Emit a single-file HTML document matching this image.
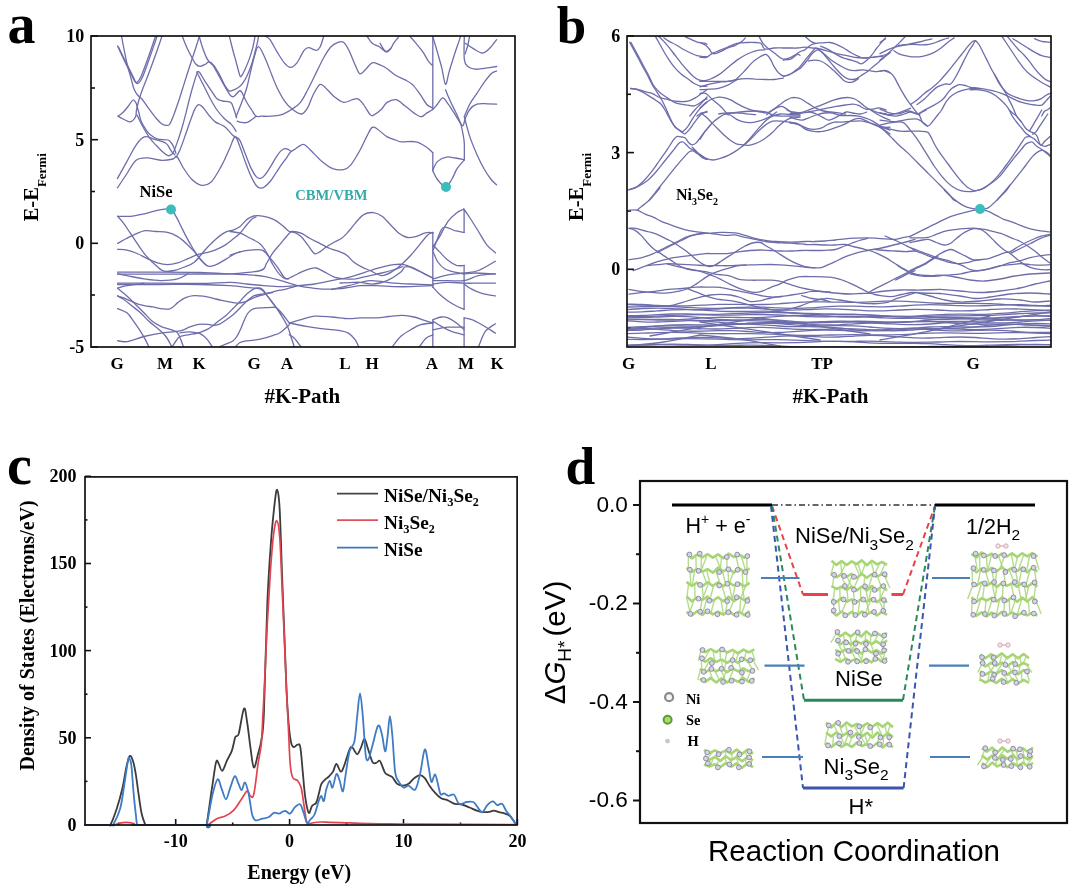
<!DOCTYPE html>
<html><head><meta charset="utf-8"><title>Figure</title>
<style>html,body{margin:0;padding:0;background:#fff;}svg{display:block;}</style>
</head><body>
<svg width="1080" height="892" viewBox="0 0 1080 892">
<rect width="1080" height="892" fill="#fff"/>
<text x="7.5" y="43.3" font-size="56" font-weight="bold" font-family="'Liberation Serif','Times New Roman',serif" text-anchor="start" >a</text>
<text x="84.2" y="42" font-size="18" font-weight="bold" font-family="'Liberation Serif','Times New Roman',serif" text-anchor="end" >10</text>
<line x1="91" y1="36" x2="98" y2="36" stroke="#111" stroke-width="1.6"/>
<text x="84.2" y="145.7" font-size="18" font-weight="bold" font-family="'Liberation Serif','Times New Roman',serif" text-anchor="end" >5</text>
<line x1="91" y1="139.7" x2="98" y2="139.7" stroke="#111" stroke-width="1.6"/>
<text x="84.2" y="249.3" font-size="18" font-weight="bold" font-family="'Liberation Serif','Times New Roman',serif" text-anchor="end" >0</text>
<line x1="91" y1="243.3" x2="98" y2="243.3" stroke="#111" stroke-width="1.6"/>
<text x="84.2" y="353" font-size="18" font-weight="bold" font-family="'Liberation Serif','Times New Roman',serif" text-anchor="end" >-5</text>
<line x1="91" y1="347" x2="98" y2="347" stroke="#111" stroke-width="1.6"/>
<line x1="91" y1="88" x2="95" y2="88" stroke="#111" stroke-width="1.6"/>
<line x1="91" y1="191.5" x2="95" y2="191.5" stroke="#111" stroke-width="1.6"/>
<line x1="91" y1="295" x2="95" y2="295" stroke="#111" stroke-width="1.6"/>
<text x="117" y="369.3" font-size="17" font-weight="bold" font-family="'Liberation Serif','Times New Roman',serif" text-anchor="middle" >G</text>
<text x="165" y="369.3" font-size="17" font-weight="bold" font-family="'Liberation Serif','Times New Roman',serif" text-anchor="middle" >M</text>
<text x="199" y="369.3" font-size="17" font-weight="bold" font-family="'Liberation Serif','Times New Roman',serif" text-anchor="middle" >K</text>
<text x="254" y="369.3" font-size="17" font-weight="bold" font-family="'Liberation Serif','Times New Roman',serif" text-anchor="middle" >G</text>
<text x="287" y="369.3" font-size="17" font-weight="bold" font-family="'Liberation Serif','Times New Roman',serif" text-anchor="middle" >A</text>
<text x="345" y="369.3" font-size="17" font-weight="bold" font-family="'Liberation Serif','Times New Roman',serif" text-anchor="middle" >L</text>
<text x="372" y="369.3" font-size="17" font-weight="bold" font-family="'Liberation Serif','Times New Roman',serif" text-anchor="middle" >H</text>
<text x="432" y="369.3" font-size="17" font-weight="bold" font-family="'Liberation Serif','Times New Roman',serif" text-anchor="middle" >A</text>
<text x="466" y="369.3" font-size="17" font-weight="bold" font-family="'Liberation Serif','Times New Roman',serif" text-anchor="middle" >M</text>
<text x="497" y="369.3" font-size="17" font-weight="bold" font-family="'Liberation Serif','Times New Roman',serif" text-anchor="middle" >K</text>
<text x="302.3" y="403" font-size="21" font-weight="bold" font-family="'Liberation Serif','Times New Roman',serif" text-anchor="middle" >#K-Path</text>
<text transform="translate(38.3,221.3) rotate(-90)" font-size="20.5" font-weight="bold" font-family="'Liberation Serif','Times New Roman',serif">E-E<tspan font-size="13" dy="7.8">Fermi</tspan></text>
<defs><clipPath id="clipA"><rect x="91" y="36" width="424" height="311"/></clipPath><clipPath id="clipB"><rect x="627" y="36" width="424" height="311"/></clipPath></defs><g clip-path="url(#clipA)" fill="none" stroke="#5e5ea2" stroke-width="1.3" stroke-linejoin="round" stroke-linecap="round" opacity="0.9">
<path d="M117.5,46.0C118.8,48.7 122.7,57.2 125.0,62.0C127.3,66.8 129.7,71.6 131.5,75.0C133.3,78.4 134.4,82.2 136.0,82.5C137.6,82.8 139.0,80.6 141.0,76.5C143.0,72.4 145.7,64.2 148.0,58.0C150.3,51.8 153.3,42.7 154.6,39.0C155.8,35.3 155.3,36.5 155.5,36.0"/>
<path d="M118.5,47.0C119.8,49.7 123.9,58.2 126.3,63.0C128.7,67.8 131.0,72.6 132.8,76.0C134.6,79.4 135.6,83.2 137.2,83.5C138.8,83.8 140.3,81.6 142.3,77.5C144.3,73.4 146.9,65.2 149.2,59.0C151.4,52.8 154.5,43.8 155.8,40.0C157.1,36.2 156.8,36.7 157.0,36.0"/>
<path d="M121.5,36.0C122.3,40.3 125.0,54.7 126.6,61.8C128.2,68.9 129.9,74.1 131.1,78.6C132.3,83.1 132.9,86.3 134.0,89.0C135.1,91.7 136.1,93.2 137.5,95.0C138.9,96.8 140.4,97.2 142.3,99.5C144.2,101.8 146.6,105.7 149.0,108.9C151.4,112.2 154.6,116.5 156.8,119.0C159.0,121.5 160.5,123.0 162.0,124.0C163.5,125.0 164.7,125.2 166.0,125.3C167.3,125.3 168.3,125.9 169.6,124.3C170.8,122.7 171.9,119.8 173.5,115.7C175.1,111.7 177.2,105.3 179.0,100.0C180.8,94.7 182.3,89.5 184.0,84.1C185.7,78.7 187.5,73.0 189.3,67.5C191.1,62.0 193.1,56.0 194.8,50.8C196.5,45.5 198.7,38.5 199.5,36.0"/>
<path d="M162.0,36.0C161.1,38.8 158.5,46.5 156.3,52.7C154.1,58.9 151.2,66.8 148.9,73.0C146.6,79.2 144.1,85.2 142.4,89.7C140.7,94.2 139.9,96.6 138.9,100.0C137.9,103.4 137.1,107.2 136.5,110.0C135.9,112.8 136.6,115.0 135.5,117.0C134.4,119.0 132.1,121.5 130.0,121.8C128.0,122.1 125.2,119.9 123.2,119.0C121.2,118.1 118.9,116.7 118.0,116.2"/>
<path d="M118.0,116.2C118.9,115.5 121.4,114.0 123.2,112.2C125.0,110.4 127.2,107.5 128.8,105.5C130.4,103.5 131.8,100.4 133.0,100.0C134.2,99.6 135.2,101.7 136.0,103.0C136.8,104.3 137.0,106.3 137.5,108.0C138.0,109.7 138.4,110.8 139.0,113.0C139.6,115.2 140.0,118.5 141.1,121.2C142.2,123.9 144.1,126.8 145.6,129.0C147.1,131.2 148.0,132.8 150.0,134.5C152.0,136.2 154.8,138.3 157.8,139.2C160.8,140.1 165.6,139.2 168.0,140.0C170.4,140.8 170.9,142.5 172.0,143.9C173.1,145.3 173.7,147.0 174.3,148.6C175.0,150.2 175.6,152.5 175.9,153.3"/>
<path d="M137.0,115.0C138.0,117.0 140.8,123.1 143.0,127.0C145.2,130.9 147.8,135.3 150.0,138.4C152.2,141.5 154.2,143.3 156.3,145.5C158.4,147.7 160.6,150.1 162.5,151.8C164.4,153.5 166.4,155.3 168.0,155.7C169.6,156.1 170.9,155.0 172.0,154.1C173.1,153.2 173.4,152.3 174.3,150.2C175.2,148.1 176.3,145.0 177.5,141.6C178.7,138.2 180.1,134.1 181.4,129.8C182.7,125.5 184.0,120.7 185.3,115.7C186.6,110.7 187.9,105.0 189.2,100.0C190.5,95.0 191.7,90.3 193.0,86.0C194.3,81.7 195.8,76.3 196.8,74.0C197.8,71.7 197.8,70.8 199.1,71.9C200.4,73.0 202.6,77.6 204.7,80.8C206.8,84.0 209.3,87.9 211.4,90.9C213.5,93.9 215.1,97.1 217.0,98.8C218.9,100.5 220.7,100.5 222.6,101.0C224.5,101.5 226.7,101.2 228.2,101.6C229.7,102.0 230.5,101.5 231.6,103.3C232.7,105.1 234.1,109.8 234.9,112.2C235.7,114.6 236.3,116.9 236.6,117.8"/>
<path d="M117.4,187.9C119.0,185.6 123.6,178.6 126.7,174.0C129.8,169.4 132.5,163.1 135.9,160.4C139.3,157.7 142.7,157.9 147.0,157.9C151.3,157.9 157.6,160.2 161.9,160.4C166.2,160.6 170.5,159.6 173.0,159.0C175.5,158.4 175.3,155.3 177.0,156.7C178.7,158.1 180.7,163.8 183.1,167.5C185.5,171.2 188.6,176.1 191.5,179.0C194.4,181.9 197.5,184.5 200.7,185.1C203.9,185.7 207.5,185.4 210.9,182.3C214.3,179.2 218.0,172.2 221.1,166.6C224.2,161.0 227.1,153.9 229.4,149.0C231.7,144.1 233.2,137.3 235.0,137.0C236.8,136.7 238.3,142.8 240.0,147.0C241.7,151.2 243.6,157.4 245.4,162.2C247.2,167.0 249.0,171.8 250.8,175.7C252.6,179.6 254.6,183.4 256.2,185.5C257.8,187.6 259.1,188.0 260.6,188.2C262.1,188.3 263.5,187.6 265.1,186.4C266.8,185.2 268.7,183.2 270.5,181.0C272.3,178.8 274.1,175.7 275.9,173.0C277.7,170.3 279.5,167.5 281.3,164.9C283.1,162.3 285.2,159.8 286.7,157.7C288.2,155.6 288.8,153.8 290.3,152.3C291.8,150.8 293.9,149.9 295.7,148.7C297.5,147.5 299.5,145.8 301.0,145.1C302.5,144.4 302.9,143.8 304.6,144.7C306.3,145.6 308.3,148.0 311.2,150.8C314.1,153.6 318.4,158.5 322.0,161.5C325.6,164.5 329.2,167.3 332.8,168.7C336.4,170.0 340.5,170.2 343.5,169.6C346.5,169.0 348.0,168.2 350.7,165.1C353.4,162.0 357.0,155.6 359.7,150.8C362.4,146.0 364.7,140.3 366.8,136.4C368.9,132.5 370.4,128.6 372.2,127.4C374.0,126.2 375.2,127.7 377.6,129.2C380.0,130.7 383.5,134.6 386.5,136.4C389.5,138.2 393.0,139.1 395.5,140.0C398.0,140.9 398.1,141.5 401.5,141.8C404.9,142.1 411.7,140.9 415.9,141.8C420.1,142.7 423.8,145.4 426.6,147.2C429.4,149.0 431.6,151.7 432.6,152.6"/>
<path d="M117.4,178.6C119.0,175.8 123.6,167.4 126.7,161.9C129.8,156.4 133.0,149.5 135.9,145.3C138.8,141.1 141.2,137.9 144.3,136.9C147.4,135.9 150.9,138.3 154.4,139.3C157.9,140.3 162.8,141.1 165.6,143.0C168.4,144.9 169.6,148.8 171.1,150.8C172.6,152.8 174.2,154.2 174.8,154.9"/>
<path d="M176.0,157.5C176.6,156.3 178.2,153.9 179.8,150.2C181.4,146.5 183.5,140.4 185.3,135.3C187.1,130.2 189.2,123.9 190.8,119.6C192.4,115.3 193.4,111.9 194.7,109.4C196.0,106.9 197.2,105.0 198.6,104.7C200.0,104.4 201.4,105.8 203.3,107.8C205.2,109.8 207.9,114.1 210.0,116.5C212.1,118.9 213.1,120.4 215.6,122.1C218.1,123.8 222.0,124.5 224.8,126.7C227.7,128.9 230.8,133.5 232.7,135.2C234.6,136.9 234.8,136.1 236.0,137.0C237.2,137.9 238.4,137.8 240.0,140.6C241.6,143.4 243.6,149.6 245.4,154.1C247.2,158.6 249.0,163.8 250.8,167.6C252.6,171.3 254.6,174.8 256.2,176.6C257.8,178.4 259.1,178.6 260.6,178.3C262.1,178.0 263.5,176.7 265.1,174.8C266.8,172.9 268.7,169.5 270.5,166.7C272.3,163.8 274.2,160.2 275.9,157.7C277.5,155.1 278.9,152.9 280.4,151.4C281.9,149.9 283.5,149.0 284.9,148.7C286.2,148.4 287.4,149.1 288.5,149.6C289.6,150.1 290.8,151.1 291.2,151.4"/>
<path d="M196.8,71.9C197.9,74.1 201.2,80.8 203.5,85.3C205.8,89.8 208.1,94.7 210.3,98.8C212.6,102.9 214.6,106.6 217.0,110.0C219.4,113.4 222.4,116.6 224.8,119.0C227.2,121.4 229.7,122.5 231.6,124.6C233.5,126.6 235.3,130.2 236.1,131.3"/>
<path d="M182.2,36.0C182.9,37.9 185.2,43.8 186.7,47.2C188.2,50.6 189.7,53.4 191.2,56.2C192.7,59.0 194.2,62.3 195.7,64.0C197.2,65.7 198.5,66.3 200.2,66.3C201.9,66.3 204.3,64.8 205.8,64.0C207.3,63.2 207.8,61.6 209.1,61.8C210.4,62.0 211.9,63.0 213.6,65.1C215.3,67.1 217.3,70.7 219.2,74.1C221.1,77.5 223.1,82.5 224.8,85.3C226.5,88.1 227.8,90.2 229.3,90.9C230.8,91.7 232.3,90.3 233.8,89.8C235.3,89.2 236.8,88.7 238.3,87.6C239.8,86.5 241.3,85.2 242.8,83.1C244.3,81.0 245.8,78.4 247.3,75.2C248.8,72.0 250.4,67.9 251.7,64.0C253.0,60.1 254.2,55.2 255.1,51.7C256.1,48.2 256.8,45.3 257.4,42.7C258.0,40.1 258.3,37.1 258.5,36.0"/>
<path d="M199.1,36.0C199.7,37.9 201.1,43.5 202.4,47.2C203.7,50.9 205.6,55.8 206.9,58.4C208.2,61.0 209.2,61.6 210.3,62.9C211.4,64.2 212.1,64.0 213.6,66.3C215.1,68.5 217.3,73.1 219.2,76.4C221.1,79.8 222.9,83.2 224.8,86.4C226.7,89.6 228.9,93.7 230.4,95.4C231.9,97.1 232.3,97.2 233.8,96.5C235.3,95.8 238.1,91.6 239.4,90.9C240.7,90.2 240.9,91.2 241.7,92.1C242.4,93.0 243.0,94.6 243.9,96.5C244.8,98.4 246.0,101.0 247.3,103.3C248.6,105.5 250.2,107.8 251.7,110.0C253.2,112.2 254.5,115.2 256.2,116.2C257.9,117.2 259.7,116.2 262.0,116.2C264.3,116.2 266.9,116.4 270.0,116.2C273.1,116.0 277.2,116.0 280.8,114.9C284.4,113.8 288.2,111.6 291.5,109.5C294.8,107.4 297.8,105.6 300.5,102.3C303.2,99.0 305.0,94.9 307.7,89.8C310.4,84.7 313.9,77.3 316.6,71.9C319.3,66.5 321.4,61.7 323.8,57.5C326.2,53.3 328.6,49.3 331.0,46.8C333.4,44.3 336.0,43.0 338.1,42.3C340.2,41.5 341.7,41.0 343.5,42.3C345.3,43.6 347.1,46.9 348.9,50.3C350.7,53.7 352.5,59.0 354.3,62.9C356.1,66.8 357.9,72.5 359.7,73.7C361.5,74.9 362.9,71.9 365.0,70.1C367.1,68.3 369.8,63.8 372.2,62.9C374.6,62.0 377.0,63.8 379.4,64.7C381.8,65.6 383.8,66.5 386.5,68.3C389.2,70.0 392.4,73.3 395.5,75.2C398.6,77.1 402.3,78.4 405.1,79.9C407.9,81.4 409.9,82.2 412.3,84.4C414.7,86.7 417.1,90.1 419.5,93.4C421.9,96.7 424.5,101.8 426.6,104.2C428.7,106.6 431.1,107.1 432.0,107.7"/>
<path d="M229.3,36.0C229.9,38.2 231.6,45.2 232.7,49.5C233.8,53.8 235.0,57.7 236.1,61.8C237.2,65.9 238.6,71.7 239.4,74.1C240.2,76.5 240.2,77.2 241.1,76.4C242.0,75.7 243.6,72.6 245.0,69.6C246.4,66.6 248.2,62.1 249.5,58.4C250.8,54.7 252.0,50.9 252.9,47.2C253.8,43.5 254.7,37.9 255.1,36.0"/>
<path d="M236.1,116.7C236.8,114.8 239.2,108.9 240.5,105.5C241.8,102.1 242.8,99.6 243.9,96.5C245.0,93.4 245.9,91.1 247.0,87.0C248.1,82.9 249.3,76.8 250.5,72.0C251.7,67.2 252.7,62.2 254.0,58.0C255.3,53.8 256.6,46.6 258.5,46.7C260.4,46.8 263.0,53.6 265.2,58.4C267.4,63.1 269.9,70.3 271.9,75.2C273.9,80.1 275.1,83.8 277.2,88.0C279.3,92.2 281.9,97.2 284.3,100.6C286.7,104.0 288.6,106.4 291.5,108.6C294.4,110.8 298.7,114.2 301.4,114.0C304.1,113.8 305.8,110.8 307.7,107.7C309.6,104.6 310.9,99.1 313.0,95.2C315.1,91.3 317.8,85.3 320.2,84.4C322.6,83.5 325.0,87.7 327.4,89.8C329.8,91.9 331.9,94.9 334.6,97.0C337.3,99.1 340.5,101.8 343.5,102.3C346.5,102.8 350.1,100.3 352.5,99.7C354.9,99.1 356.1,98.1 357.9,98.8C359.7,99.5 361.1,101.4 363.2,104.1C365.3,106.8 368.6,113.1 370.4,114.9C372.2,116.7 372.2,115.8 374.0,114.9C375.8,114.0 379.0,111.6 381.2,109.5C383.4,107.4 384.7,104.0 387.2,102.4C389.7,100.8 393.1,99.1 396.1,99.7C399.1,100.3 402.1,103.8 405.1,106.0C408.1,108.2 411.4,111.3 414.1,113.1C416.8,114.9 419.2,116.7 421.3,116.7C423.4,116.7 424.7,114.3 426.6,113.1C428.5,111.9 430.8,111.0 432.6,109.5C434.4,108.0 435.7,106.1 437.4,104.2C439.1,102.3 441.0,97.9 442.8,97.9C444.6,97.9 446.1,101.4 448.2,104.2C450.3,107.0 452.9,111.3 455.3,114.9C457.7,118.5 460.9,125.1 462.5,125.7C464.1,126.3 464.0,121.2 465.2,118.5C466.4,115.8 467.8,111.9 469.7,109.5C471.6,107.1 473.9,105.2 476.9,104.2C479.9,103.2 484.3,103.8 487.6,103.8C490.9,103.8 495.1,104.1 496.6,104.2"/>
<path d="M265.0,36.0C265.8,36.6 268.0,36.9 270.0,39.6C272.0,42.3 274.8,48.2 277.2,52.1C279.6,56.0 282.1,60.3 284.3,62.9C286.5,65.5 288.5,67.4 290.6,67.4C292.7,67.4 294.6,65.8 296.9,62.9C299.1,60.0 302.2,52.8 304.1,50.3C306.1,47.8 306.5,47.7 308.6,47.7C310.7,47.7 314.7,50.4 316.6,50.3C318.5,50.1 319.0,49.2 320.2,46.8C321.4,44.4 323.2,37.8 323.8,36.0"/>
<path d="M237.2,121.2C237.8,121.4 238.8,122.1 240.5,122.3C242.2,122.5 244.7,123.3 247.3,122.3C249.9,121.3 254.7,117.2 256.2,116.2"/>
<path d="M366.8,36.0C367.7,37.2 370.1,41.4 372.2,43.2C374.3,45.0 377.0,45.3 379.4,46.8C381.8,48.3 384.6,51.9 386.5,52.1C388.4,52.3 389.8,49.5 391.0,48.0C392.2,46.5 392.6,44.9 393.7,43.2C394.8,41.5 397.0,39.0 397.9,37.8C398.8,36.6 398.8,36.3 399.0,36.0"/>
<path d="M380.0,43.2C380.9,44.5 383.6,50.3 385.4,51.2C387.2,52.1 389.9,49.0 390.8,48.6"/>
<path d="M409.6,36.0C410.7,37.2 413.7,40.5 415.9,43.2C418.1,45.9 420.9,49.1 423.0,52.1C425.1,55.1 426.8,58.9 428.4,61.1C430.0,63.4 431.9,64.8 432.6,65.6"/>
<path d="M432.6,36.0C433.4,38.7 435.8,46.7 437.4,52.1C438.9,57.5 440.5,62.9 441.9,68.3C443.2,73.7 444.3,83.8 445.5,84.4C446.7,85.0 447.8,76.4 449.1,71.9C450.4,67.4 451.9,62.6 453.5,57.5C455.1,52.4 457.7,45.0 458.9,41.4C460.1,37.8 460.4,36.9 460.7,36.0"/>
<path d="M445.5,89.8C446.2,91.6 448.4,97.0 450.0,100.6C451.6,104.2 453.5,107.4 455.3,111.3C457.1,115.2 459.4,119.7 460.7,123.9C462.0,128.1 462.8,133.1 463.4,136.4C464.0,139.7 464.1,139.7 464.3,143.6C464.5,147.5 464.3,157.1 464.3,159.8"/>
<path d="M464.3,116.7C465.2,120.0 467.6,130.1 469.7,136.4C471.8,142.7 474.5,149.0 476.9,154.4C479.3,159.8 481.6,164.5 484.0,168.7C486.4,172.9 489.1,176.8 491.2,179.5C493.3,182.2 495.7,184.0 496.6,184.9"/>
<path d="M464.3,116.7C465.2,114.6 467.6,108.1 469.7,104.2C471.8,100.3 474.5,97.0 476.9,93.4C479.3,89.8 481.6,85.9 484.0,82.6C486.4,79.3 489.1,75.6 491.2,73.7C493.3,71.8 495.7,71.5 496.6,71.0"/>
<path d="M464.3,36.0C464.3,39.9 463.7,54.2 464.3,59.3C464.9,64.4 466.1,64.8 467.9,66.5C469.7,68.2 472.4,68.9 475.1,69.2C477.8,69.5 480.4,68.8 484.0,68.3C487.6,67.8 494.5,66.8 496.6,66.5"/>
<path d="M465.2,43.2C466.6,44.1 470.5,47.0 473.3,48.6C476.1,50.2 479.5,53.0 482.2,53.0C484.9,53.0 487.0,50.8 489.4,48.6C491.8,46.4 495.4,41.1 496.6,39.6"/>
<path d="M469.7,36.0C469.4,37.5 468.6,42.0 467.9,45.0C467.1,48.0 465.6,52.4 465.2,53.9"/>
<path d="M432.6,170.5C433.4,172.0 435.2,176.8 437.4,179.5C439.5,182.2 443.1,186.7 445.5,186.7C447.9,186.7 449.8,182.5 451.7,179.5C453.6,176.5 455.0,172.0 457.1,168.7C459.2,165.4 463.1,161.3 464.3,159.8"/>
<path d="M432.6,170.5C433.4,169.0 435.1,163.8 437.4,161.6C439.7,159.4 443.4,157.7 446.4,157.1C449.4,156.5 452.3,157.6 455.3,158.0C458.3,158.4 462.8,159.5 464.3,159.8"/>
<path d="M432.8,36.0C432.8,48.2 432.8,97.2 432.8,109.5"/>
<path d="M432.8,152.6C432.8,155.6 432.8,167.5 432.8,170.5"/>
<path d="M117.6,216.3C119.7,216.3 125.9,216.7 130.3,216.3C134.7,215.9 139.4,214.8 143.9,213.8C148.4,212.8 153.0,211.2 157.4,210.4C161.8,209.6 167.0,208.2 170.1,209.2C173.2,210.2 174.2,213.4 176.0,216.3C177.8,219.2 179.4,223.1 181.1,226.5C182.8,229.9 184.2,232.9 186.2,236.6C188.2,240.3 190.7,244.8 192.9,248.5C195.2,252.2 197.4,255.8 199.7,258.6C202.0,261.4 204.5,264.1 206.5,265.4C208.5,266.7 209.6,266.5 211.6,266.2C213.6,265.9 215.8,265.0 218.3,263.7C220.8,262.4 224.0,260.3 226.8,258.6C229.6,256.9 233.1,254.6 235.3,253.5C237.5,252.4 239.2,252.2 240.0,251.9"/>
<path d="M117.6,216.3C118.6,217.4 121.4,220.3 123.5,223.1C125.6,225.9 128.0,229.8 130.3,233.2C132.6,236.6 134.6,239.7 137.1,243.4C139.6,247.1 142.7,251.8 145.5,255.2C148.3,258.6 151.4,261.3 154.0,263.7C156.6,266.1 158.8,268.3 160.8,269.6C162.8,270.9 163.7,271.2 165.9,271.3C168.2,271.4 171.2,271.2 174.3,270.5C177.4,269.8 181.1,268.4 184.5,267.0C187.9,265.6 191.2,264.8 194.6,262.0C198.0,259.2 201.4,253.9 204.8,250.2C208.2,246.5 211.5,243.0 214.9,240.0C218.3,237.0 222.0,234.1 225.1,232.4C228.2,230.7 231.1,230.9 233.6,229.9C236.1,228.9 237.8,228.2 240.0,226.5C242.2,224.8 244.6,221.2 246.9,219.5C249.2,217.8 250.9,216.5 253.7,216.0C256.5,215.5 260.5,215.7 263.9,216.3C267.3,216.9 270.9,218.1 274.0,219.7C277.1,221.2 279.9,223.6 282.5,225.6C285.1,227.6 287.3,230.4 289.3,231.5C291.3,232.6 292.3,231.6 294.3,232.4C296.3,233.2 298.8,234.5 301.1,236.6C303.4,238.7 305.6,242.3 307.9,245.1C310.1,247.9 312.6,252.5 314.6,253.6C316.6,254.7 317.7,253.0 319.7,251.9C321.7,250.8 323.9,248.5 326.5,246.8C329.1,245.1 332.5,243.1 335.0,241.7C337.5,240.3 339.4,240.0 341.7,238.3C343.9,236.6 346.2,234.0 348.5,231.5C350.8,229.0 352.8,225.9 355.3,223.1C357.8,220.3 360.7,216.3 363.7,214.6C366.7,212.8 370.4,212.3 373.5,212.6C376.6,212.9 379.2,214.3 382.0,216.3C384.8,218.3 387.7,222.0 390.5,224.8C393.3,227.6 396.1,231.1 398.9,233.2C401.7,235.3 404.6,236.9 407.4,237.5C410.2,238.1 413.1,237.3 415.9,236.6C418.7,235.9 422.1,233.9 424.3,233.2C426.6,232.5 427.9,232.4 429.4,232.4C430.9,232.4 432.5,233.1 433.1,233.2"/>
<path d="M117.6,243.4C119.1,242.6 123.9,239.9 126.9,238.3C129.9,236.8 132.3,235.4 135.4,234.1C138.5,232.8 142.1,231.1 145.5,230.7C148.9,230.3 152.0,231.2 155.7,231.5C159.4,231.8 163.8,231.6 167.5,232.4C171.2,233.2 174.6,234.8 177.7,236.6C180.8,238.4 183.4,240.8 186.2,243.4C189.0,246.0 192.1,249.1 194.6,251.9C197.1,254.7 199.4,258.1 201.4,260.3C203.4,262.6 205.7,264.5 206.5,265.4"/>
<path d="M117.6,249.3C119.1,249.5 123.7,249.5 126.9,250.2C130.2,250.9 133.7,252.1 137.1,253.5C140.5,254.9 143.8,257.0 147.2,258.6C150.6,260.2 154.0,261.9 157.4,262.9C160.8,263.9 164.1,264.6 167.5,264.6C170.9,264.6 174.3,263.9 177.7,262.9C181.1,261.9 184.5,260.0 187.9,258.6C191.3,257.2 194.9,255.4 198.0,254.4C201.1,253.4 203.7,253.4 206.5,252.7C209.3,252.0 211.8,251.5 214.9,250.2C218.0,248.9 222.3,246.8 225.1,245.1C227.9,243.4 229.4,242.0 231.9,240.0C234.4,238.0 237.5,235.8 240.0,233.2C242.5,230.6 245.0,226.9 247.0,224.5C249.0,222.1 250.5,220.2 252.0,219.0C253.5,217.8 255.3,217.3 256.0,217.0"/>
<path d="M117.6,273.9C119.1,274.2 122.5,274.8 126.9,275.6C131.3,276.4 138.2,278.1 143.9,278.9C149.6,279.7 155.2,280.6 160.8,280.6C166.4,280.6 173.2,280.0 177.7,278.9C182.2,277.8 186.2,274.7 187.9,273.9"/>
<path d="M117.6,272.2C124.7,272.2 146.3,272.1 160.0,272.2C173.7,272.2 188.3,272.2 200.0,272.5C211.7,272.8 222.2,273.5 230.0,273.9C237.8,274.3 241.2,274.3 246.9,274.7C252.6,275.1 258.2,275.4 263.9,276.4C269.5,277.4 275.2,279.1 280.8,280.6C286.4,282.2 292.1,284.4 297.7,285.7C303.3,287.0 309.0,287.7 314.6,288.3C320.2,288.9 326.0,289.5 331.6,289.1C337.2,288.7 342.1,287.1 348.5,285.7C354.9,284.3 362.4,281.0 370.0,280.6C377.6,280.2 387.1,282.6 393.9,283.2C400.7,283.8 404.3,283.7 410.8,284.0C417.3,284.3 429.3,284.8 433.0,285.0"/>
<path d="M117.6,274.2C124.7,274.2 146.3,274.2 160.0,274.2C173.7,274.2 188.3,274.1 200.0,274.0C211.7,273.9 219.9,274.5 230.0,273.9C240.1,273.3 254.4,272.2 260.5,270.5C266.6,268.8 264.4,266.5 266.4,263.7C268.4,260.9 269.9,257.0 272.3,253.6C274.7,250.2 278.0,246.8 280.8,243.4C283.6,240.0 287.3,235.2 289.3,233.2C291.3,231.2 290.6,231.5 292.6,231.5C294.6,231.5 298.3,232.1 301.1,233.2C303.9,234.3 306.5,236.6 309.6,238.3C312.7,240.0 316.3,241.7 319.7,243.4C323.1,245.1 326.5,247.1 329.9,248.5C333.3,249.9 337.2,250.8 340.0,251.9C342.8,253.0 344.5,253.6 346.8,255.3C349.1,257.0 351.1,260.0 353.6,262.0C356.1,264.0 359.3,265.7 362.0,267.1C364.7,268.5 366.7,269.1 370.0,270.5C373.3,271.9 378.0,275.6 382.0,275.6C386.0,275.6 390.5,272.5 393.9,270.5C397.3,268.5 399.5,266.2 402.3,263.7C405.1,261.2 408.0,258.4 410.8,255.3C413.6,252.2 416.5,248.5 419.3,245.1C422.1,241.7 425.4,237.0 427.7,234.9C430.0,232.8 432.1,232.8 433.0,232.4"/>
<path d="M117.6,283.2C124.7,283.2 146.3,283.1 160.0,283.2C173.7,283.2 188.3,283.6 200.0,283.5C211.7,283.4 222.2,282.2 230.0,282.3C237.8,282.4 241.2,283.4 246.9,284.0C252.6,284.6 258.2,285.3 263.9,285.7C269.5,286.1 275.2,286.6 280.8,286.6C286.4,286.6 292.1,286.1 297.7,285.7C303.3,285.3 309.0,284.9 314.6,284.0C320.2,283.1 326.0,281.7 331.6,280.6C337.2,279.5 343.8,278.4 348.5,277.3C353.2,276.2 356.4,275.0 360.0,273.9C363.6,272.8 366.5,271.6 370.2,270.5C373.9,269.4 378.1,268.1 382.0,267.1C385.9,266.1 390.2,265.0 393.9,264.6C397.6,264.2 400.6,263.9 404.0,264.6C407.4,265.3 410.8,267.2 414.2,268.8C417.6,270.4 421.1,272.3 424.3,273.9C427.5,275.4 431.6,277.4 433.1,278.1"/>
<path d="M117.6,284.5C124.7,284.5 146.3,284.5 160.0,284.5C173.7,284.5 188.3,284.3 200.0,284.5C211.7,284.7 222.2,285.2 230.0,285.7C237.8,286.2 241.8,286.8 246.9,287.4C252.0,288.0 257.1,287.7 260.5,289.1C263.9,290.5 264.9,293.4 267.2,295.9C269.4,298.4 271.7,301.2 274.0,304.3C276.3,307.4 278.5,310.8 280.8,314.5C283.1,318.2 285.9,322.7 287.6,326.4C289.3,330.1 289.8,333.1 290.9,336.5C292.0,339.9 293.7,345.2 294.3,347.0"/>
<path d="M117.6,288.2C119.1,287.8 122.5,286.5 126.9,285.7C131.3,284.9 141.1,283.6 143.9,283.2"/>
<path d="M117.6,295.9C119.1,296.5 123.4,297.9 126.9,299.3C130.4,300.7 134.6,303.0 138.8,304.3C143.0,305.6 147.2,306.1 152.3,306.9C157.4,307.7 165.0,309.8 169.2,309.1C173.4,308.4 175.0,304.5 177.7,302.6C180.4,300.7 182.9,298.8 185.6,297.6C188.3,296.5 191.0,295.9 193.9,295.7C196.8,295.5 200.0,295.8 203.1,296.2C206.2,296.6 209.3,297.4 212.4,298.1C215.5,298.8 218.6,299.7 221.7,300.4C224.8,301.1 228.3,301.8 230.9,302.2C233.5,302.6 235.1,303.2 237.4,303.1C239.7,303.0 242.0,302.7 244.8,301.8C247.6,300.9 251.0,298.8 254.1,297.6C257.2,296.4 260.2,295.7 263.3,294.8C266.4,293.9 269.8,292.8 272.6,292.0C275.4,291.2 277.8,290.7 280.0,290.2C282.2,289.7 282.9,289.9 285.9,289.1C288.8,288.4 295.7,286.3 297.7,285.7"/>
<path d="M117.6,288.2C119.1,289.5 123.9,293.2 126.9,295.9C129.9,298.6 132.6,301.5 135.4,304.3C138.2,307.1 141.1,310.0 143.9,312.8C146.7,315.6 149.5,319.1 152.3,321.3C155.1,323.6 157.7,324.9 160.8,326.3C163.9,327.7 168.1,328.6 170.9,329.7C173.7,330.8 175.7,330.6 177.7,333.1C179.7,335.7 181.8,342.7 182.8,345.0C183.8,347.3 183.4,346.7 183.5,347.0"/>
<path d="M117.6,295.9C118.6,296.5 121.1,297.6 123.5,299.3C125.9,301.0 129.2,303.8 132.0,306.0C134.8,308.2 137.7,310.2 140.5,312.8C143.3,315.4 145.8,318.5 148.9,321.3C152.0,324.1 156.3,327.2 159.1,329.7C161.9,332.2 163.9,333.9 165.9,336.5C167.9,339.1 170.0,343.2 170.9,345.0C171.8,346.8 171.4,346.7 171.5,347.0"/>
<path d="M117.6,308.6C119.1,309.3 124.2,310.7 126.9,312.8C129.6,314.9 131.4,318.2 133.7,321.3C136.0,324.4 138.5,328.3 140.5,331.4C142.5,334.5 144.1,337.3 145.5,339.9C146.9,342.5 148.3,345.8 148.9,347.0"/>
<path d="M117.6,340.7C119.1,340.9 122.5,342.3 126.9,341.6C131.3,340.9 138.2,337.9 143.9,336.5C149.6,335.1 154.8,334.0 160.8,333.1C166.8,332.2 175.2,331.9 180.0,330.9C184.8,329.9 186.2,328.3 189.3,327.2C192.4,326.1 195.4,324.9 198.5,324.4C201.6,323.9 205.3,324.2 207.8,324.4C210.3,324.6 211.5,325.4 213.3,325.4C215.2,325.4 216.7,325.3 218.9,324.4C221.1,323.5 223.8,321.5 226.3,319.8C228.8,318.1 231.4,316.3 233.7,314.3C236.0,312.3 238.0,310.0 240.2,307.8C242.4,305.6 244.4,303.3 246.7,301.3C249.0,299.3 251.3,296.9 254.1,295.7C256.9,294.5 260.2,294.4 263.3,293.9C266.4,293.4 271.1,292.7 272.6,292.5"/>
<path d="M172.0,347.0C172.7,346.0 174.7,342.8 176.0,341.0C177.3,339.2 177.8,337.6 180.0,336.5C182.2,335.4 186.2,335.2 189.3,334.6C192.4,334.0 195.4,333.7 198.5,332.8C201.6,331.9 205.3,330.3 207.8,329.1C210.3,327.9 211.5,326.8 213.3,325.4C215.2,324.0 216.7,322.4 218.9,320.7C221.1,319.0 223.8,317.3 226.3,315.2C228.8,313.1 231.5,310.0 233.7,307.8C235.9,305.6 237.1,304.5 239.3,302.2C241.5,299.9 244.2,296.1 246.7,293.9C249.2,291.7 251.9,289.8 254.1,288.8C256.2,287.8 258.1,287.7 259.6,287.9C261.1,288.1 261.9,288.7 263.3,290.2C264.7,291.7 266.4,294.5 268.0,296.7C269.6,298.9 271.1,301.1 272.6,303.1C274.1,305.1 275.8,306.8 277.2,308.7C278.6,310.6 280.2,313.5 280.8,314.5"/>
<path d="M180.0,332.8C181.6,332.6 186.2,331.8 189.3,331.9C192.4,332.0 196.2,332.6 198.5,333.2C200.8,333.8 201.5,334.4 203.1,335.6C204.7,336.8 206.4,338.5 207.8,340.2C209.2,341.9 210.7,344.5 211.5,345.7C212.3,346.9 212.2,347.3 212.4,347.6"/>
<path d="M230.0,231.5C231.7,231.8 236.8,232.1 240.2,233.2C243.6,234.3 246.9,236.5 250.3,238.3C253.7,240.1 257.7,241.6 260.5,244.2C263.3,246.8 265.2,250.3 267.2,253.6C269.2,256.9 270.3,260.3 272.3,263.7C274.3,267.1 276.8,271.4 279.1,273.9C281.4,276.4 283.6,278.5 285.9,278.9C288.1,279.3 290.1,277.5 292.6,276.4C295.1,275.3 298.3,273.5 301.1,272.2C303.9,270.9 307.1,269.5 309.6,268.8C312.1,268.1 313.8,267.4 316.3,268.0C318.8,268.6 321.7,270.6 324.8,272.2C327.9,273.8 331.6,276.2 335.0,277.3C338.4,278.4 341.7,278.6 345.1,278.9C348.5,279.2 351.2,279.4 355.3,278.9C359.4,278.3 365.6,276.6 370.0,275.6C374.4,274.6 378.2,273.9 382.0,273.0C385.8,272.1 389.5,271.1 393.0,270.0C396.5,268.9 401.3,267.1 403.0,266.5"/>
<path d="M230.0,255.3C231.7,254.7 236.8,252.8 240.2,251.9C243.6,251.1 246.6,250.5 250.3,250.2C254.0,249.9 258.8,248.8 262.2,250.2C265.6,251.6 268.1,255.8 270.6,258.6C273.1,261.4 275.1,264.0 277.4,267.1C279.7,270.2 282.4,275.3 284.2,277.3C286.0,279.3 287.7,278.6 288.4,278.9"/>
<path d="M219.8,346.7C220.9,346.2 224.1,344.8 226.3,343.9C228.5,343.0 231.0,342.5 232.8,341.1C234.7,339.7 236.0,337.8 237.4,335.6C238.8,333.4 239.9,330.9 241.1,328.1C242.3,325.3 243.6,321.5 244.8,318.9C246.0,316.3 246.9,314.1 248.5,312.4C250.1,310.7 251.6,309.5 254.1,308.7C256.6,307.9 260.2,308.0 263.3,307.8C266.4,307.6 270.4,307.3 272.6,307.3C274.8,307.3 274.9,307.0 276.3,307.8C277.7,308.6 278.6,309.5 280.8,312.0C283.0,314.5 287.9,321.2 289.3,323.0"/>
<path d="M289.3,323.0C291.3,322.4 296.9,320.7 301.1,319.6C305.3,318.5 309.5,316.6 314.6,316.2C319.7,315.8 326.0,316.6 331.6,317.0C337.2,317.4 343.8,318.6 348.5,318.7C353.2,318.8 355.3,318.0 360.0,317.9C364.7,317.8 372.1,318.1 376.9,317.9C381.7,317.7 384.6,316.9 388.8,316.5C393.0,316.1 398.1,315.3 402.3,315.4C406.5,315.5 410.5,316.2 414.2,317.0C417.9,317.8 421.1,319.4 424.3,320.4C427.5,321.4 431.6,322.6 433.1,323.0"/>
<path d="M289.3,323.0C292.1,323.6 300.6,325.4 306.2,326.4C311.8,327.4 317.5,328.2 323.1,328.9C328.7,329.6 335.8,329.9 340.0,330.6C344.2,331.3 345.9,331.6 348.5,333.1C351.1,334.7 353.6,337.6 355.3,339.9C357.0,342.2 358.1,345.8 358.7,347.0"/>
<path d="M235.6,346.7C236.2,346.1 237.8,343.9 239.3,343.0C240.8,342.1 242.3,341.6 244.8,341.1C247.3,340.6 251.0,340.7 254.1,340.2C257.2,339.7 260.2,339.1 263.3,338.3C266.4,337.5 269.8,336.5 272.6,335.6C275.4,334.7 277.2,334.6 280.0,332.8C282.8,331.0 287.8,326.1 289.3,324.7"/>
<path d="M289.3,334.8C290.1,335.4 292.3,336.2 294.3,338.2C296.3,340.2 300.0,345.5 301.1,347.0"/>
<path d="M340.0,283.0C341.7,282.9 346.7,282.7 350.0,282.6C353.3,282.5 356.1,282.1 360.0,282.3C363.9,282.5 369.0,284.3 373.5,284.0C378.0,283.7 382.6,282.6 387.1,280.6C391.6,278.6 397.6,274.5 400.6,272.2C403.6,269.9 403.1,267.8 405.0,267.0C406.9,266.2 409.4,266.8 412.0,267.5C414.6,268.2 417.0,269.8 420.4,271.5C423.8,273.2 430.6,276.9 432.6,278.0"/>
<path d="M331.6,289.5C333.8,289.2 340.3,288.6 345.0,288.0C349.7,287.4 354.7,286.1 360.0,285.7C365.3,285.3 371.2,285.5 376.9,285.7C382.5,285.9 388.2,286.5 393.9,286.6C399.5,286.8 404.3,286.8 410.8,286.6C417.3,286.5 429.4,285.9 433.1,285.7"/>
<path d="M433.1,246.8C434.2,245.1 437.1,240.8 439.6,236.6C442.1,232.4 445.2,225.3 448.0,221.4C450.8,217.5 453.9,214.9 456.5,212.9C459.1,210.9 462.0,210.1 463.3,209.5C464.6,208.9 463.0,208.1 464.1,209.5C465.2,210.9 467.6,214.3 470.0,218.0C472.4,221.7 475.7,227.0 478.5,231.5C481.3,236.0 484.2,241.6 487.0,245.1C489.8,248.6 494.0,251.4 495.4,252.7"/>
<path d="M433.1,250.2C434.5,246.8 439.1,233.7 441.3,229.9C443.5,226.1 444.1,227.2 446.3,227.3C448.6,227.4 451.8,229.8 454.8,230.7C457.8,231.5 462.6,232.1 464.1,232.4"/>
<path d="M433.1,245.1C434.2,246.2 437.1,249.4 439.6,251.9C442.1,254.4 445.2,258.1 448.0,260.3C450.8,262.6 453.8,264.5 456.5,265.4C459.2,266.2 462.8,265.4 464.1,265.4"/>
<path d="M433.1,251.9C433.9,253.6 436.0,259.2 437.9,262.0C439.8,264.8 441.8,267.1 444.6,268.8C447.4,270.5 451.6,271.4 454.8,272.2C458.1,273.0 462.6,273.6 464.1,273.9"/>
<path d="M433.1,279.0C435.0,278.4 441.0,276.5 444.6,275.6C448.2,274.8 451.6,274.3 454.8,273.9C458.1,273.5 460.2,273.6 464.1,273.0C468.1,272.4 473.3,272.5 478.5,270.5C483.7,268.5 492.6,262.8 495.4,261.2"/>
<path d="M433.1,280.6C435.6,280.6 442.8,280.6 448.0,280.6C453.2,280.6 459.0,281.4 464.1,280.6C469.2,279.8 473.3,276.7 478.5,275.6C483.7,274.5 492.6,274.2 495.4,273.9"/>
<path d="M433.1,284.0C435.6,283.7 442.8,282.4 448.0,282.3C453.2,282.2 459.0,283.1 464.1,283.2C469.2,283.3 473.3,283.2 478.5,283.2C483.7,283.2 492.6,283.2 495.4,283.2"/>
<path d="M433.1,287.4C434.2,288.5 437.1,291.9 439.6,294.2C442.1,296.5 445.2,299.0 448.0,301.0C450.8,303.0 453.8,304.6 456.5,306.0C459.2,307.4 462.8,308.8 464.1,309.4"/>
<path d="M464.1,284.0C465.4,284.9 468.7,287.6 471.7,289.1C474.7,290.7 477.9,292.2 481.9,293.3C485.8,294.4 493.1,295.5 495.4,295.9"/>
<path d="M464.1,273.9C465.9,273.8 469.9,273.0 475.1,273.0C480.3,273.0 492.0,273.8 495.4,273.9"/>
<path d="M392.2,347.0C393.6,345.2 397.5,339.4 400.6,336.5C403.7,333.6 407.4,331.7 410.8,329.7C414.2,327.7 417.2,325.8 420.9,324.7C424.6,323.6 431.1,323.3 433.1,323.0"/>
<path d="M419.3,347.0C420.4,345.5 423.7,340.2 426.0,338.2C428.3,336.2 431.9,335.4 433.1,334.8"/>
<path d="M433.1,319.6C434.5,319.2 438.8,317.3 441.3,317.0C443.8,316.7 445.5,316.9 448.0,317.9C450.5,318.9 453.8,321.0 456.5,323.0C459.2,325.0 462.8,328.6 464.1,329.7"/>
<path d="M433.1,321.3C434.5,322.1 438.2,324.7 441.3,326.4C444.4,328.1 447.6,330.0 451.4,331.4C455.2,332.8 462.0,334.2 464.1,334.8"/>
<path d="M433.1,329.7C435.6,329.3 442.8,327.6 448.0,327.2C453.2,326.8 461.4,327.2 464.1,327.2"/>
<path d="M464.1,317.9C465.4,318.2 468.7,318.5 471.7,319.6C474.7,320.7 477.9,322.4 481.9,324.7C485.8,326.9 493.1,331.7 495.4,333.1"/>
<path d="M478.5,347.0C479.6,344.4 482.5,335.3 485.3,331.4C488.1,327.5 493.7,325.1 495.4,323.8"/>
<path d="M432.8,232.4C432.8,241.6 432.8,278.2 432.8,287.4"/>
<path d="M464.1,209.5C464.1,213.3 464.1,228.6 464.1,232.4"/>
<path d="M464.1,265.4C464.1,272.7 464.1,302.1 464.1,309.4"/>
<path d="M432.8,319.6C432.8,324.2 432.8,342.4 432.8,347.0"/>
<path d="M464.1,317.9C464.1,322.8 464.1,342.1 464.1,347.0"/>
</g>
<rect x="91" y="36" width="424" height="311" fill="none" stroke="#111" stroke-width="1.7"/>
<text x="139.6" y="197.4" font-size="16.5" font-weight="bold" font-family="'Liberation Serif','Times New Roman',serif" text-anchor="start" >NiSe</text>
<text x="295.3" y="199.9" font-size="14.6" font-weight="bold" font-family="'Liberation Serif','Times New Roman',serif" text-anchor="start" fill="#35aaaa">CBM/VBM</text>
<circle cx="171" cy="209.5" r="5" fill="#3cbcbc"/>
<circle cx="446" cy="187" r="5" fill="#3cbcbc"/>
<text x="556.8" y="43.3" font-size="53" font-weight="bold" font-family="'Liberation Serif','Times New Roman',serif" text-anchor="start" >b</text>
<text x="620.2" y="42" font-size="18" font-weight="bold" font-family="'Liberation Serif','Times New Roman',serif" text-anchor="end" >6</text>
<line x1="627" y1="36" x2="634" y2="36" stroke="#111" stroke-width="1.6"/>
<text x="620.2" y="158.6" font-size="18" font-weight="bold" font-family="'Liberation Serif','Times New Roman',serif" text-anchor="end" >3</text>
<line x1="627" y1="152.6" x2="634" y2="152.6" stroke="#111" stroke-width="1.6"/>
<text x="620.2" y="275.3" font-size="18" font-weight="bold" font-family="'Liberation Serif','Times New Roman',serif" text-anchor="end" >0</text>
<line x1="627" y1="269.3" x2="634" y2="269.3" stroke="#111" stroke-width="1.6"/>
<line x1="627" y1="94.3" x2="631" y2="94.3" stroke="#111" stroke-width="1.6"/>
<line x1="627" y1="211" x2="631" y2="211" stroke="#111" stroke-width="1.6"/>
<line x1="627" y1="327.8" x2="631" y2="327.8" stroke="#111" stroke-width="1.6"/>
<text x="628.6" y="369.3" font-size="17" font-weight="bold" font-family="'Liberation Serif','Times New Roman',serif" text-anchor="middle" >G</text>
<text x="711" y="369.3" font-size="17" font-weight="bold" font-family="'Liberation Serif','Times New Roman',serif" text-anchor="middle" >L</text>
<text x="822" y="369.3" font-size="17" font-weight="bold" font-family="'Liberation Serif','Times New Roman',serif" text-anchor="middle" >TP</text>
<text x="973" y="369.3" font-size="17" font-weight="bold" font-family="'Liberation Serif','Times New Roman',serif" text-anchor="middle" >G</text>
<text x="830.5" y="403" font-size="21" font-weight="bold" font-family="'Liberation Serif','Times New Roman',serif" text-anchor="middle" >#K-Path</text>
<text transform="translate(583.3,221) rotate(-90)" font-size="20.5" font-weight="bold" font-family="'Liberation Serif','Times New Roman',serif">E-E<tspan font-size="13" dy="7.8">Fermi</tspan></text>
<g clip-path="url(#clipB)" fill="none" stroke="#5e5ea2" stroke-width="1.3" stroke-linejoin="round" stroke-linecap="round" opacity="0.9">
<path d="M629.7,42.3C630.8,44.2 633.9,50.0 636.0,53.9C638.1,57.8 640.3,62.0 642.2,65.6C644.1,69.2 646.0,72.4 647.6,75.5C649.2,78.6 650.6,81.7 652.1,84.4C653.6,87.1 655.1,89.2 656.6,91.6C658.1,94.0 659.6,96.1 661.1,98.8C662.6,101.5 664.2,104.8 665.6,107.7C667.0,110.6 667.8,113.0 669.2,116.0C670.6,119.0 672.6,123.5 674.1,125.8C675.6,128.1 677.0,128.5 678.5,129.7C680.0,130.9 681.9,132.3 683.0,133.0C684.1,133.7 684.2,134.2 685.3,133.6C686.4,132.9 688.0,131.2 689.7,129.1C691.4,127.0 693.4,123.7 695.3,121.3C697.2,118.9 699.0,116.3 701.0,114.6C703.0,112.9 706.0,111.8 707.0,111.2"/>
<path d="M630.8,42.3C631.8,44.2 635.0,50.0 637.1,53.9C639.2,57.8 641.4,62.0 643.3,65.6C645.2,69.2 646.9,72.1 648.7,75.5C650.5,78.9 651.8,83.2 653.9,86.2C656.0,89.2 658.9,91.5 661.1,93.4C663.4,95.4 665.2,96.4 667.4,97.9C669.6,99.4 672.3,101.4 674.5,102.4C676.7,103.5 678.5,103.8 680.8,104.2C683.0,104.7 685.9,104.8 688.0,105.1C690.1,105.4 691.8,106.2 693.4,106.0C695.0,105.8 696.3,105.1 697.9,104.2C699.5,103.3 701.7,101.5 703.2,100.6C704.7,99.7 706.4,99.1 707.0,98.8"/>
<path d="M630.6,88.5C631.8,88.7 635.4,88.9 637.8,89.4C640.2,89.9 642.5,90.9 644.9,91.6C647.3,92.3 649.9,92.5 652.1,93.4C654.4,94.3 656.3,96.1 658.4,97.0C660.5,97.9 662.5,98.2 664.7,98.8C666.9,99.4 669.4,100.1 671.8,100.6C674.2,101.0 676.8,101.3 679.0,101.5C681.2,101.7 683.5,101.7 685.3,101.5C687.1,101.3 688.1,101.2 689.8,100.6C691.4,100.0 693.4,99.0 695.2,97.9C697.0,96.9 698.5,95.7 700.5,94.3C702.5,92.9 705.9,90.5 707.0,89.8"/>
<path d="M630.6,88.5C631.8,88.7 635.4,89.0 637.8,89.8C640.2,90.6 642.5,92.1 644.9,93.4C647.3,94.8 650.0,96.6 652.1,97.9C654.2,99.2 656.0,100.5 657.5,101.5C659.0,102.5 659.9,102.9 661.1,104.2C662.3,105.5 663.5,107.5 664.7,109.5C665.9,111.5 667.1,113.8 668.3,116.0C669.5,118.2 670.5,120.4 671.8,122.4C673.1,124.4 675.0,126.7 676.3,128.0C677.6,129.3 678.6,129.7 679.7,130.3C680.8,130.9 681.7,132.0 683.0,131.4C684.3,130.8 685.8,129.2 687.5,126.9C689.2,124.7 691.2,120.7 693.1,117.9C695.0,115.1 696.8,112.3 698.7,110.1C700.6,107.9 702.9,105.8 704.3,104.5C705.7,103.2 706.5,102.6 707.0,102.2"/>
<path d="M655.7,36.9C656.5,38.2 658.7,42.3 660.2,45.0C661.7,47.7 663.2,50.5 664.7,53.0C666.2,55.5 667.6,57.8 669.2,60.2C670.8,62.6 672.6,65.2 674.5,67.4C676.4,69.7 678.5,71.8 680.8,73.7C683.0,75.6 685.8,77.4 688.0,79.0C690.2,80.6 692.2,82.3 694.3,83.5C696.4,84.7 698.4,85.8 700.5,86.2C702.6,86.7 705.9,86.2 707.0,86.2"/>
<path d="M658.4,36.0C659.3,36.9 662.0,39.4 663.8,41.4C665.6,43.4 667.3,45.3 669.2,47.7C671.1,50.1 673.3,53.0 675.4,55.7C677.5,58.4 679.6,61.2 681.7,63.8C683.8,66.3 686.0,68.9 688.0,71.0C690.0,73.1 691.6,74.9 693.4,76.4C695.2,77.9 696.9,79.2 698.7,79.9C700.5,80.6 702.7,80.7 704.1,80.8C705.5,80.9 706.5,80.8 707.0,80.8"/>
<path d="M663.8,37.8C664.7,38.4 667.1,40.2 669.2,41.4C671.3,42.6 673.9,43.6 676.3,45.0C678.7,46.4 681.1,48.2 683.5,49.5C685.9,50.8 688.5,52.0 690.7,53.0C693.0,54.0 694.9,55.1 697.0,55.7C699.1,56.3 701.5,56.5 703.2,56.6C704.9,56.8 706.4,56.6 707.0,56.6"/>
<path d="M685.3,36.9C686.3,37.4 689.5,38.7 691.6,39.6C693.7,40.5 695.8,41.7 697.9,42.3C700.0,42.9 702.6,42.9 704.1,43.2C705.6,43.5 706.5,44.0 707.0,44.1"/>
<path d="M689.8,116.0C690.7,114.9 693.4,111.5 695.2,109.5C697.0,107.5 698.5,106.3 700.5,104.2C702.5,102.1 705.9,98.2 707.0,97.0"/>
<path d="M697.0,116.0C697.7,115.5 699.7,113.7 701.4,113.1C703.1,112.5 706.1,112.3 707.0,112.2"/>
<path d="M629.2,189.6C630.3,189.2 633.6,188.9 636.0,187.4C638.4,185.9 641.2,183.3 643.8,180.7C646.4,178.1 649.0,175.1 651.6,171.7C654.2,168.3 656.9,164.2 659.5,160.5C662.1,156.8 664.9,152.9 667.3,149.3C669.7,145.8 672.4,141.3 674.1,139.2C675.8,137.0 676.1,136.8 677.4,136.4C678.7,136.0 680.6,136.7 681.9,137.0C683.2,137.3 684.2,137.2 685.3,138.1C686.4,139.0 687.5,141.5 688.6,142.6C689.7,143.7 690.7,144.8 692.0,144.8C693.3,144.8 694.6,144.5 696.5,142.6C698.4,140.7 701.5,135.8 703.2,133.6C705.0,131.3 705.5,130.8 707.0,129.1C708.5,127.3 710.2,124.9 712.1,123.1C714.0,121.3 716.2,119.5 718.2,118.1C720.2,116.7 722.2,115.3 724.2,114.5C726.2,113.7 729.3,113.7 730.3,113.5"/>
<path d="M629.2,189.6C630.7,189.1 635.2,187.8 638.2,186.3C641.2,184.8 644.2,183.1 647.2,180.7C650.2,178.3 653.1,175.1 656.1,171.7C659.1,168.3 662.1,164.2 665.1,160.5C668.1,156.8 671.7,152.3 674.1,149.3C676.5,146.3 678.2,143.8 679.7,142.6C681.2,141.4 681.9,141.6 683.0,142.0C684.1,142.4 685.3,143.8 686.4,144.8C687.5,145.8 688.4,147.3 689.7,148.2C691.0,149.1 692.7,149.5 694.2,150.4C695.7,151.3 697.2,152.7 698.7,153.8C700.2,154.9 701.8,156.2 703.2,157.1C704.6,158.0 706.4,159.0 707.0,159.4"/>
<path d="M649.4,200.0C650.9,198.1 655.4,192.3 658.4,188.5C661.4,184.7 664.3,181.0 667.3,177.3C670.3,173.6 673.5,169.5 676.3,166.1C679.1,162.7 681.9,159.5 684.1,157.1C686.3,154.7 688.2,152.5 689.7,151.5C691.2,150.5 691.8,150.6 693.1,151.0C694.4,151.4 695.9,152.6 697.6,153.8C699.3,155.0 701.6,157.4 703.2,158.3C704.8,159.2 706.4,159.2 707.0,159.4"/>
<path d="M627.0,190.4C627.4,190.3 628.8,189.7 629.2,189.6"/>
<path d="M692.0,147.1C692.8,147.8 695.0,150.0 696.5,151.5C698.0,153.0 699.2,154.7 701.0,156.0C702.8,157.3 706.0,158.8 707.0,159.4"/>
<path d="M700.0,42.5C700.9,43.0 704.1,44.2 705.6,45.3C707.1,46.4 708.2,47.7 709.3,49.0C710.4,50.3 710.9,52.3 712.0,53.1C713.1,53.9 714.3,53.8 715.7,53.6C717.1,53.4 718.4,52.6 720.4,51.7C722.4,50.8 725.3,49.1 727.8,48.0C730.3,46.9 732.9,46.4 735.2,45.3C737.5,44.2 740.0,42.8 741.7,41.6C743.4,40.4 744.8,38.5 745.4,37.9"/>
<path d="M700.0,57.3C701.1,57.3 704.5,57.9 706.5,57.3C708.5,56.7 710.0,54.7 712.0,53.6C714.0,52.5 715.9,51.9 718.5,50.8C721.1,49.7 724.7,48.3 727.8,47.1C730.9,45.9 733.9,44.2 737.0,43.4C740.1,42.6 743.2,42.6 746.3,42.5C749.4,42.4 753.1,42.4 755.6,42.5C758.1,42.6 759.6,42.3 761.1,43.4C762.6,44.5 762.6,48.2 764.8,49.0C767.0,49.8 771.0,48.2 774.1,48.0C777.2,47.8 780.6,48.0 783.3,48.0C785.9,48.0 787.6,48.0 790.0,48.0C792.4,48.0 794.9,48.1 797.4,48.0C799.9,47.9 802.3,47.1 804.8,47.1C807.3,47.1 810.0,47.8 812.2,48.0C814.4,48.2 815.3,48.0 817.8,48.5C820.3,49.0 823.9,49.9 827.0,50.8C830.1,51.6 833.2,52.8 836.3,53.6C839.4,54.4 842.5,54.8 845.6,55.4C848.7,56.0 851.7,56.9 854.8,57.3C857.9,57.7 861.0,57.8 864.1,57.8C867.2,57.8 870.2,57.5 873.3,57.3C876.4,57.1 881.0,56.5 882.6,56.4"/>
<path d="M759.3,36.9C759.9,38.0 761.6,41.5 763.0,43.4C764.4,45.2 765.8,46.5 767.6,48.0C769.5,49.5 772.1,51.2 774.1,52.7C776.1,54.2 778.1,56.2 779.6,57.3C781.1,58.4 781.8,59.0 783.3,59.1C784.8,59.2 787.0,58.8 788.9,58.2C790.8,57.6 792.5,56.5 794.4,55.4C796.2,54.3 798.3,52.6 800.0,51.7C801.7,50.8 803.1,51.0 804.8,49.9C806.5,48.8 808.5,46.4 810.4,45.3C812.2,44.2 813.9,43.8 815.9,43.4C817.9,43.0 820.1,43.0 822.4,42.9C824.7,42.8 827.5,42.3 829.8,42.5C832.1,42.7 834.0,43.4 836.3,44.3C838.6,45.2 841.2,46.6 843.7,48.0C846.2,49.4 848.6,51.3 851.1,52.7C853.6,54.1 856.3,55.5 858.5,56.4C860.7,57.3 861.9,58.1 864.1,58.2C866.3,58.4 869.0,57.6 871.5,57.3C874.0,57.0 876.4,56.9 878.9,56.4C881.4,55.9 884.4,55.1 886.3,54.5C888.1,53.9 889.4,53.0 890.0,52.7"/>
<path d="M783.3,60.1C784.5,59.9 788.4,60.0 790.7,59.1C793.1,58.2 795.9,55.1 797.4,54.5C798.9,53.9 799.6,55.2 800.0,55.4"/>
<path d="M700.0,81.4C701.5,81.1 706.2,80.6 709.3,79.5C712.4,78.4 715.4,76.9 718.5,74.9C721.6,72.9 724.7,70.0 727.8,67.5C730.9,65.0 733.9,62.3 737.0,60.1C740.1,57.9 743.2,56.0 746.3,54.5C749.4,53.0 752.5,51.6 755.6,50.8C758.7,50.0 763.3,50.0 764.8,49.9"/>
<path d="M700.0,86.9C701.5,86.4 706.2,84.9 709.3,84.1C712.4,83.3 715.4,82.8 718.5,82.3C721.6,81.8 725.2,81.7 727.8,81.4C730.4,81.1 732.8,80.9 734.3,80.4C735.8,79.9 735.5,80.0 737.0,78.6C738.5,77.2 741.0,74.7 743.5,72.1C746.0,69.5 749.3,65.4 751.9,62.9C754.5,60.4 757.1,58.7 759.3,57.3C761.4,55.9 763.4,54.8 764.8,54.5C766.2,54.2 766.7,54.6 767.6,55.4C768.5,56.2 769.3,57.2 770.4,59.1C771.5,61.0 772.7,64.3 774.1,66.6C775.5,68.9 777.2,71.5 778.7,73.0C780.2,74.5 781.6,75.5 783.3,75.8C785.0,76.1 787.0,75.7 788.9,74.9C790.8,74.1 792.5,72.6 794.4,71.2C796.2,69.8 798.0,68.8 800.0,66.6C802.0,64.4 804.7,60.7 806.7,58.2C808.7,55.7 810.7,53.4 812.2,51.7C813.7,50.0 814.4,48.0 815.9,48.0C817.4,48.0 819.6,50.3 821.5,51.7C823.4,53.1 825.1,54.9 827.0,56.4C828.9,57.9 830.4,59.5 832.6,61.0C834.8,62.5 837.5,64.2 840.0,65.6C842.5,67.0 844.9,68.4 847.4,69.3C849.9,70.2 852.3,70.6 854.8,70.7C857.3,70.8 859.7,69.8 862.2,69.8C864.7,69.8 867.1,70.4 869.6,70.7C872.1,71.0 874.7,71.6 877.0,71.6C879.3,71.6 881.3,70.5 883.5,70.7C885.7,70.9 888.9,72.6 890.0,73.0"/>
<path d="M783.3,76.7C784.8,76.1 789.8,74.4 792.6,73.0C795.4,71.6 798.6,69.3 800.0,68.4C801.4,67.5 800.0,68.7 801.1,67.5C802.2,66.3 804.9,63.3 806.7,61.0C808.6,58.7 810.4,55.5 812.2,53.6C814.1,51.8 816.1,50.0 817.8,49.9C819.5,49.8 820.9,51.3 822.4,52.7C823.9,54.1 825.5,56.4 827.0,58.2C828.5,60.1 830.2,61.9 831.7,63.8C833.2,65.6 834.6,67.4 836.3,69.3C838.0,71.2 840.0,73.4 841.9,74.9C843.8,76.5 845.5,77.8 847.4,78.6C849.2,79.4 851.5,79.5 853.0,79.5C854.5,79.5 855.2,79.4 856.7,78.6C858.2,77.8 860.4,76.1 862.2,74.9C864.1,73.7 865.9,72.6 867.8,71.2C869.6,69.8 871.4,68.1 873.3,66.6C875.1,65.0 877.0,63.4 878.9,61.9C880.8,60.4 882.5,58.8 884.4,57.3C886.2,55.8 889.1,53.5 890.0,52.7"/>
<path d="M700.0,81.4C701.5,81.4 706.2,81.4 709.3,81.4C712.4,81.4 715.4,81.4 718.5,81.4C721.6,81.4 724.7,81.7 727.8,81.4C730.9,81.1 733.9,80.0 737.0,79.5C740.1,79.0 743.2,78.7 746.3,78.6C749.4,78.5 752.5,78.9 755.6,79.1C758.7,79.2 761.7,79.4 764.8,79.5C767.9,79.6 771.0,79.7 774.1,79.5C777.2,79.3 781.8,78.3 783.3,78.1"/>
<path d="M700.0,89.7C701.5,89.6 706.2,89.4 709.3,89.2C712.4,89.0 715.4,89.0 718.5,88.3C721.6,87.6 724.7,86.6 727.8,85.1C730.9,83.6 735.5,80.4 737.0,79.5"/>
<path d="M700.0,93.4C700.9,93.4 703.6,92.5 705.6,93.4C707.6,94.3 709.9,97.2 712.0,99.0C714.1,100.8 716.5,102.7 718.5,104.5C720.5,106.3 722.6,108.4 724.1,110.1C725.6,111.8 726.8,113.9 727.8,114.7C728.8,115.5 728.9,114.3 730.3,115.0C731.7,115.7 734.3,118.0 736.3,119.1C738.3,120.2 740.0,121.0 742.4,121.6C744.8,122.2 747.8,122.7 750.5,122.6C753.2,122.5 756.1,121.7 758.5,121.1C760.9,120.5 762.6,119.9 764.6,119.1C766.6,118.3 768.6,117.3 770.6,116.1C772.6,114.9 775.7,112.7 776.7,112.0"/>
<path d="M700.0,108.2C700.9,107.3 703.6,104.2 705.6,102.7C707.6,101.2 709.9,99.9 712.0,99.0C714.1,98.1 716.5,97.3 718.5,97.1C720.5,96.9 722.1,97.1 724.1,97.6C726.1,98.1 728.5,98.9 730.6,99.9C732.8,100.9 734.7,102.4 737.0,103.6C739.3,104.8 741.9,106.2 744.4,107.3C746.9,108.4 749.4,109.3 751.9,110.1C754.4,110.9 756.8,111.4 759.3,111.9C761.8,112.4 764.6,113.2 766.7,112.9C768.9,112.6 770.2,111.3 772.2,110.1C774.2,108.8 776.5,107.0 778.7,105.4C780.9,103.9 783.2,102.0 785.2,100.8C787.2,99.6 789.0,98.5 790.7,98.0C792.4,97.5 793.9,97.4 795.6,97.6C797.3,97.8 799.0,98.0 801.1,99.0C803.2,100.0 806.0,102.1 808.5,103.6C811.0,105.1 813.4,107.0 815.9,108.2C818.4,109.4 820.8,110.4 823.3,111.0C825.8,111.6 828.2,111.6 830.7,111.9C833.2,112.2 835.6,112.5 838.1,112.9C840.6,113.3 844.4,114.0 845.6,114.2"/>
<path d="M718.5,113.8C720.0,113.7 724.7,113.1 727.8,112.9C730.9,112.8 733.9,112.8 737.0,112.9C740.1,113.1 743.2,113.5 746.3,113.8C749.4,114.1 754.0,114.5 755.6,114.7"/>
<path d="M766.7,114.7C767.9,113.8 771.6,110.5 774.1,109.1C776.6,107.7 779.4,106.4 781.5,106.4C783.6,106.4 785.1,108.0 787.0,109.1C788.9,110.2 790.4,112.1 792.6,112.9C794.8,113.7 798.8,113.7 800.0,113.8"/>
<path d="M808.5,61.0C809.4,60.9 812.1,60.1 814.1,60.1C816.1,60.1 818.5,60.2 820.6,61.0C822.8,61.8 824.9,63.2 827.0,64.7C829.1,66.2 831.5,68.5 833.5,70.3C835.5,72.1 837.4,74.1 839.1,75.8C840.8,77.5 842.2,79.3 843.7,80.4C845.2,81.5 846.8,82.1 848.3,82.3C849.8,82.5 851.3,82.4 853.0,81.8C854.7,81.2 857.6,79.1 858.5,78.6"/>
<path d="M820.6,46.2C822.0,46.8 826.3,48.5 828.9,49.9C831.5,51.3 833.8,53.1 836.3,54.5C838.8,55.9 841.2,57.3 843.7,58.2C846.2,59.1 848.9,59.5 851.1,60.1C853.3,60.7 855.0,61.3 856.7,61.9C858.4,62.5 859.8,63.9 861.3,63.8C862.8,63.6 864.2,62.4 865.9,61.0C867.6,59.6 869.8,57.4 871.5,55.4C873.2,53.4 874.6,51.0 876.1,49.0C877.6,47.0 879.2,45.2 880.7,43.4C882.2,41.5 884.6,38.8 885.4,37.9"/>
<path d="M790.0,113.8C791.5,113.7 796.2,113.5 799.3,112.9C802.4,112.3 805.4,111.2 808.5,110.1C811.6,109.0 814.7,107.6 817.8,106.4C820.9,105.2 824.2,103.8 827.0,102.7C829.8,101.6 831.9,100.7 834.4,99.9C836.9,99.1 839.4,98.4 841.9,98.0C844.4,97.6 847.1,97.4 849.3,97.6C851.4,97.8 852.9,98.2 854.8,99.0C856.6,99.8 858.5,101.3 860.4,102.7C862.2,104.1 864.0,106.1 865.9,107.3C867.8,108.5 869.3,109.2 871.5,110.1C873.7,111.0 876.4,112.3 878.9,112.9C881.4,113.5 885.1,113.7 886.3,113.8"/>
<path d="M808.5,111.9C810.0,111.6 814.7,110.7 817.8,110.1C820.9,109.5 823.9,108.8 827.0,108.2C830.1,107.6 833.2,106.9 836.3,106.4C839.4,105.9 842.8,105.4 845.6,105.0C848.4,104.6 850.9,104.0 853.0,104.1C855.1,104.2 856.4,104.6 858.5,105.4C860.6,106.2 863.4,108.5 865.9,109.1C868.4,109.7 871.1,109.3 873.3,109.1C875.5,108.9 876.7,107.6 878.9,107.8C881.1,108.0 885.1,109.7 886.3,110.1"/>
<path d="M805.7,36.9C806.6,37.7 809.6,40.5 811.3,41.6C813.0,42.7 815.1,43.1 815.9,43.4"/>
<path d="M880.0,60.1C880.9,59.3 883.8,57.0 885.6,55.4C887.5,53.8 889.2,52.5 891.1,50.8C893.0,49.1 894.9,47.1 896.7,45.3C898.6,43.4 900.8,41.1 902.2,39.7C903.6,38.3 904.5,37.4 905.0,36.9"/>
<path d="M880.0,53.6C881.2,53.0 884.9,51.0 887.4,49.9C889.9,48.8 892.2,47.9 894.8,47.1C897.4,46.3 900.2,45.8 903.1,45.3C906.0,44.8 909.3,44.4 912.4,44.3C915.5,44.2 918.9,44.8 921.7,44.8C924.5,44.8 926.8,44.7 929.1,44.3C931.4,43.9 933.3,43.3 935.6,42.5C937.9,41.7 940.9,40.5 943.0,39.7C945.1,38.9 947.6,38.2 948.5,37.9"/>
<path d="M893.9,50.8C894.7,51.3 896.8,52.8 898.5,53.6C900.2,54.4 901.9,54.9 904.1,55.4C906.3,55.9 909.0,56.6 911.5,56.8C914.0,57.0 916.4,57.0 918.9,56.8C921.4,56.6 923.8,56.1 926.3,55.4C928.8,54.7 931.2,53.9 933.7,52.7C936.2,51.5 938.8,49.7 941.1,48.0C943.4,46.3 945.4,44.2 947.6,42.5C949.8,40.8 953.0,38.7 954.1,37.9"/>
<path d="M898.5,45.3C900.0,45.1 904.7,44.8 907.8,44.3C910.9,43.8 913.9,43.2 917.0,42.5C920.1,41.8 923.8,40.8 926.3,40.2C928.8,39.6 931.0,39.0 931.9,38.8"/>
<path d="M910.6,104.5C911.7,103.7 914.7,101.8 917.0,99.9C919.3,98.1 921.9,95.4 924.4,93.4C926.9,91.4 929.4,89.9 931.9,87.9C934.4,85.9 936.8,83.9 939.3,81.4C941.8,78.9 944.2,75.9 946.7,73.0C949.2,70.1 951.6,66.9 954.1,63.8C956.6,60.7 959.2,57.4 961.5,54.5C963.8,51.6 966.1,48.4 968.0,46.2C969.9,44.1 971.4,42.5 972.6,41.6C973.8,40.7 974.5,40.3 975.4,40.6C976.3,40.9 977.2,42.2 978.1,43.4C979.0,44.6 979.5,45.2 980.8,47.7C982.1,50.2 984.3,54.8 986.1,58.4C987.9,62.0 989.7,65.9 991.5,69.2C993.3,72.5 995.2,75.4 996.9,78.2C998.5,81.0 999.9,83.7 1001.4,86.2C1002.9,88.7 1004.5,91.0 1005.9,93.4C1007.2,95.8 1008.3,98.2 1009.5,100.6C1010.7,103.0 1011.8,105.1 1013.0,107.7C1014.2,110.3 1015.2,113.6 1016.6,116.0C1018.0,118.4 1020.0,120.1 1021.5,122.1C1023.0,124.1 1024.2,126.7 1025.6,128.2C1026.9,129.7 1028.3,130.4 1029.6,131.2C1030.9,132.0 1032.4,132.4 1033.6,133.2C1034.8,134.0 1035.8,134.0 1037.0,136.0C1038.2,138.0 1039.4,144.4 1040.7,145.3C1042.0,146.2 1043.1,142.8 1044.7,141.3C1046.3,139.8 1049.4,137.0 1050.3,136.2"/>
<path d="M917.0,104.5C918.2,103.6 921.9,101.2 924.4,99.0C926.9,96.8 929.7,93.6 931.9,91.6C934.1,89.6 935.2,88.2 937.4,86.9C939.5,85.7 942.6,84.6 944.8,84.1C947.0,83.6 948.8,84.9 950.4,84.1C952.0,83.3 952.7,81.7 954.1,79.5C955.5,77.3 957.2,74.1 958.7,71.2C960.2,68.3 961.8,65.0 963.3,61.9C964.8,58.8 966.5,55.5 968.0,52.7C969.5,49.9 971.4,47.3 972.6,45.3C973.8,43.3 974.9,41.4 975.4,40.6"/>
<path d="M880.0,71.2C880.8,71.0 883.1,70.2 884.6,70.3C886.1,70.4 887.8,71.0 889.3,72.1C890.8,73.2 892.4,74.5 893.9,76.7C895.4,78.9 897.0,82.3 898.5,85.1C900.0,87.9 901.6,90.8 903.1,93.4C904.6,96.0 906.5,99.0 907.8,100.8C909.0,102.6 909.7,103.3 910.6,104.5C911.5,105.7 912.2,106.8 913.3,108.2C914.4,109.6 915.9,111.6 917.0,112.9C918.1,114.2 918.9,114.5 919.8,116.0C920.7,117.5 921.1,120.4 922.4,122.1C923.7,123.8 926.0,125.8 927.4,126.1C928.8,126.4 929.3,125.3 930.5,124.1C931.7,122.9 933.2,120.8 934.5,119.1C935.8,117.4 937.3,115.5 938.5,114.0C939.7,112.5 940.2,112.2 941.6,110.0C943.0,107.8 944.9,103.2 946.7,100.8C948.5,98.3 950.2,96.8 952.2,95.3C954.2,93.8 956.5,92.5 958.7,91.6C960.9,90.7 962.9,90.2 965.2,89.7C967.5,89.2 970.1,88.5 972.6,88.3C975.1,88.1 978.8,88.7 980.0,88.8"/>
<path d="M944.8,97.1C945.7,95.9 948.5,91.5 950.4,89.7C952.2,87.9 954.4,86.8 955.9,86.0C957.4,85.2 958.0,84.7 959.6,84.6C961.2,84.5 963.4,85.0 965.2,85.5C967.1,86.0 968.9,86.9 970.7,87.4C972.6,87.9 974.8,88.1 976.3,88.3C977.8,88.5 979.4,88.7 980.0,88.8"/>
<path d="M880.0,109.1C881.5,109.7 886.2,112.1 889.3,112.9C892.4,113.7 895.4,114.1 898.5,113.8C901.6,113.5 905.0,111.2 907.8,111.0C910.6,110.8 913.2,112.3 915.2,112.9C917.2,113.5 919.0,114.4 919.8,114.7"/>
<path d="M880.0,112.9C881.5,113.2 886.2,114.7 889.3,114.7C892.4,114.7 895.0,114.0 898.5,112.9C902.0,111.8 908.6,109.0 910.6,108.2"/>
<path d="M919.8,112.9C920.9,112.3 924.0,110.3 926.3,109.1C928.6,107.8 931.2,106.8 933.7,105.4C936.2,104.0 939.2,102.2 941.1,100.8C943.0,99.4 944.2,97.7 944.8,97.1"/>
<path d="M880.0,42.5C880.9,41.9 884.7,39.4 885.6,38.8"/>
<path d="M994.2,73.7C995.0,75.2 997.2,80.1 998.7,82.6C1000.2,85.1 1001.7,87.1 1003.2,88.9C1004.7,90.7 1006.1,92.2 1007.7,93.4C1009.3,94.6 1010.9,95.2 1013.0,96.1C1015.1,97.0 1017.8,98.0 1020.2,98.8C1022.6,99.5 1025.0,100.3 1027.4,100.6C1029.8,100.9 1032.3,100.9 1034.6,100.6C1036.8,100.3 1039.0,99.7 1040.9,98.8C1042.8,97.9 1044.6,96.1 1046.2,95.2C1047.8,94.3 1049.6,93.7 1050.3,93.4"/>
<path d="M970.0,87.6C970.9,87.7 973.1,87.8 975.4,88.0C977.6,88.2 980.7,88.5 983.5,88.9C986.3,89.4 989.4,90.0 992.4,90.7C995.4,91.5 998.8,92.5 1001.4,93.4C1004.0,94.3 1005.5,95.0 1007.7,96.1C1009.9,97.1 1012.4,98.7 1014.8,99.7C1017.2,100.8 1019.6,101.7 1022.0,102.4C1024.4,103.2 1026.8,103.8 1029.2,104.2C1031.6,104.7 1034.3,104.9 1036.4,105.1C1038.5,105.2 1040.1,105.8 1041.7,105.1C1043.3,104.3 1044.8,102.1 1046.2,100.6C1047.6,99.1 1049.6,96.8 1050.3,96.1"/>
<path d="M970.0,89.8C971.5,89.8 976.0,89.5 979.0,89.8C982.0,90.1 985.2,90.7 987.9,91.6C990.6,92.5 993.0,93.8 995.1,95.2C997.2,96.6 998.7,98.1 1000.5,99.7C1002.3,101.3 1004.4,103.3 1005.9,105.1C1007.4,106.9 1008.5,108.6 1009.5,110.4C1010.5,112.2 1011.0,114.1 1012.2,116.0C1013.4,117.9 1015.0,120.0 1016.5,122.0C1018.0,124.0 1020.0,126.2 1021.5,128.0C1023.0,129.8 1024.1,131.6 1025.6,133.0C1027.1,134.4 1029.1,135.6 1030.6,136.7C1032.1,137.8 1033.1,138.0 1034.6,139.3C1036.1,140.6 1038.0,143.1 1039.7,144.3C1041.4,145.5 1042.9,146.3 1044.7,146.3C1046.5,146.3 1049.4,144.6 1050.3,144.3"/>
<path d="M1002.3,36.9C1003.2,38.2 1005.9,42.3 1007.7,45.0C1009.5,47.7 1011.2,50.3 1013.0,53.0C1014.8,55.7 1016.6,58.6 1018.4,61.1C1020.2,63.6 1022.0,66.2 1023.8,68.3C1025.6,70.4 1027.1,71.9 1029.2,73.7C1031.3,75.5 1034.0,77.4 1036.4,79.0C1038.8,80.6 1041.2,82.2 1043.5,83.5C1045.8,84.8 1049.2,86.5 1050.3,87.1"/>
<path d="M1007.7,36.9C1008.6,38.0 1011.2,41.1 1013.0,43.2C1014.8,45.3 1016.6,47.6 1018.4,49.5C1020.2,51.4 1022.0,52.9 1023.8,54.8C1025.6,56.7 1027.4,58.9 1029.2,61.1C1031.0,63.4 1032.6,65.9 1034.6,68.3C1036.5,70.7 1039.0,73.6 1040.9,75.5C1042.8,77.4 1044.6,78.9 1046.2,79.9C1047.8,80.9 1049.6,81.4 1050.3,81.7"/>
<path d="M1013.0,38.7C1014.2,39.5 1017.8,41.7 1020.2,43.2C1022.6,44.7 1025.0,46.2 1027.4,47.7C1029.8,49.2 1032.2,50.8 1034.6,52.1C1037.0,53.4 1039.1,54.8 1041.7,55.7C1044.3,56.6 1048.9,57.2 1050.3,57.5"/>
<path d="M1034.6,38.7C1035.8,39.2 1039.1,40.8 1041.7,41.4C1044.3,42.0 1048.9,42.1 1050.3,42.3"/>
<path d="M1041.7,116.0C1042.2,115.2 1043.4,112.4 1044.4,111.3C1045.5,110.2 1047.0,110.1 1048.0,109.5C1049.0,108.9 1049.9,108.0 1050.3,107.7"/>
<path d="M1041.7,110.0C1041.0,111.2 1039.1,114.8 1037.7,117.1C1036.3,119.4 1034.8,122.1 1033.6,124.1C1032.4,126.1 1031.3,128.0 1030.6,129.2C1029.9,130.4 1029.8,130.9 1029.6,131.2"/>
<path d="M1047.8,114.0C1047.1,115.0 1045.0,118.1 1043.7,120.1C1042.4,122.1 1041.0,124.1 1039.7,126.1C1038.4,128.1 1036.9,130.8 1035.7,132.2C1034.5,133.5 1033.1,133.9 1032.6,134.2"/>
<path d="M700.0,154.4C701.0,155.1 703.9,157.5 706.1,158.4C708.3,159.3 710.8,160.0 713.1,160.0C715.5,160.0 717.7,159.2 720.2,158.4C722.7,157.6 725.8,156.6 728.3,155.4C730.8,154.2 732.9,152.9 735.3,151.4C737.6,149.9 740.2,148.2 742.4,146.3C744.6,144.5 746.4,142.5 748.4,140.3C750.4,138.1 752.5,135.6 754.5,133.2C756.5,130.8 758.5,128.3 760.5,126.1C762.5,123.9 764.6,121.8 766.6,120.1C768.6,118.4 770.4,117.1 772.7,116.1C775.1,115.1 778.0,114.3 780.7,114.0C783.4,113.7 785.6,114.3 788.8,114.5C792.0,114.7 798.1,114.9 800.0,115.0"/>
<path d="M700.0,139.3C701.0,137.8 704.1,132.9 706.1,130.2C708.1,127.5 711.1,124.3 712.1,123.1"/>
<path d="M701.0,113.0C701.9,113.7 704.2,115.4 706.1,117.1C708.0,118.8 710.1,121.1 712.1,123.1C714.1,125.1 716.2,127.2 718.2,129.2C720.2,131.2 722.2,133.3 724.2,135.2C726.2,137.0 728.3,138.9 730.3,140.3C732.3,141.7 734.3,143.1 736.3,143.8C738.3,144.6 740.4,144.6 742.4,144.8C744.4,145.1 746.4,145.5 748.4,145.3C750.4,145.1 752.5,144.5 754.5,143.8C756.5,143.1 758.5,142.4 760.5,141.3C762.5,140.2 764.6,138.7 766.6,137.2C768.6,135.7 770.7,134.0 772.7,132.2C774.7,130.3 776.7,127.9 778.7,126.1C780.7,124.2 782.8,122.4 784.8,121.1C786.8,119.8 788.3,118.8 790.8,118.1C793.3,117.4 798.5,117.3 800.0,117.1"/>
<path d="M742.4,146.3C743.4,145.5 746.4,143.2 748.4,141.3C750.4,139.5 752.5,137.2 754.5,135.2C756.5,133.2 758.5,131.0 760.5,129.2C762.5,127.3 764.6,125.4 766.6,124.1C768.6,122.8 770.4,121.6 772.7,121.1C775.1,120.6 778.0,120.9 780.7,121.1C783.4,121.3 785.6,121.4 788.8,122.1C792.0,122.8 798.1,124.6 800.0,125.1"/>
<path d="M725.2,114.0C727.7,113.7 735.4,112.5 740.4,112.0C745.4,111.5 751.3,111.0 755.5,111.0C759.7,111.0 762.7,111.3 765.6,112.0C768.5,112.7 770.2,114.3 772.7,115.0C775.2,115.7 777.7,115.9 780.7,116.1C783.7,116.3 787.6,116.1 790.8,116.1C794.0,116.1 798.5,116.1 800.0,116.1"/>
<path d="M786.8,110.0C787.8,110.3 790.6,111.5 792.8,112.0C795.0,112.5 798.8,112.8 800.0,113.0"/>
<path d="M790.0,122.1C791.0,122.3 794.1,122.4 796.1,123.1C798.1,123.8 800.1,125.2 802.1,126.1C804.1,127.0 805.9,128.2 808.2,128.7C810.6,129.2 813.9,129.4 816.2,129.2C818.6,129.0 820.3,128.6 822.3,127.7C824.3,126.9 826.3,125.0 828.3,124.1C830.3,123.2 832.4,122.4 834.4,122.1C836.4,121.8 838.5,122.2 840.5,122.1C842.5,122.0 844.1,121.8 846.5,121.6C848.9,121.4 851.9,121.2 854.6,121.1C857.3,121.0 860.0,120.8 862.7,121.1C865.4,121.4 868.2,122.3 870.7,123.1C873.2,123.9 875.4,124.9 877.8,126.1C880.2,127.3 882.9,128.8 884.9,130.2C886.9,131.5 889.1,133.5 890.0,134.2"/>
<path d="M790.0,123.1C791.4,123.3 795.6,123.1 798.1,124.1C800.6,125.1 802.8,128.0 805.1,129.2C807.5,130.4 809.7,130.8 812.2,131.2C814.7,131.6 817.6,131.9 820.3,131.7C823.0,131.5 825.8,130.9 828.3,130.2C830.8,129.5 833.0,128.6 835.4,127.7C837.8,126.9 840.3,126.0 842.5,125.1C844.7,124.2 846.5,123.1 848.5,122.1C850.5,121.1 852.6,119.7 854.6,119.1C856.6,118.5 858.6,118.3 860.6,118.6C862.6,118.9 864.7,120.2 866.7,121.1C868.7,122.0 870.7,123.3 872.7,124.1C874.7,124.9 876.8,125.6 878.8,126.1C880.8,126.6 883.0,127.0 884.9,127.2C886.8,127.4 889.1,127.2 890.0,127.2"/>
<path d="M790.0,114.0C791.0,114.0 794.1,114.2 796.1,114.0C798.1,113.8 799.8,113.3 802.1,113.0C804.5,112.7 807.9,111.8 810.2,112.0C812.6,112.2 814.2,113.2 816.2,114.0C818.2,114.8 820.3,116.1 822.3,117.1C824.3,118.1 826.3,119.9 828.3,120.1C830.3,120.3 832.4,118.9 834.4,118.1C836.4,117.2 838.5,116.0 840.5,115.0C842.5,114.0 844.5,112.3 846.5,112.0C848.5,111.7 850.2,112.7 852.6,113.0C855.0,113.3 858.2,114.2 860.6,114.0C863.0,113.8 865.7,112.3 866.7,112.0"/>
<path d="M790.0,117.1C791.0,117.4 794.1,118.6 796.1,119.1C798.1,119.6 800.1,120.3 802.1,120.1C804.1,119.9 805.9,118.9 808.2,118.1C810.6,117.2 813.5,115.8 816.2,115.0C818.9,114.2 821.6,113.3 824.3,113.0C827.0,112.7 829.7,112.6 832.4,113.0C835.1,113.4 837.5,115.1 840.5,115.5C843.5,115.9 847.5,115.4 850.5,115.5C853.5,115.6 856.1,115.7 858.6,116.1C861.1,116.5 863.4,117.3 865.7,118.1C868.1,118.9 870.5,119.9 872.7,121.1C874.9,122.3 876.8,123.9 878.8,125.1C880.8,126.3 883.0,127.3 884.9,128.2C886.8,129.0 889.1,129.9 890.0,130.2"/>
<path d="M870.7,110.0C871.7,110.7 874.8,112.8 876.8,114.0C878.8,115.2 880.6,116.1 882.8,117.1C885.0,118.1 888.8,119.6 890.0,120.1"/>
<path d="M880.0,127.2C881.0,128.0 883.9,130.2 886.1,132.2C888.3,134.2 890.8,137.0 893.1,139.3C895.5,141.7 897.9,144.1 900.2,146.3C902.6,148.5 904.9,150.2 907.2,152.4C909.6,154.6 911.9,157.1 914.3,159.4C916.7,161.8 919.0,164.1 921.4,166.5C923.8,168.9 926.0,171.2 928.4,173.6C930.8,175.9 933.1,178.2 935.5,180.6C937.9,182.9 940.4,185.5 942.6,187.7C944.8,189.9 946.8,191.8 948.6,193.8C950.5,195.9 952.4,198.8 953.7,200.0C955.0,201.2 954.9,200.2 956.4,201.1C957.9,201.9 960.1,203.9 962.5,205.1C964.9,206.3 967.6,207.5 970.5,208.2C973.4,208.9 977.1,209.5 980.0,209.5C982.9,209.5 985.4,209.3 987.7,208.2C990.0,207.1 991.8,204.9 993.8,203.1C995.8,201.2 997.8,199.1 999.8,197.1C1001.8,195.1 1004.2,193.0 1005.9,191.0C1007.6,189.0 1009.3,186.0 1010.0,185.0"/>
<path d="M880.0,125.1C881.4,124.8 885.6,123.6 888.1,123.1C890.6,122.6 892.8,122.3 895.1,122.1C897.5,121.9 900.4,121.6 902.2,122.1C904.1,122.6 904.9,123.8 906.2,125.1C907.6,126.4 908.9,128.5 910.3,130.2C911.6,131.9 912.8,133.2 914.3,135.2C915.8,137.2 917.7,139.8 919.4,142.3C921.1,144.8 922.7,147.7 924.4,150.4C926.1,153.1 927.7,155.7 929.4,158.4C931.1,161.1 932.6,163.8 934.5,166.5C936.4,169.2 938.5,172.1 940.5,174.6C942.5,177.1 944.6,179.6 946.6,181.6C948.6,183.6 950.4,185.2 952.7,186.7C955.1,188.2 958.0,189.9 960.7,190.7C963.4,191.5 966.2,191.7 968.8,191.7C971.4,191.7 973.7,191.2 976.1,190.7C978.5,190.2 980.8,189.9 983.2,188.7C985.6,187.5 987.9,185.6 990.3,183.6C992.6,181.6 994.9,179.3 997.3,176.6C999.6,173.9 1002.2,170.4 1004.4,167.5C1006.6,164.6 1008.4,162.2 1010.4,159.4C1012.4,156.6 1014.5,153.4 1016.5,150.4C1018.5,147.4 1021.0,143.5 1022.5,141.3C1024.0,139.1 1024.2,138.0 1025.6,137.2C1026.9,136.4 1029.8,136.8 1030.6,136.7"/>
<path d="M880.0,127.2C881.7,127.5 886.7,128.5 890.1,129.2C893.5,129.9 896.8,130.9 900.2,131.2C903.6,131.5 906.9,131.2 910.3,131.2C913.7,131.2 917.5,131.0 920.4,131.2C923.2,131.4 925.7,131.4 927.4,132.2C929.1,133.0 929.3,134.2 930.5,136.2C931.7,138.2 933.0,141.6 934.5,144.3C936.0,147.0 937.8,149.9 939.5,152.4C941.2,154.9 942.8,156.9 944.6,159.4C946.5,161.9 948.6,164.8 950.6,167.5C952.6,170.2 954.7,173.1 956.7,175.6C958.7,178.1 960.8,180.7 962.7,182.7C964.6,184.7 965.9,186.4 968.1,187.7C970.3,189.0 973.4,190.7 976.1,190.7C978.8,190.7 981.5,189.0 984.2,187.7C986.9,186.3 989.6,184.6 992.3,182.6C995.0,180.6 997.9,178.3 1000.4,175.6C1002.9,172.9 1005.0,169.5 1007.4,166.5C1009.8,163.5 1012.3,160.1 1014.5,157.4C1016.7,154.7 1018.6,152.6 1020.5,150.4C1022.4,148.2 1024.1,145.7 1025.6,144.3C1027.1,143.0 1028.4,142.6 1029.6,142.3C1030.8,142.0 1031.4,141.6 1032.6,142.3C1033.8,143.0 1035.3,145.2 1036.7,146.3C1038.1,147.4 1039.2,147.8 1040.7,148.8C1042.2,149.8 1044.1,151.1 1045.7,152.4C1047.3,153.7 1049.5,155.7 1050.3,156.4"/>
<path d="M880.0,120.1C881.4,120.3 885.4,120.8 888.1,121.1C890.8,121.3 893.4,121.8 896.1,121.6C898.8,121.4 901.8,120.5 904.2,120.1C906.6,119.7 908.1,119.3 910.3,119.1C912.5,118.9 915.3,118.6 917.3,119.1C919.3,119.6 920.7,120.9 922.4,122.1C924.1,123.3 926.6,125.4 927.4,126.1"/>
<path d="M880.0,113.0C881.4,113.3 885.4,114.5 888.1,115.0C890.8,115.5 893.4,116.3 896.1,116.1C898.8,115.9 901.8,114.7 904.2,114.0C906.6,113.3 908.1,112.0 910.3,112.0C912.5,112.0 915.3,114.0 917.3,114.0C919.3,114.0 920.9,112.7 922.4,112.0C923.9,111.3 925.7,110.3 926.4,110.0"/>
<path d="M997.3,200.0C998.5,198.6 1002.0,194.4 1004.4,191.7C1006.8,189.0 1009.0,186.4 1011.4,183.6C1013.8,180.8 1016.1,177.6 1018.5,174.6C1020.9,171.6 1023.2,168.5 1025.6,165.5C1027.9,162.5 1030.4,158.8 1032.6,156.4C1034.8,154.1 1037.0,152.4 1038.7,151.4C1040.4,150.4 1041.4,150.2 1042.7,150.4C1044.0,150.6 1045.5,151.6 1046.8,152.4C1048.1,153.2 1049.7,154.9 1050.3,155.4"/>
<path d="M1009.5,110.4C1010.0,110.8 1011.3,112.0 1012.5,113.0C1013.7,114.0 1015.0,114.6 1016.5,116.1C1018.0,117.6 1020.7,121.1 1021.5,122.1"/>
<path d="M629.0,210.2C630.4,210.2 634.4,209.5 637.1,210.2C639.8,210.9 642.5,213.0 645.2,214.2C647.9,215.4 650.5,216.0 653.2,217.2C655.9,218.4 658.6,220.1 661.3,221.3C664.0,222.5 666.7,223.3 669.4,224.3C672.1,225.3 674.8,226.4 677.5,227.3C680.2,228.2 682.8,229.2 685.5,229.9C688.2,230.6 690.9,231.0 693.6,231.4C696.3,231.8 699.0,232.1 701.7,232.4C704.4,232.7 707.0,233.1 709.7,233.4C712.4,233.7 714.9,234.1 717.8,234.4C720.7,234.7 724.1,235.3 727.0,235.4C729.9,235.5 732.1,234.6 735.1,234.9C738.1,235.2 741.8,236.7 745.2,237.4C748.6,238.2 751.9,238.7 755.3,239.4C758.7,240.1 762.0,241.0 765.4,241.5C768.8,242.0 772.1,242.2 775.5,242.5C778.9,242.8 782.2,242.8 785.6,243.0C789.0,243.2 792.3,243.2 795.7,243.5C799.1,243.8 802.6,244.3 805.8,244.5C809.0,244.7 811.8,244.4 815.0,244.5C818.2,244.6 821.7,244.9 825.1,245.0C828.5,245.1 831.8,245.1 835.2,245.0C838.6,244.9 842.3,244.2 845.3,244.5C848.3,244.8 850.6,245.8 853.3,246.5C856.0,247.2 858.7,247.8 861.4,248.5C864.1,249.2 866.8,249.7 869.5,250.5C872.2,251.3 874.9,252.4 877.6,253.6C880.3,254.8 882.9,256.1 885.6,257.6C888.3,259.1 891.0,261.0 893.7,262.7C896.4,264.4 899.3,266.2 901.8,267.7C904.3,269.2 906.6,270.7 908.8,271.7C911.0,272.7 914.0,273.4 915.0,273.8"/>
<path d="M637.1,210.2C637.9,209.5 640.4,207.4 642.1,206.1C643.8,204.8 645.5,203.6 647.2,202.1C648.9,200.6 650.5,198.9 652.2,197.1C653.9,195.2 656.0,192.5 657.3,191.0C658.6,189.5 659.5,188.5 660.0,188.0"/>
<path d="M629.0,228.3C630.2,228.3 633.8,228.0 636.1,228.3C638.5,228.7 640.6,229.7 643.1,230.4C645.6,231.1 648.5,231.6 651.2,232.4C653.9,233.2 656.6,234.2 659.3,235.4C662.0,236.6 665.0,238.2 667.4,239.4C669.8,240.6 671.4,241.3 673.4,242.5C675.4,243.7 677.5,245.2 679.5,246.5C681.5,247.8 683.5,249.0 685.5,250.5C687.5,252.0 689.6,253.9 691.6,255.6C693.6,257.3 695.6,259.1 697.6,260.6C699.6,262.1 701.7,263.7 703.7,264.7C705.7,265.7 707.7,266.7 709.7,266.7C711.7,266.7 713.8,265.7 715.8,264.7C717.8,263.7 719.8,262.0 721.9,260.6C724.0,259.2 725.7,258.1 728.1,256.6C730.5,255.1 733.4,253.3 736.1,251.6C738.8,249.9 741.5,247.9 744.2,246.5C746.9,245.1 749.6,243.7 752.3,243.0C755.0,242.3 758.2,242.1 760.4,242.5C762.6,242.9 763.4,244.3 765.4,245.5C767.4,246.7 770.0,248.0 772.5,249.5C775.0,251.0 777.8,252.9 780.5,254.6C783.2,256.3 785.9,258.1 788.6,259.6C791.3,261.1 794.0,262.5 796.7,263.7C799.4,264.9 802.1,266.0 804.8,266.7C807.5,267.4 810.1,267.5 812.8,267.7C815.5,267.9 818.7,268.1 821.1,267.7C823.5,267.3 824.8,266.2 827.1,265.2C829.5,264.2 832.5,262.9 835.2,261.6C837.9,260.3 840.6,258.8 843.3,257.6C846.0,256.4 848.6,255.5 851.3,254.6C854.0,253.7 856.7,252.8 859.4,252.1C862.1,251.4 864.8,251.0 867.5,250.5C870.2,250.0 872.8,249.5 875.5,249.0C878.2,248.5 880.9,248.1 883.6,247.5C886.3,246.9 889.0,246.2 891.7,245.5C894.4,244.8 897.1,244.2 899.8,243.5C902.5,242.8 905.3,242.2 907.8,241.5C910.3,240.8 913.8,239.8 915.0,239.4"/>
<path d="M629.0,228.3C630.0,228.7 633.1,229.2 635.1,230.4C637.1,231.6 639.1,233.4 641.1,235.4C643.1,237.4 645.2,240.3 647.2,242.5C649.2,244.7 651.2,246.8 653.2,248.5C655.2,250.2 657.3,251.2 659.3,252.6C661.3,253.9 663.3,255.3 665.3,256.6C667.3,257.9 669.4,259.2 671.4,260.6C673.4,262.0 675.5,263.5 677.5,264.7C679.5,265.9 681.5,266.9 683.5,267.7C685.5,268.5 687.2,269.2 689.6,269.7C692.0,270.2 694.9,270.4 697.6,270.7C700.3,271.0 703.0,271.2 705.7,271.7C708.4,272.2 711.4,273.3 713.8,273.8C716.2,274.3 719.0,274.5 720.0,274.6"/>
<path d="M629.0,259.6C630.4,259.4 634.4,259.1 637.1,258.6C639.8,258.1 642.5,257.4 645.2,256.6C647.9,255.8 650.5,254.8 653.2,253.6C655.9,252.4 658.6,250.8 661.3,249.5C664.0,248.2 666.7,246.8 669.4,245.5C672.1,244.2 674.8,242.8 677.5,241.5C680.2,240.2 682.8,238.5 685.5,237.4C688.2,236.3 690.9,235.6 693.6,234.9C696.3,234.2 699.0,233.7 701.7,233.4C704.4,233.2 706.7,233.6 709.7,233.4C712.8,233.2 715.8,232.5 720.0,232.4C724.2,232.3 730.9,232.4 735.1,232.9C739.3,233.4 741.8,234.5 745.2,235.4C748.6,236.3 751.9,237.6 755.3,238.4C758.7,239.2 762.0,240.0 765.4,240.5C768.8,241.0 772.1,241.2 775.5,241.5C778.9,241.8 782.2,241.9 785.6,242.0C789.0,242.1 792.3,242.1 795.7,242.0C799.1,241.9 802.6,241.6 805.8,241.5C809.0,241.4 811.8,241.6 815.0,241.5C818.2,241.4 821.7,241.2 825.1,241.0C828.5,240.8 831.8,240.3 835.2,240.0C838.6,239.7 841.9,239.2 845.3,238.9C848.7,238.6 852.0,238.4 855.4,238.2C858.8,238.0 862.1,237.9 865.5,237.9C868.9,237.9 872.1,238.0 875.5,238.2C878.9,238.4 882.2,238.7 885.6,238.9C889.0,239.1 892.7,239.7 895.7,239.4C898.7,239.2 901.4,237.9 903.8,237.4C906.2,236.9 909.0,236.6 910.0,236.4"/>
<path d="M657.3,252.6C658.6,251.9 662.6,249.8 665.3,248.5C668.0,247.2 670.7,245.8 673.4,244.5C676.1,243.2 678.8,241.8 681.5,240.5C684.2,239.2 686.9,237.4 689.6,236.4C692.3,235.4 694.9,234.9 697.6,234.4C700.3,233.9 704.4,233.6 705.7,233.4"/>
<path d="M633.1,270.7C634.4,270.2 638.4,268.7 641.1,267.7C643.8,266.7 646.5,265.7 649.2,264.7C651.9,263.7 654.6,262.5 657.3,261.6C660.0,260.8 662.6,260.3 665.3,259.6C668.0,258.9 670.7,258.1 673.4,257.6C676.1,257.1 678.8,256.9 681.5,256.6C684.2,256.3 686.9,255.9 689.6,255.6C692.3,255.3 694.9,254.9 697.6,254.6C700.3,254.3 703.0,253.8 705.7,253.6C708.4,253.4 710.2,253.6 713.8,253.6C717.3,253.6 722.6,253.9 727.0,253.6C731.4,253.3 736.3,252.1 740.2,251.6C744.1,251.1 746.9,250.8 750.3,250.5C753.7,250.2 757.0,250.0 760.4,250.0C763.8,250.0 767.1,250.3 770.5,250.5C773.9,250.7 777.1,250.9 780.5,251.0C783.9,251.1 787.2,251.1 790.6,251.0C794.0,250.9 796.6,250.6 800.7,250.5C804.8,250.4 810.9,250.5 815.0,250.5C819.1,250.5 821.7,250.5 825.1,250.3C828.5,250.1 832.2,250.1 835.2,249.5C838.2,248.9 840.6,247.5 843.3,246.5C846.0,245.5 848.6,244.5 851.3,243.5C854.0,242.5 856.7,241.3 859.4,240.5C862.1,239.7 866.1,238.8 867.5,238.4"/>
<path d="M647.2,265.7C648.9,265.5 653.9,265.0 657.3,264.7C660.7,264.4 664.0,263.8 667.4,263.7C670.8,263.6 674.1,264.0 677.5,264.2C680.9,264.4 684.1,264.5 687.5,264.7C690.9,264.9 694.2,265.0 697.6,265.2C701.0,265.4 704.3,265.6 707.7,265.7C711.1,265.8 714.1,265.7 717.8,265.7C721.5,265.7 726.4,265.8 730.1,265.7C733.8,265.6 736.8,265.3 740.2,265.2C743.6,265.1 746.9,265.0 750.3,264.9C753.7,264.8 757.0,264.8 760.4,264.7C763.8,264.6 767.1,264.5 770.5,264.5C773.9,264.5 777.1,264.7 780.5,264.9C783.9,265.1 787.2,265.4 790.6,265.7C794.0,266.0 797.3,266.4 800.7,266.7C804.1,267.0 808.4,267.5 810.8,267.7C813.2,267.9 814.3,267.7 815.0,267.7"/>
<path d="M875.5,249.5C877.2,249.7 882.2,250.2 885.6,250.5C889.0,250.8 892.3,250.8 895.7,251.0C899.1,251.2 902.6,251.6 905.8,251.6C909.0,251.6 912.6,250.8 915.0,251.0C917.4,251.2 917.6,251.7 920.1,252.6C922.6,253.5 926.8,255.4 930.2,256.6C933.6,257.8 936.9,258.6 940.3,259.6C943.7,260.6 947.4,262.0 950.4,262.7C953.4,263.4 955.7,263.7 958.4,263.7C961.1,263.7 963.8,263.2 966.5,262.7C969.2,262.2 972.2,261.1 974.6,260.6C977.0,260.1 979.6,259.8 980.6,259.6"/>
<path d="M885.0,236.0C886.8,236.8 892.6,239.1 895.7,240.5C898.8,241.9 901.4,243.3 903.8,244.5C906.2,245.7 908.0,246.5 909.9,247.5C911.8,248.5 914.1,250.0 915.0,250.5"/>
<path d="M910.0,236.4C911.4,235.7 915.4,233.8 918.1,232.4C920.8,231.1 923.4,229.7 926.1,228.3C928.8,227.0 931.5,225.6 934.2,224.3C936.9,223.0 939.6,221.6 942.3,220.3C945.0,219.0 947.7,217.7 950.4,216.7C953.1,215.7 955.7,214.9 958.4,214.2C961.1,213.4 963.8,212.9 966.5,212.2C969.2,211.5 972.4,210.6 974.6,210.2C976.9,209.8 977.8,209.3 980.0,209.5C982.2,209.7 985.1,210.2 987.7,211.2C990.3,212.1 993.1,213.8 995.8,215.2C998.5,216.5 1001.4,218.3 1003.8,219.3C1006.2,220.3 1007.5,220.3 1010.2,221.3C1013.0,222.3 1016.9,224.0 1020.3,225.3C1023.7,226.6 1027.0,228.0 1030.4,228.9C1033.8,229.8 1037.3,230.4 1040.5,230.9C1043.7,231.4 1048.0,231.7 1049.5,231.9"/>
<path d="M910.0,237.9C911.7,237.9 917.1,238.0 920.1,237.9C923.1,237.8 925.5,238.0 928.2,237.4C930.9,236.8 933.5,235.4 936.2,234.4C938.9,233.4 941.6,232.2 944.3,231.4C947.0,230.7 949.7,230.3 952.4,229.9C955.1,229.5 957.8,229.1 960.5,228.8C963.2,228.5 965.8,228.4 968.5,228.3C971.2,228.2 973.9,228.1 976.6,228.3C979.3,228.5 982.0,228.9 984.7,229.4C987.4,229.9 990.0,230.7 992.7,231.4C995.4,232.1 997.9,232.4 1000.8,233.4C1003.7,234.4 1007.0,236.1 1010.2,237.4C1013.5,238.8 1017.3,240.0 1020.3,241.5C1023.3,243.0 1025.9,244.8 1028.4,246.5C1030.9,248.2 1033.1,249.8 1035.4,251.6C1037.8,253.4 1040.2,255.8 1042.5,257.6C1044.8,259.5 1048.3,261.9 1049.5,262.7"/>
<path d="M910.0,242.5C911.7,242.2 917.1,241.0 920.1,240.5C923.1,240.0 925.5,239.1 928.2,239.4C930.9,239.7 933.5,241.6 936.2,242.5C938.9,243.4 941.9,244.8 944.3,245.0C946.7,245.2 948.4,244.6 950.4,243.5C952.4,242.4 954.0,240.2 956.4,238.4C958.8,236.6 961.8,234.0 964.5,232.4C967.2,230.8 969.9,229.3 972.6,228.8C975.3,228.3 978.2,228.6 980.6,229.4C983.0,230.2 984.7,231.7 986.7,233.4C988.7,235.1 990.7,237.4 992.7,239.4C994.7,241.4 996.8,243.7 998.8,245.5C1000.8,247.3 1003.0,249.2 1004.9,250.5C1006.8,251.8 1007.6,251.7 1010.2,253.6C1012.8,255.5 1017.6,259.7 1020.3,261.7C1023.0,263.7 1023.9,264.5 1026.3,265.7C1028.7,266.9 1031.7,268.0 1034.4,268.7C1037.1,269.4 1040.0,269.5 1042.5,269.7C1045.0,269.9 1048.3,269.7 1049.5,269.7"/>
<path d="M910.0,247.5C911.4,248.0 915.4,249.5 918.1,250.5C920.8,251.5 923.4,252.6 926.1,253.6C928.8,254.6 931.8,255.8 934.2,256.6C936.6,257.4 937.9,257.9 940.3,258.6C942.6,259.3 945.9,259.9 948.3,260.6C950.6,261.3 952.0,261.9 954.4,262.7C956.8,263.5 959.8,264.5 962.5,265.7C965.2,266.9 968.1,268.9 970.5,269.7C972.9,270.5 974.2,270.7 976.6,270.7C979.0,270.7 982.0,270.2 984.7,269.7C987.4,269.2 990.0,268.4 992.7,267.7C995.4,267.0 997.9,266.2 1000.8,265.7C1003.7,265.2 1006.8,265.0 1010.0,264.7C1013.2,264.4 1016.9,263.7 1020.3,263.7C1023.7,263.7 1027.0,264.4 1030.4,264.7C1033.8,264.9 1037.3,265.2 1040.5,265.2C1043.7,265.2 1048.0,264.8 1049.5,264.7"/>
<path d="M910.0,270.7C911.4,270.0 915.4,268.0 918.1,266.7C920.8,265.4 923.4,264.2 926.1,262.7C928.8,261.2 931.5,259.3 934.2,257.6C936.9,255.9 939.6,253.9 942.3,252.6C945.0,251.2 948.0,249.7 950.4,249.5C952.8,249.3 954.0,250.6 956.4,251.6C958.8,252.6 961.8,254.3 964.5,255.6C967.2,256.9 969.9,258.9 972.6,259.6C975.3,260.3 977.9,259.8 980.6,259.6C983.3,259.4 986.0,259.3 988.7,258.6C991.4,257.9 994.1,256.6 996.8,255.6C999.5,254.6 1002.7,253.3 1004.9,252.6C1007.1,251.9 1007.6,252.8 1010.2,251.6C1012.8,250.4 1016.9,247.3 1020.3,245.5C1023.7,243.7 1027.0,242.0 1030.4,240.5C1033.8,239.0 1037.3,237.4 1040.5,236.4C1043.7,235.4 1048.0,234.7 1049.5,234.4"/>
<path d="M910.0,273.8C911.7,274.1 916.7,275.4 920.1,275.8C923.5,276.2 926.8,276.3 930.2,276.3C933.6,276.3 936.9,276.1 940.3,275.8C943.7,275.6 947.0,275.1 950.4,274.8C953.8,274.5 957.1,274.3 960.5,273.8C963.9,273.3 967.1,272.2 970.5,271.7C973.9,271.2 977.2,271.2 980.6,270.7C984.0,270.2 987.3,269.5 990.7,268.7C994.1,267.9 997.5,266.7 1000.8,265.7C1004.0,264.7 1007.0,263.5 1010.2,262.7C1013.5,261.9 1016.9,261.5 1020.3,260.6C1023.7,259.8 1027.0,258.4 1030.4,257.6C1033.8,256.8 1037.3,256.1 1040.5,255.6C1043.7,255.1 1048.0,254.8 1049.5,254.6"/>
<path d="M1010.2,253.6C1011.9,252.8 1016.9,250.2 1020.3,248.5C1023.7,246.8 1027.0,245.2 1030.4,243.5C1033.8,241.8 1037.3,239.8 1040.5,238.4C1043.7,237.1 1048.0,235.9 1049.5,235.4"/>
<path d="M944.3,190.0C945.3,191.0 948.4,194.2 950.4,196.1C952.4,197.9 955.4,200.3 956.4,201.1"/>
<path d="M895.7,280.0C897.1,279.3 901.4,277.0 903.8,275.8C906.2,274.6 908.0,273.6 909.9,272.7C911.8,271.8 914.1,271.0 915.0,270.7"/>
<path d="M628.9,289.4C630.9,289.7 636.6,290.8 640.9,291.3C645.2,291.9 650.6,292.4 654.8,292.7C659.0,293.0 662.0,293.3 665.9,293.1C669.8,292.9 674.3,292.0 677.9,291.3C681.5,290.6 684.1,290.2 687.2,289.0C690.3,287.8 693.3,285.8 696.4,283.9C699.5,282.0 703.1,279.1 705.7,277.4C708.3,275.7 709.9,274.8 712.2,273.7C714.5,272.6 717.1,271.7 719.6,270.9C722.1,270.1 724.3,269.5 727.0,268.7C729.7,267.9 732.8,266.6 736.0,266.0C739.2,265.4 744.3,265.2 746.0,265.0"/>
<path d="M628.9,294.1C630.9,293.9 636.6,293.2 640.9,292.7C645.2,292.2 650.2,291.9 654.8,291.3C659.4,290.8 664.1,289.9 668.7,289.4C673.3,288.9 678.0,288.9 682.6,288.5C687.2,288.1 691.8,287.3 696.4,287.1C701.0,286.9 706.4,287.1 710.3,287.1C714.2,287.1 716.7,286.9 720.0,287.3C723.3,287.7 726.8,288.7 730.2,289.4C733.6,290.1 737.0,290.7 740.4,291.4C743.8,292.1 747.2,292.7 750.6,293.4C754.0,294.1 757.3,294.9 760.7,295.5C764.1,296.1 767.5,296.8 770.9,297.0C774.3,297.2 777.7,296.8 781.1,296.5C784.5,296.2 787.9,295.5 791.3,295.0C794.7,294.5 798.1,294.0 801.5,293.4C804.9,292.8 808.6,291.7 811.7,291.4C814.8,291.1 817.0,291.3 820.0,291.5C823.0,291.7 826.6,292.2 830.0,292.5C833.4,292.8 836.8,293.2 840.2,293.5C843.6,293.8 847.0,294.0 850.4,294.0C853.8,294.0 857.2,293.7 860.6,293.5C864.0,293.3 867.3,293.3 870.7,293.0C874.1,292.7 877.5,291.9 880.9,291.5C884.3,291.1 887.7,290.8 891.1,290.5C894.5,290.2 897.9,290.1 901.3,290.0C904.7,289.9 908.1,290.0 911.5,290.0C914.9,290.0 917.0,290.1 921.7,290.0C926.5,289.9 937.0,289.5 940.0,289.4"/>
<path d="M687.2,288.5C688.7,289.1 693.3,291.0 696.4,292.2C699.5,293.4 702.6,294.8 705.7,295.9C708.8,297.0 712.6,298.1 715.0,298.7C717.4,299.3 717.5,299.2 720.0,299.5C722.5,299.8 726.8,300.1 730.2,300.6C733.6,301.1 737.0,301.9 740.4,302.6C743.8,303.4 747.2,304.2 750.6,305.1C754.0,306.0 757.3,306.9 760.7,307.7C764.1,308.5 767.5,309.3 770.9,309.7C774.3,310.1 777.7,310.4 781.1,310.2C784.5,310.0 787.9,309.5 791.3,308.7C794.7,307.9 798.1,306.8 801.5,305.6C804.9,304.4 808.3,302.7 811.7,301.6C815.1,300.5 818.9,299.5 821.9,299.0C824.9,298.5 825.2,298.2 830.0,298.6C834.8,299.1 843.6,300.9 850.4,301.7C857.2,302.5 864.8,303.5 870.7,303.7C876.6,303.9 881.8,303.5 886.0,302.7C890.2,301.9 892.8,299.8 896.2,298.6C899.6,297.4 903.0,296.6 906.4,295.6C909.8,294.6 914.9,293.0 916.6,292.5"/>
<path d="M628.9,304.7C631.7,304.8 639.6,305.0 645.5,305.2C651.4,305.4 659.4,306.1 664.0,306.1C668.6,306.1 670.2,305.8 673.3,305.2C676.4,304.6 679.5,303.3 682.6,302.4C685.7,301.5 688.7,300.5 691.8,299.6C694.9,298.7 698.0,297.7 701.1,296.9C704.2,296.1 707.1,295.4 710.3,295.0C713.4,294.6 716.7,294.4 720.0,294.4C723.3,294.4 726.8,294.5 730.2,295.0C733.6,295.5 737.0,296.4 740.4,297.5C743.8,298.6 747.2,301.1 750.6,301.6C754.0,302.1 757.3,301.2 760.7,300.6C764.1,300.0 767.5,298.7 770.9,298.0C774.3,297.3 779.4,296.8 781.1,296.5"/>
<path d="M720.0,274.6C721.7,274.9 726.8,275.2 730.2,276.1C733.6,277.0 737.0,279.0 740.4,279.7C743.8,280.4 747.2,280.1 750.6,280.2C754.0,280.3 757.3,280.2 760.7,280.2C764.1,280.2 768.2,280.1 770.9,280.2C773.6,280.3 775.0,280.4 777.0,280.7C779.0,281.0 780.7,281.5 783.1,282.2C785.5,282.9 788.2,283.9 791.3,284.8C794.4,285.7 798.1,287.0 801.5,287.8C804.9,288.6 808.3,289.3 811.7,289.9C815.1,290.5 818.9,291.1 821.9,291.4C824.9,291.7 828.6,291.8 830.0,291.9"/>
<path d="M667.4,264.0C669.1,264.4 674.1,265.9 677.5,266.7C680.9,267.5 684.1,268.0 687.5,268.7C690.9,269.4 694.2,269.8 697.6,270.7C701.0,271.6 704.7,272.8 707.7,273.8C710.7,274.9 713.4,276.0 715.8,277.0C718.2,278.0 719.6,278.8 722.0,280.0C724.4,281.2 727.1,282.8 730.2,284.3C733.3,285.8 737.0,287.5 740.4,288.8C743.8,290.1 747.9,291.3 750.6,291.9C753.3,292.5 754.7,292.6 756.7,292.4C758.7,292.2 760.4,291.8 762.8,290.9C765.2,290.0 768.2,288.4 770.9,287.3C773.6,286.2 776.4,285.5 779.1,284.3C781.8,283.1 784.5,281.3 787.2,280.2C789.9,279.1 793.0,278.2 795.4,277.6C797.8,277.0 798.8,276.8 801.5,276.6C804.2,276.4 807.0,276.5 811.7,276.6C816.5,276.7 825.2,276.8 830.0,277.2C834.8,277.6 836.8,278.3 840.2,279.3C843.6,280.3 847.0,281.8 850.4,283.3C853.8,284.8 857.5,286.9 860.6,288.4C863.7,289.9 866.3,291.5 868.7,292.5C871.1,293.5 872.8,294.0 874.8,294.5C876.8,295.0 878.2,295.2 880.9,295.6C883.6,296.0 887.7,296.8 891.1,296.6C894.5,296.4 897.9,295.2 901.3,294.5C904.7,293.8 908.1,292.8 911.5,292.5C914.9,292.2 917.0,292.8 921.7,293.0C926.5,293.2 937.0,293.4 940.0,293.5"/>
<path d="M801.5,295.5C803.2,296.0 808.3,297.8 811.7,298.5C815.1,299.2 818.9,299.0 821.9,299.5C824.9,300.0 828.6,301.2 830.0,301.6"/>
<path d="M868.7,292.5C869.9,291.8 872.9,289.9 875.8,288.4C878.7,286.9 882.6,285.0 886.0,283.3C889.4,281.6 892.8,279.9 896.2,278.2C899.6,276.5 903.0,274.8 906.4,273.1C909.8,271.4 913.7,269.5 916.6,268.1C919.5,266.8 921.5,266.2 923.7,265.0C925.9,263.8 927.6,262.5 930.0,261.0C932.4,259.5 936.7,256.8 938.0,256.0"/>
<path d="M897.2,265.0C898.2,265.7 900.9,267.8 903.3,269.1C905.7,270.5 908.4,272.1 911.5,273.1C914.6,274.1 918.3,274.8 921.7,275.2C925.1,275.6 928.9,275.7 931.9,275.7C934.9,275.7 936.1,275.0 940.0,275.2C943.9,275.4 950.0,276.2 955.0,277.0C960.0,277.8 965.0,279.3 970.0,280.0C975.0,280.7 980.0,281.2 985.0,281.0C990.0,280.8 995.0,279.8 1000.0,279.0C1005.0,278.2 1010.0,276.8 1015.0,276.0C1020.0,275.2 1024.2,274.5 1030.0,274.0C1035.8,273.5 1046.2,273.2 1049.5,273.0"/>
<path d="M940.0,289.4C943.3,289.7 953.3,290.5 960.0,291.0C966.7,291.5 973.3,292.5 980.0,292.5C986.7,292.5 993.3,291.8 1000.0,291.0C1006.7,290.2 1014.2,289.2 1020.0,288.0C1025.8,286.8 1030.1,285.2 1035.0,284.0C1039.9,282.8 1047.1,281.5 1049.5,281.0"/>
<path d="M940.0,293.5C943.3,293.9 954.2,295.2 960.0,296.0C965.8,296.8 970.0,298.3 975.0,298.5C980.0,298.7 984.2,297.8 990.0,297.0C995.8,296.2 1003.3,294.7 1010.0,294.0C1016.7,293.3 1023.4,293.0 1030.0,293.0C1036.6,293.0 1046.2,293.8 1049.5,294.0"/>
<path d="M916.6,292.5C918.8,293.1 925.3,294.8 930.0,296.0C934.7,297.2 940.0,299.0 945.0,300.0C950.0,301.0 954.2,301.8 960.0,302.0C965.8,302.2 973.3,301.5 980.0,301.0C986.7,300.5 993.3,299.2 1000.0,299.0C1006.7,298.8 1014.2,299.5 1020.0,300.0C1025.8,300.5 1030.1,301.8 1035.0,302.0C1039.9,302.2 1047.1,301.2 1049.5,301.0"/>
<path d="M627.0,304.1C629.5,304.2 637.1,304.3 642.1,304.5C647.1,304.7 652.2,305.1 657.3,305.4C662.3,305.6 667.3,305.9 672.4,306.0C677.5,306.1 682.5,305.9 687.6,305.8C692.7,305.7 697.7,305.3 702.7,305.1C707.8,304.9 712.9,304.5 717.9,304.4C722.9,304.3 728.0,304.3 733.0,304.3C738.0,304.3 743.1,304.6 748.1,304.6C753.1,304.6 758.2,304.6 763.3,304.5C768.3,304.4 773.3,304.1 778.4,303.8C783.5,303.5 788.5,303.0 793.6,302.7C798.7,302.4 803.7,302.0 808.7,301.9C813.8,301.8 818.9,301.8 823.9,301.9C828.9,301.9 834.0,302.1 839.0,302.2C844.0,302.3 849.1,302.4 854.1,302.3C859.1,302.2 864.2,302.0 869.3,301.8C874.3,301.6 879.3,301.3 884.4,301.2C889.5,301.1 894.5,301.1 899.6,301.2C904.7,301.3 909.7,301.6 914.7,301.9C919.8,302.2 924.9,302.6 929.9,302.9C934.9,303.2 940.0,303.4 945.0,303.5C950.0,303.6 955.1,303.4 960.1,303.4C965.1,303.4 970.2,303.2 975.3,303.3C980.3,303.4 985.3,303.5 990.4,303.7C995.5,303.9 1000.5,304.3 1005.6,304.6C1010.7,304.9 1015.7,305.3 1020.7,305.5C1025.8,305.7 1030.9,305.8 1035.9,305.8C1041.0,305.8 1048.5,305.4 1051.0,305.3"/>
<path d="M627.0,307.0C629.5,306.9 637.1,306.8 642.1,306.7C647.1,306.6 652.2,306.3 657.3,306.3C662.3,306.3 667.3,306.3 672.4,306.5C677.5,306.7 682.5,307.1 687.6,307.4C692.7,307.7 697.7,308.0 702.7,308.2C707.8,308.4 712.9,308.4 717.9,308.3C722.9,308.2 728.0,307.9 733.0,307.7C738.0,307.5 743.1,307.2 748.1,307.1C753.1,307.0 758.2,307.1 763.3,307.2C768.3,307.3 773.3,307.7 778.4,307.9C783.5,308.1 788.5,308.3 793.6,308.3C798.7,308.3 803.7,308.1 808.7,307.9C813.8,307.7 818.9,307.2 823.9,306.9C828.9,306.6 834.0,306.3 839.0,306.2C844.0,306.1 849.1,306.1 854.1,306.2C859.1,306.3 864.2,306.6 869.3,306.7C874.3,306.8 879.3,306.9 884.4,306.8C889.5,306.7 894.5,306.5 899.6,306.2C904.7,305.9 909.7,305.4 914.7,305.2C919.8,304.9 924.9,304.7 929.9,304.7C934.9,304.7 940.0,304.9 945.0,305.0C950.0,305.1 955.1,305.5 960.1,305.6C965.1,305.8 970.2,305.9 975.3,305.9C980.3,305.9 985.3,305.7 990.4,305.5C995.5,305.3 1000.5,304.9 1005.6,304.8C1010.7,304.7 1015.7,304.6 1020.7,304.7C1025.8,304.8 1030.9,305.2 1035.9,305.5C1041.0,305.8 1048.5,306.2 1051.0,306.4"/>
<path d="M627.0,309.6C629.5,309.4 637.1,308.8 642.1,308.5C647.1,308.2 652.2,308.1 657.3,308.1C662.3,308.1 667.3,308.4 672.4,308.6C677.5,308.8 682.5,309.2 687.6,309.4C692.7,309.6 697.7,309.7 702.7,309.6C707.8,309.5 712.9,309.2 717.9,309.0C722.9,308.8 728.0,308.3 733.0,308.2C738.0,308.1 743.1,308.0 748.1,308.1C753.1,308.2 758.2,308.6 763.3,308.9C768.3,309.2 773.3,309.7 778.4,309.9C783.5,310.1 788.5,310.2 793.6,310.1C798.7,310.0 803.7,309.7 808.7,309.5C813.8,309.3 818.9,309.0 823.9,308.9C828.9,308.8 834.0,308.9 839.0,309.1C844.0,309.3 849.1,309.7 854.1,310.0C859.1,310.3 864.2,310.7 869.3,310.8C874.3,310.9 879.3,310.9 884.4,310.8C889.5,310.7 894.5,310.2 899.6,310.0C904.7,309.8 909.7,309.5 914.7,309.4C919.8,309.3 924.9,309.4 929.9,309.6C934.9,309.8 940.0,310.2 945.0,310.4C950.0,310.6 955.1,310.9 960.1,310.9C965.1,310.9 970.2,310.7 975.3,310.5C980.3,310.3 985.3,309.8 990.4,309.5C995.5,309.2 1000.5,308.9 1005.6,308.8C1010.7,308.7 1015.7,308.9 1020.7,309.1C1025.8,309.3 1030.9,309.6 1035.9,309.8C1041.0,310.0 1048.5,310.1 1051.0,310.1"/>
<path d="M627.0,312.1C629.5,312.1 637.1,312.0 642.1,311.8C647.1,311.6 652.2,311.2 657.3,310.9C662.3,310.6 667.3,310.1 672.4,309.9C677.5,309.7 682.5,309.6 687.6,309.6C692.7,309.7 697.7,309.9 702.7,310.2C707.8,310.4 712.9,310.9 717.9,311.1C722.9,311.3 728.0,311.5 733.0,311.5C738.0,311.5 743.1,311.4 748.1,311.3C753.1,311.2 758.2,311.1 763.3,311.1C768.3,311.2 773.3,311.3 778.4,311.6C783.5,311.9 788.5,312.6 793.6,313.0C798.7,313.4 803.7,313.9 808.7,314.2C813.8,314.5 818.9,314.7 823.9,314.8C828.9,314.9 834.0,314.7 839.0,314.6C844.0,314.6 849.1,314.4 854.1,314.5C859.1,314.6 864.2,314.7 869.3,314.9C874.3,315.1 879.3,315.6 884.4,315.9C889.5,316.2 894.5,316.5 899.6,316.5C904.7,316.5 909.7,316.3 914.7,316.1C919.8,315.9 924.9,315.4 929.9,315.1C934.9,314.8 940.0,314.5 945.0,314.3C950.0,314.1 955.1,314.1 960.1,314.1C965.1,314.1 970.2,314.3 975.3,314.3C980.3,314.3 985.3,314.3 990.4,314.1C995.5,313.9 1000.5,313.5 1005.6,313.1C1010.7,312.7 1015.7,312.1 1020.7,311.7C1025.8,311.3 1030.9,310.9 1035.9,310.7C1041.0,310.5 1048.5,310.7 1051.0,310.7"/>
<path d="M627.0,316.7C629.5,316.7 637.1,316.8 642.1,316.7C647.1,316.6 652.2,316.3 657.3,316.1C662.3,315.9 667.3,315.6 672.4,315.4C677.5,315.2 682.5,314.9 687.6,314.8C692.7,314.7 697.7,314.6 702.7,314.5C707.8,314.4 712.9,314.4 717.9,314.3C722.9,314.2 728.0,313.9 733.0,313.7C738.0,313.5 743.1,313.2 748.1,313.0C753.1,312.8 758.2,312.6 763.3,312.5C768.3,312.4 773.3,312.4 778.4,312.5C783.5,312.6 788.5,312.8 793.6,313.0C798.7,313.2 803.7,313.4 808.7,313.5C813.8,313.6 818.9,313.8 823.9,313.9C828.9,314.0 834.0,314.0 839.0,314.1C844.0,314.2 849.1,314.2 854.1,314.4C859.1,314.6 864.2,314.8 869.3,315.1C874.3,315.4 879.3,315.8 884.4,316.0C889.5,316.2 894.5,316.4 899.6,316.5C904.7,316.6 909.7,316.6 914.7,316.6C919.8,316.6 924.9,316.4 929.9,316.3C934.9,316.2 940.0,316.1 945.0,316.0C950.0,315.9 955.1,315.9 960.1,315.8C965.1,315.8 970.2,315.8 975.3,315.7C980.3,315.6 985.3,315.5 990.4,315.3C995.5,315.1 1000.5,314.8 1005.6,314.5C1010.7,314.2 1015.7,313.9 1020.7,313.6C1025.8,313.4 1030.9,313.1 1035.9,313.0C1041.0,312.9 1048.5,312.9 1051.0,312.9"/>
<path d="M627.0,315.7C629.5,315.7 637.1,315.7 642.1,315.5C647.1,315.3 652.2,314.9 657.3,314.7C662.3,314.4 667.3,314.1 672.4,314.0C677.5,313.9 682.5,313.9 687.6,314.0C692.7,314.1 697.7,314.3 702.7,314.5C707.8,314.7 712.9,315.0 717.9,315.1C722.9,315.2 728.0,315.2 733.0,315.1C738.0,315.0 743.1,314.8 748.1,314.7C753.1,314.6 758.2,314.4 763.3,314.5C768.3,314.6 773.3,314.8 778.4,315.0C783.5,315.2 788.5,315.6 793.6,315.9C798.7,316.2 803.7,316.5 808.7,316.7C813.8,316.9 818.9,316.8 823.9,316.8C828.9,316.8 834.0,316.6 839.0,316.5C844.0,316.4 849.1,316.4 854.1,316.5C859.1,316.6 864.2,316.9 869.3,317.1C874.3,317.3 879.3,317.7 884.4,317.9C889.5,318.1 894.5,318.3 899.6,318.4C904.7,318.4 909.7,318.3 914.7,318.2C919.8,318.1 924.9,317.8 929.9,317.6C934.9,317.5 940.0,317.3 945.0,317.3C950.0,317.3 955.1,317.5 960.1,317.6C965.1,317.7 970.2,317.9 975.3,318.0C980.3,318.1 985.3,318.1 990.4,318.0C995.5,317.9 1000.5,317.5 1005.6,317.2C1010.7,316.9 1015.7,316.5 1020.7,316.3C1025.8,316.1 1030.9,315.9 1035.9,315.9C1041.0,315.8 1048.5,316.0 1051.0,316.0"/>
<path d="M627.0,318.8C629.5,318.9 637.1,319.1 642.1,319.3C647.1,319.5 652.2,319.9 657.3,320.0C662.3,320.1 667.3,320.1 672.4,320.0C677.5,319.9 682.5,319.5 687.6,319.1C692.7,318.8 697.7,318.2 702.7,317.9C707.8,317.6 712.9,317.4 717.9,317.3C722.9,317.2 728.0,317.3 733.0,317.4C738.0,317.5 743.1,317.7 748.1,317.7C753.1,317.7 758.2,317.6 763.3,317.4C768.3,317.2 773.3,316.7 778.4,316.4C783.5,316.1 788.5,315.7 793.6,315.5C798.7,315.3 803.7,315.3 808.7,315.4C813.8,315.5 818.9,315.8 823.9,316.0C828.9,316.2 834.0,316.6 839.0,316.8C844.0,317.0 849.1,317.0 854.1,317.0C859.1,317.0 864.2,316.7 869.3,316.6C874.3,316.5 879.3,316.3 884.4,316.4C889.5,316.4 894.5,316.6 899.6,316.9C904.7,317.2 909.7,317.8 914.7,318.2C919.8,318.6 924.9,319.0 929.9,319.2C934.9,319.4 940.0,319.4 945.0,319.4C950.0,319.3 955.1,319.0 960.1,318.9C965.1,318.8 970.2,318.7 975.3,318.7C980.3,318.7 985.3,318.9 990.4,319.1C995.5,319.3 1000.5,319.7 1005.6,319.9C1010.7,320.1 1015.7,320.3 1020.7,320.3C1025.8,320.3 1030.9,320.0 1035.9,319.7C1041.0,319.4 1048.5,318.8 1051.0,318.6"/>
<path d="M627.0,317.2C629.5,317.2 637.1,317.5 642.1,317.5C647.1,317.5 652.2,317.2 657.3,317.0C662.3,316.8 667.3,316.4 672.4,316.4C677.5,316.3 682.5,316.4 687.6,316.7C692.7,316.9 697.7,317.5 702.7,317.9C707.8,318.3 712.9,319.0 717.9,319.3C722.9,319.6 728.0,319.8 733.0,319.9C738.0,320.0 743.1,319.9 748.1,319.8C753.1,319.8 758.2,319.5 763.3,319.6C768.3,319.7 773.3,319.9 778.4,320.2C783.5,320.5 788.5,321.1 793.6,321.5C798.7,321.9 803.7,322.4 808.7,322.6C813.8,322.8 818.9,322.8 823.9,322.7C828.9,322.6 834.0,322.2 839.0,322.0C844.0,321.8 849.1,321.4 854.1,321.3C859.1,321.2 864.2,321.3 869.3,321.4C874.3,321.5 879.3,322.0 884.4,322.1C889.5,322.2 894.5,322.4 899.6,322.3C904.7,322.2 909.7,321.8 914.7,321.4C919.8,321.0 924.9,320.4 929.9,320.0C934.9,319.6 940.0,319.1 945.0,318.9C950.0,318.7 955.1,318.7 960.1,318.7C965.1,318.7 970.2,319.0 975.3,319.0C980.3,319.0 985.3,319.1 990.4,318.9C995.5,318.7 1000.5,318.3 1005.6,317.9C1010.7,317.5 1015.7,316.9 1020.7,316.6C1025.8,316.3 1030.9,315.9 1035.9,315.9C1041.0,315.8 1048.5,316.2 1051.0,316.3"/>
<path d="M627.0,319.9C629.5,319.8 637.1,319.7 642.1,319.6C647.1,319.5 652.2,319.3 657.3,319.3C662.3,319.3 667.3,319.4 672.4,319.5C677.5,319.6 682.5,319.9 687.6,320.1C692.7,320.3 697.7,320.4 702.7,320.5C707.8,320.6 712.9,320.7 717.9,320.7C722.9,320.7 728.0,320.6 733.0,320.6C738.0,320.6 743.1,320.6 748.1,320.7C753.1,320.8 758.2,320.9 763.3,321.1C768.3,321.3 773.3,321.5 778.4,321.7C783.5,321.9 788.5,322.1 793.6,322.2C798.7,322.3 803.7,322.2 808.7,322.2C813.8,322.2 818.9,322.0 823.9,322.0C828.9,322.0 834.0,322.0 839.0,322.0C844.0,322.0 849.1,322.1 854.1,322.2C859.1,322.3 864.2,322.5 869.3,322.6C874.3,322.7 879.3,322.7 884.4,322.6C889.5,322.6 894.5,322.5 899.6,322.3C904.7,322.1 909.7,321.9 914.7,321.7C919.8,321.5 924.9,321.4 929.9,321.4C934.9,321.3 940.0,321.4 945.0,321.4C950.0,321.4 955.1,321.5 960.1,321.5C965.1,321.5 970.2,321.3 975.3,321.2C980.3,321.1 985.3,320.8 990.4,320.6C995.5,320.4 1000.5,320.1 1005.6,320.0C1010.7,319.9 1015.7,319.8 1020.7,319.8C1025.8,319.8 1030.9,319.8 1035.9,319.9C1041.0,319.9 1048.5,320.1 1051.0,320.1"/>
<path d="M627.0,320.9C629.5,321.0 637.1,321.6 642.1,321.8C647.1,322.0 652.2,322.1 657.3,322.0C662.3,321.9 667.3,321.6 672.4,321.4C677.5,321.2 682.5,320.8 687.6,320.7C692.7,320.6 697.7,320.8 702.7,321.0C707.8,321.2 712.9,321.7 717.9,322.1C722.9,322.5 728.0,323.1 733.0,323.3C738.0,323.5 743.1,323.6 748.1,323.5C753.1,323.4 758.2,323.1 763.3,322.9C768.3,322.7 773.3,322.4 778.4,322.4C783.5,322.4 788.5,322.6 793.6,322.9C798.7,323.2 803.7,323.8 808.7,324.1C813.8,324.4 818.9,324.8 823.9,324.9C828.9,325.0 834.0,325.0 839.0,324.8C844.0,324.6 849.1,324.1 854.1,323.8C859.1,323.5 864.2,323.2 869.3,323.2C874.3,323.1 879.3,323.3 884.4,323.5C889.5,323.7 894.5,324.2 899.6,324.4C904.7,324.6 909.7,324.8 914.7,324.7C919.8,324.6 924.9,324.3 929.9,324.0C934.9,323.7 940.0,323.1 945.0,322.7C950.0,322.3 955.1,322.0 960.1,321.9C965.1,321.8 970.2,322.0 975.3,322.2C980.3,322.4 985.3,322.8 990.4,322.9C995.5,323.0 1000.5,323.0 1005.6,322.9C1010.7,322.8 1015.7,322.4 1020.7,322.0C1025.8,321.6 1030.9,321.1 1035.9,320.8C1041.0,320.5 1048.5,320.4 1051.0,320.3"/>
<path d="M627.0,327.4C629.5,327.3 637.1,326.9 642.1,326.7C647.1,326.5 652.2,326.1 657.3,326.0C662.3,325.9 667.3,325.8 672.4,325.8C677.5,325.8 682.5,326.0 687.6,326.1C692.7,326.2 697.7,326.3 702.7,326.2C707.8,326.1 712.9,325.9 717.9,325.6C722.9,325.3 728.0,324.9 733.0,324.5C738.0,324.1 743.1,323.7 748.1,323.5C753.1,323.3 758.2,323.2 763.3,323.2C768.3,323.2 773.3,323.4 778.4,323.4C783.5,323.4 788.5,323.5 793.6,323.4C798.7,323.3 803.7,323.0 808.7,322.7C813.8,322.4 818.9,321.9 823.9,321.7C828.9,321.4 834.0,321.3 839.0,321.2C844.0,321.1 849.1,321.2 854.1,321.3C859.1,321.4 864.2,321.8 869.3,321.9C874.3,322.0 879.3,322.2 884.4,322.2C889.5,322.2 894.5,322.1 899.6,322.0C904.7,321.9 909.7,321.7 914.7,321.6C919.8,321.6 924.9,321.6 929.9,321.7C934.9,321.8 940.0,322.2 945.0,322.5C950.0,322.8 955.1,323.2 960.1,323.5C965.1,323.8 970.2,324.1 975.3,324.2C980.3,324.3 985.3,324.2 990.4,324.2C995.5,324.2 1000.5,324.1 1005.6,324.1C1010.7,324.2 1015.7,324.3 1020.7,324.5C1025.8,324.7 1030.9,325.1 1035.9,325.4C1041.0,325.7 1048.5,326.2 1051.0,326.4"/>
<path d="M627.0,328.2C629.5,328.1 637.1,327.9 642.1,327.5C647.1,327.1 652.2,326.5 657.3,326.1C662.3,325.7 667.3,325.1 672.4,324.9C677.5,324.6 682.5,324.6 687.6,324.6C692.7,324.6 697.7,324.8 702.7,324.9C707.8,325.0 712.9,325.1 717.9,325.0C722.9,324.9 728.0,324.6 733.0,324.3C738.0,324.0 743.1,323.5 748.1,323.3C753.1,323.1 758.2,322.9 763.3,323.0C768.3,323.1 773.3,323.3 778.4,323.6C783.5,323.9 788.5,324.5 793.6,324.9C798.7,325.3 803.7,325.6 808.7,325.8C813.8,326.0 818.9,325.8 823.9,325.8C828.9,325.8 834.0,325.6 839.0,325.6C844.0,325.6 849.1,325.7 854.1,325.9C859.1,326.1 864.2,326.6 869.3,327.0C874.3,327.4 879.3,327.9 884.4,328.2C889.5,328.5 894.5,328.6 899.6,328.6C904.7,328.6 909.7,328.3 914.7,328.0C919.8,327.7 924.9,327.2 929.9,327.0C934.9,326.8 940.0,326.6 945.0,326.6C950.0,326.6 955.1,326.8 960.1,326.9C965.1,327.0 970.2,327.2 975.3,327.1C980.3,327.0 985.3,326.8 990.4,326.5C995.5,326.2 1000.5,325.6 1005.6,325.2C1010.7,324.8 1015.7,324.2 1020.7,323.9C1025.8,323.6 1030.9,323.5 1035.9,323.5C1041.0,323.5 1048.5,323.9 1051.0,324.0"/>
<path d="M627.0,330.1C629.5,329.9 637.1,329.1 642.1,328.7C647.1,328.3 652.2,328.0 657.3,327.8C662.3,327.6 667.3,327.7 672.4,327.6C677.5,327.6 682.5,327.6 687.6,327.5C692.7,327.4 697.7,327.1 702.7,326.7C707.8,326.3 712.9,325.7 717.9,325.3C722.9,324.9 728.0,324.3 733.0,324.1C738.0,323.9 743.1,323.9 748.1,324.0C753.1,324.1 758.2,324.6 763.3,324.9C768.3,325.2 773.3,325.7 778.4,326.0C783.5,326.3 788.5,326.5 793.6,326.6C798.7,326.7 803.7,326.6 808.7,326.7C813.8,326.8 818.9,326.7 823.9,326.9C828.9,327.1 834.0,327.6 839.0,328.0C844.0,328.4 849.1,329.2 854.1,329.6C859.1,330.1 864.2,330.5 869.3,330.7C874.3,330.9 879.3,330.9 884.4,330.7C889.5,330.5 894.5,330.0 899.6,329.7C904.7,329.4 909.7,329.1 914.7,328.9C919.8,328.7 924.9,328.7 929.9,328.6C934.9,328.6 940.0,328.7 945.0,328.6C950.0,328.5 955.1,328.5 960.1,328.2C965.1,327.9 970.2,327.3 975.3,326.8C980.3,326.3 985.3,325.6 990.4,325.2C995.5,324.8 1000.5,324.3 1005.6,324.2C1010.7,324.1 1015.7,324.2 1020.7,324.4C1025.8,324.6 1030.9,325.0 1035.9,325.2C1041.0,325.4 1048.5,325.7 1051.0,325.8"/>
<path d="M627.0,330.5C629.5,330.4 637.1,330.3 642.1,330.0C647.1,329.7 652.2,329.1 657.3,328.8C662.3,328.5 667.3,328.1 672.4,328.0C677.5,327.9 682.5,328.1 687.6,328.2C692.7,328.3 697.7,328.7 702.7,328.8C707.8,328.9 712.9,329.1 717.9,329.0C722.9,328.9 728.0,328.6 733.0,328.4C738.0,328.2 743.1,327.8 748.1,327.6C753.1,327.4 758.2,327.2 763.3,327.3C768.3,327.4 773.3,327.8 778.4,328.1C783.5,328.4 788.5,328.9 793.6,329.2C798.7,329.5 803.7,329.7 808.7,329.7C813.8,329.7 818.9,329.4 823.9,329.3C828.9,329.2 834.0,328.9 839.0,328.8C844.0,328.7 849.1,328.8 854.1,328.9C859.1,329.0 864.2,329.4 869.3,329.7C874.3,330.0 879.3,330.4 884.4,330.6C889.5,330.8 894.5,330.8 899.6,330.7C904.7,330.6 909.7,330.1 914.7,329.8C919.8,329.5 924.9,329.0 929.9,328.8C934.9,328.6 940.0,328.6 945.0,328.6C950.0,328.7 955.1,328.9 960.1,329.1C965.1,329.3 970.2,329.6 975.3,329.6C980.3,329.6 985.3,329.4 990.4,329.2C995.5,328.9 1000.5,328.4 1005.6,328.1C1010.7,327.8 1015.7,327.4 1020.7,327.3C1025.8,327.2 1030.9,327.3 1035.9,327.5C1041.0,327.7 1048.5,328.2 1051.0,328.4"/>
<path d="M627.0,329.1C629.5,329.0 637.1,328.6 642.1,328.7C647.1,328.8 652.2,329.1 657.3,329.4C662.3,329.7 667.3,330.2 672.4,330.5C677.5,330.8 682.5,331.1 687.6,331.2C692.7,331.3 697.7,331.2 702.7,331.1C707.8,331.0 712.9,330.8 717.9,330.7C722.9,330.6 728.0,330.6 733.0,330.7C738.0,330.8 743.1,331.2 748.1,331.5C753.1,331.8 758.2,332.2 763.3,332.4C768.3,332.6 773.3,332.6 778.4,332.5C783.5,332.4 788.5,332.0 793.6,331.7C798.7,331.4 803.7,330.9 808.7,330.6C813.8,330.4 818.9,330.2 823.9,330.2C828.9,330.2 834.0,330.3 839.0,330.4C844.0,330.5 849.1,330.8 854.1,330.8C859.1,330.8 864.2,330.7 869.3,330.5C874.3,330.3 879.3,329.9 884.4,329.6C889.5,329.3 894.5,328.8 899.6,328.7C904.7,328.6 909.7,328.6 914.7,328.8C919.8,329.0 924.9,329.4 929.9,329.7C934.9,330.0 940.0,330.4 945.0,330.6C950.0,330.8 955.1,330.8 960.1,330.8C965.1,330.8 970.2,330.5 975.3,330.4C980.3,330.3 985.3,330.1 990.4,330.1C995.5,330.2 1000.5,330.4 1005.6,330.7C1010.7,331.0 1015.7,331.5 1020.7,331.8C1025.8,332.1 1030.9,332.4 1035.9,332.5C1041.0,332.6 1048.5,332.3 1051.0,332.3"/>
<path d="M627.0,333.7C629.5,333.6 637.1,333.4 642.1,333.2C647.1,333.0 652.2,332.7 657.3,332.6C662.3,332.5 667.3,332.4 672.4,332.4C677.5,332.4 682.5,332.5 687.6,332.7C692.7,332.9 697.7,333.1 702.7,333.3C707.8,333.5 712.9,333.6 717.9,333.7C722.9,333.8 728.0,333.7 733.0,333.7C738.0,333.7 743.1,333.6 748.1,333.6C753.1,333.6 758.2,333.7 763.3,333.8C768.3,333.9 773.3,334.3 778.4,334.5C783.5,334.7 788.5,335.0 793.6,335.2C798.7,335.4 803.7,335.5 808.7,335.5C813.8,335.5 818.9,335.3 823.9,335.2C828.9,335.1 834.0,334.9 839.0,334.8C844.0,334.7 849.1,334.7 854.1,334.7C859.1,334.7 864.2,334.8 869.3,334.9C874.3,334.9 879.3,335.0 884.4,335.0C889.5,335.0 894.5,334.9 899.6,334.7C904.7,334.5 909.7,334.1 914.7,333.9C919.8,333.6 924.9,333.4 929.9,333.2C934.9,333.0 940.0,332.9 945.0,332.9C950.0,332.9 955.1,333.0 960.1,333.1C965.1,333.2 970.2,333.3 975.3,333.3C980.3,333.3 985.3,333.2 990.4,333.1C995.5,333.0 1000.5,332.8 1005.6,332.7C1010.7,332.6 1015.7,332.6 1020.7,332.6C1025.8,332.7 1030.9,332.8 1035.9,333.0C1041.0,333.2 1048.5,333.6 1051.0,333.7"/>
<path d="M627.0,337.0C629.5,337.2 637.1,338.0 642.1,338.3C647.1,338.6 652.2,338.9 657.3,338.9C662.3,338.9 667.3,338.6 672.4,338.4C677.5,338.2 682.5,337.8 687.6,337.6C692.7,337.4 697.7,337.2 702.7,337.3C707.8,337.4 712.9,337.7 717.9,337.9C722.9,338.1 728.0,338.5 733.0,338.6C738.0,338.7 743.1,338.7 748.1,338.5C753.1,338.3 758.2,337.8 763.3,337.4C768.3,337.0 773.3,336.6 778.4,336.3C783.5,336.1 788.5,335.9 793.6,335.9C798.7,335.9 803.7,336.2 808.7,336.4C813.8,336.6 818.9,337.0 823.9,337.1C828.9,337.2 834.0,337.2 839.0,337.0C844.0,336.8 849.1,336.4 854.1,336.1C859.1,335.8 864.2,335.4 869.3,335.4C874.3,335.3 879.3,335.6 884.4,335.8C889.5,336.1 894.5,336.5 899.6,336.9C904.7,337.2 909.7,337.7 914.7,337.9C919.8,338.1 924.9,338.1 929.9,338.0C934.9,337.9 940.0,337.6 945.0,337.4C950.0,337.2 955.1,337.0 960.1,337.0C965.1,337.0 970.2,337.2 975.3,337.5C980.3,337.8 985.3,338.3 990.4,338.6C995.5,338.9 1000.5,339.1 1005.6,339.1C1010.7,339.1 1015.7,338.9 1020.7,338.6C1025.8,338.3 1030.9,337.8 1035.9,337.5C1041.0,337.2 1048.5,336.8 1051.0,336.7"/>
<path d="M627.0,339.3C629.5,339.3 637.1,339.5 642.1,339.5C647.1,339.5 652.2,339.5 657.3,339.4C662.3,339.3 667.3,339.1 672.4,339.0C677.5,338.9 682.5,338.7 687.6,338.7C692.7,338.7 697.7,338.7 702.7,338.8C707.8,338.9 712.9,339.1 717.9,339.2C722.9,339.3 728.0,339.6 733.0,339.7C738.0,339.8 743.1,339.8 748.1,339.8C753.1,339.8 758.2,339.7 763.3,339.7C768.3,339.7 773.3,339.6 778.4,339.7C783.5,339.8 788.5,339.9 793.6,340.1C798.7,340.3 803.7,340.5 808.7,340.7C813.8,340.9 818.9,341.2 823.9,341.3C828.9,341.4 834.0,341.4 839.0,341.4C844.0,341.4 849.1,341.3 854.1,341.3C859.1,341.3 864.2,341.1 869.3,341.2C874.3,341.2 879.3,341.5 884.4,341.6C889.5,341.8 894.5,342.0 899.6,342.1C904.7,342.2 909.7,342.3 914.7,342.3C919.8,342.3 924.9,342.3 929.9,342.2C934.9,342.1 940.0,341.9 945.0,341.8C950.0,341.7 955.1,341.5 960.1,341.5C965.1,341.5 970.2,341.6 975.3,341.6C980.3,341.7 985.3,341.8 990.4,341.8C995.5,341.8 1000.5,341.8 1005.6,341.7C1010.7,341.6 1015.7,341.4 1020.7,341.2C1025.8,341.0 1030.9,340.7 1035.9,340.5C1041.0,340.3 1048.5,340.2 1051.0,340.2"/>
<path d="M627.0,345.1C629.5,345.1 637.1,345.0 642.1,344.9C647.1,344.8 652.2,344.6 657.3,344.6C662.3,344.6 667.3,344.8 672.4,344.9C677.5,345.0 682.5,345.1 687.6,345.2C692.7,345.3 697.7,345.4 702.7,345.3C707.8,345.2 712.9,344.9 717.9,344.6C722.9,344.3 728.0,343.9 733.0,343.6C738.0,343.3 743.1,343.0 748.1,342.9C753.1,342.8 758.2,342.7 763.3,342.7C768.3,342.7 773.3,342.8 778.4,342.8C783.5,342.8 788.5,342.8 793.6,342.7C798.7,342.6 803.7,342.3 808.7,342.1C813.8,341.9 818.9,341.5 823.9,341.4C828.9,341.3 834.0,341.3 839.0,341.4C844.0,341.5 849.1,341.7 854.1,341.9C859.1,342.1 864.2,342.6 869.3,342.8C874.3,343.0 879.3,343.2 884.4,343.3C889.5,343.4 894.5,343.3 899.6,343.3C904.7,343.3 909.7,343.2 914.7,343.3C919.8,343.4 924.9,343.5 929.9,343.7C934.9,343.9 940.0,344.3 945.0,344.6C950.0,344.9 955.1,345.2 960.1,345.4C965.1,345.6 970.2,345.7 975.3,345.6C980.3,345.6 985.3,345.3 990.4,345.1C995.5,344.9 1000.5,344.7 1005.6,344.6C1010.7,344.5 1015.7,344.5 1020.7,344.5C1025.8,344.5 1030.9,344.7 1035.9,344.7C1041.0,344.7 1048.5,344.6 1051.0,344.6"/>
<path d="M627.0,345.4C629.5,345.3 637.1,345.2 642.1,345.1C647.1,345.0 652.2,344.7 657.3,344.5C662.3,344.3 667.3,344.1 672.4,344.1C677.5,344.1 682.5,344.3 687.6,344.4C692.7,344.5 697.7,344.7 702.7,344.9C707.8,345.1 712.9,345.3 717.9,345.4C722.9,345.5 728.0,345.3 733.0,345.3C738.0,345.3 743.1,345.2 748.1,345.2C753.1,345.2 758.2,345.2 763.3,345.3C768.3,345.4 773.3,345.7 778.4,345.9C783.5,346.1 788.5,346.5 793.6,346.7C798.7,346.9 803.7,347.1 808.7,347.2C813.8,347.3 818.9,347.2 823.9,347.1C828.9,347.0 834.0,346.8 839.0,346.8C844.0,346.8 849.1,346.8 854.1,346.9C859.1,347.0 864.2,347.2 869.3,347.3C874.3,347.4 879.3,347.5 884.4,347.5C889.5,347.5 894.5,347.6 899.6,347.5C904.7,347.4 909.7,347.4 914.7,347.2C919.8,347.0 924.9,346.6 929.9,346.5C934.9,346.4 940.0,346.3 945.0,346.3C950.0,346.3 955.1,346.4 960.1,346.4C965.1,346.4 970.2,346.6 975.3,346.5C980.3,346.4 985.3,346.3 990.4,346.1C995.5,345.9 1000.5,345.5 1005.6,345.3C1010.7,345.1 1015.7,344.8 1020.7,344.7C1025.8,344.6 1030.9,344.5 1035.9,344.5C1041.0,344.5 1048.5,344.8 1051.0,344.8"/>
<path d="M650.0,336.0C659.2,334.4 686.7,329.5 705.0,326.5C723.3,323.5 750.8,319.4 760.0,318.0"/>
<path d="M760.0,318.0C769.2,319.3 796.7,323.1 815.0,325.8C833.3,328.5 860.8,332.6 870.0,334.0"/>
<path d="M880.0,340.0C889.2,338.3 916.7,333.8 935.0,329.8C953.3,325.8 980.8,318.3 990.0,316.0"/>
<path d="M700.0,322.0C710.0,323.5 740.0,327.9 760.0,330.9C780.0,333.9 810.0,338.5 820.0,340.0"/>
<path d="M930.0,330.0C940.0,328.5 970.0,324.3 990.0,321.3C1010.0,318.3 1040.0,313.5 1050.0,312.0"/>
<path d="M627.0,346.0C633.1,345.3 651.3,343.8 663.5,342.0C675.7,340.1 693.9,336.2 700.0,335.0"/>
<path d="M700.0,335.0C706.7,335.7 726.7,337.4 740.0,339.2C753.3,341.1 773.3,344.9 780.0,346.0"/>
</g>
<rect x="627" y="36" width="424" height="311" fill="none" stroke="#111" stroke-width="1.7"/>
<text x="675.9" y="200" font-size="16" font-weight="bold" font-family="'Liberation Serif','Times New Roman',serif">Ni<tspan font-size="10" dy="5">3</tspan><tspan dy="-5">Se</tspan><tspan font-size="10" dy="5">2</tspan></text>
<circle cx="980" cy="209" r="5" fill="#3cbcbc"/>
<text x="7" y="483.6" font-size="56" font-weight="bold" font-family="'Liberation Serif','Times New Roman',serif" text-anchor="start" >c</text>
<text x="76.6" y="831.0" font-size="18" font-weight="bold" font-family="'Liberation Serif','Times New Roman',serif" text-anchor="end" >0</text>
<line x1="85.0" y1="825.0" x2="91.0" y2="825.0" stroke="#111" stroke-width="1.6"/>
<text x="76.6" y="743.825" font-size="18" font-weight="bold" font-family="'Liberation Serif','Times New Roman',serif" text-anchor="end" >50</text>
<line x1="85.0" y1="737.8" x2="91.0" y2="737.8" stroke="#111" stroke-width="1.6"/>
<text x="76.6" y="656.65" font-size="18" font-weight="bold" font-family="'Liberation Serif','Times New Roman',serif" text-anchor="end" >100</text>
<line x1="85.0" y1="650.6" x2="91.0" y2="650.6" stroke="#111" stroke-width="1.6"/>
<text x="76.6" y="569.4749999999999" font-size="18" font-weight="bold" font-family="'Liberation Serif','Times New Roman',serif" text-anchor="end" >150</text>
<line x1="85.0" y1="563.5" x2="91.0" y2="563.5" stroke="#111" stroke-width="1.6"/>
<text x="76.6" y="482.3" font-size="18" font-weight="bold" font-family="'Liberation Serif','Times New Roman',serif" text-anchor="end" >200</text>
<line x1="85.0" y1="476.3" x2="91.0" y2="476.3" stroke="#111" stroke-width="1.6"/>
<line x1="85.0" y1="781.4" x2="87.5" y2="781.4" stroke="#111" stroke-width="1.6"/>
<line x1="85.0" y1="694.2" x2="87.5" y2="694.2" stroke="#111" stroke-width="1.6"/>
<line x1="85.0" y1="607.1" x2="87.5" y2="607.1" stroke="#111" stroke-width="1.6"/>
<line x1="85.0" y1="519.9" x2="87.5" y2="519.9" stroke="#111" stroke-width="1.6"/>
<text x="175.70000000000002" y="847" font-size="18" font-weight="bold" font-family="'Liberation Serif','Times New Roman',serif" text-anchor="middle" >-10</text>
<line x1="175.7" y1="825" x2="175.7" y2="819" stroke="#111" stroke-width="1.6"/>
<text x="289.6" y="847" font-size="18" font-weight="bold" font-family="'Liberation Serif','Times New Roman',serif" text-anchor="middle" >0</text>
<line x1="289.6" y1="825" x2="289.6" y2="819" stroke="#111" stroke-width="1.6"/>
<text x="403.5" y="847" font-size="18" font-weight="bold" font-family="'Liberation Serif','Times New Roman',serif" text-anchor="middle" >10</text>
<line x1="403.5" y1="825" x2="403.5" y2="819" stroke="#111" stroke-width="1.6"/>
<text x="517.4000000000001" y="847" font-size="18" font-weight="bold" font-family="'Liberation Serif','Times New Roman',serif" text-anchor="middle" >20</text>
<line x1="517.4" y1="825" x2="517.4" y2="819" stroke="#111" stroke-width="1.6"/>
<line x1="118.8" y1="825" x2="118.8" y2="822.5" stroke="#111" stroke-width="1.6"/>
<line x1="232.7" y1="825" x2="232.7" y2="822.5" stroke="#111" stroke-width="1.6"/>
<line x1="346.6" y1="825" x2="346.6" y2="822.5" stroke="#111" stroke-width="1.6"/>
<line x1="460.5" y1="825" x2="460.5" y2="822.5" stroke="#111" stroke-width="1.6"/>
<text x="299.3" y="879.4" font-size="20" font-weight="bold" font-family="'Liberation Serif','Times New Roman',serif" text-anchor="middle" >Energy (eV)</text>
<text transform="translate(34,635.4) rotate(-90)" font-size="20" font-weight="bold" font-family="'Liberation Serif','Times New Roman',serif" text-anchor="middle">Density of States (Electrons/eV)</text>
<path d="M84.4,825.0C88.3,825.0 103.6,825.1 108.0,825.0C112.4,824.9 109.2,827.0 110.7,824.2C112.2,821.5 114.8,814.5 116.8,808.5C118.8,802.5 120.8,795.2 122.4,788.3C124.0,781.4 125.2,772.4 126.4,767.0C127.6,761.6 128.6,756.9 129.7,756.0C130.8,755.1 132.1,758.2 133.1,761.4C134.1,764.5 135.0,769.3 135.9,774.9C136.8,780.5 137.8,788.6 138.7,795.0C139.6,801.4 140.5,808.2 141.5,813.0C142.5,817.8 144.0,821.6 144.9,823.6C145.8,825.6 137.0,824.8 147.0,825.0C157.0,825.2 195.1,825.1 205.0,825.0C214.9,824.9 205.6,830.5 206.7,824.5C207.8,818.5 210.2,799.6 211.8,789.2C213.4,778.9 214.9,766.7 216.0,762.4C217.1,758.1 217.5,761.8 218.5,763.2C219.5,764.6 220.8,771.2 222.2,770.8C223.6,770.4 225.3,764.1 226.9,760.7C228.5,757.3 230.5,754.5 231.9,750.6C233.3,746.7 234.2,739.9 235.3,737.1C236.4,734.3 237.2,738.5 238.7,733.8C240.1,729.0 242.6,710.6 244.0,708.6C245.4,706.6 246.0,715.6 247.1,722.0C248.2,728.4 249.3,739.6 250.4,747.2C251.5,754.8 252.5,766.3 253.8,767.4C255.1,768.5 256.8,758.5 258.0,754.0C259.2,749.5 260.3,747.2 261.3,740.5C262.3,733.8 262.9,736.4 263.9,713.6C264.9,690.8 266.1,632.1 267.3,603.5C268.5,574.9 269.8,558.6 271.0,541.7C272.2,524.8 273.8,510.8 274.8,502.2C275.8,493.6 276.4,488.7 277.2,489.9C278.0,491.1 278.9,494.8 279.7,509.6C280.5,524.4 281.4,557.0 282.2,578.8C283.0,600.6 283.9,622.0 284.6,640.5C285.3,659.0 285.9,676.4 286.5,690.0C287.1,703.6 287.8,713.3 288.5,722.0C289.2,730.7 290.2,738.0 291.0,742.2C291.8,746.4 292.4,746.8 293.5,747.2C294.6,747.6 296.6,744.7 297.7,744.7C298.8,744.7 299.4,742.6 300.3,747.2C301.2,751.8 302.0,764.0 302.8,772.4C303.6,780.8 304.3,790.9 305.3,797.6C306.3,804.3 307.6,811.4 308.7,812.8C309.8,814.2 310.8,807.7 312.0,806.0C313.2,804.3 315.1,804.7 316.2,802.7C317.3,800.8 317.8,797.4 318.7,794.3C319.6,791.2 320.2,786.7 321.3,784.2C322.4,781.7 324.2,780.5 325.5,779.2C326.8,777.9 327.6,777.9 328.8,776.6C330.1,775.3 331.7,773.7 333.0,771.6C334.3,769.5 335.1,764.0 336.4,764.0C337.7,764.0 339.4,771.1 340.6,771.6C341.8,772.1 342.3,770.4 343.8,766.7C345.3,763.0 348.1,752.7 349.5,749.5C350.9,746.3 351.1,746.8 352.4,747.6C353.7,748.4 355.7,754.3 357.1,754.3C358.5,754.3 359.8,750.1 361.0,747.6C362.2,745.1 363.3,739.0 364.4,739.0C365.5,739.0 366.3,743.8 367.6,747.6C368.9,751.4 371.0,759.4 372.4,761.9C373.8,764.4 374.9,763.0 376.2,762.9C377.5,762.8 378.6,759.4 380.0,761.0C381.4,762.6 383.4,770.0 384.8,772.4C386.2,774.8 387.3,774.4 388.6,775.2C389.9,776.0 391.0,775.7 392.4,777.1C393.8,778.5 395.4,782.4 397.1,783.8C398.9,785.2 401.0,785.7 402.9,785.7C404.8,785.7 406.7,785.1 408.6,783.8C410.5,782.5 412.4,779.5 414.3,778.1C416.2,776.7 418.2,775.2 420.0,775.2C421.8,775.2 423.2,776.4 424.8,778.1C426.4,779.9 427.8,783.3 429.5,785.7C431.2,788.1 433.0,790.6 434.9,792.7C436.8,794.8 439.0,797.1 441.1,798.3C443.2,799.5 445.0,799.2 447.3,800.1C449.6,801.0 452.2,803.1 454.7,803.8C457.2,804.5 459.6,803.9 462.1,804.5C464.6,805.1 467.0,806.5 469.5,807.5C472.0,808.5 474.8,809.9 476.9,810.6C478.9,811.3 479.8,811.7 481.8,811.9C483.9,812.1 487.1,812.1 489.2,811.9C491.2,811.7 492.5,810.5 494.1,810.6C495.7,810.7 497.1,811.7 499.0,812.2C500.9,812.7 503.3,813.0 505.2,813.7C507.1,814.4 508.2,814.4 510.1,816.2C512.0,818.1 515.3,823.4 516.3,824.8" fill="none" stroke="#3c3c3c" stroke-width="1.8" stroke-linejoin="round"/>
<path d="M84.4,825.0C89.0,825.0 106.4,825.2 112.0,825.0C117.6,824.8 115.7,824.0 118.0,823.5C120.3,823.0 123.3,822.3 126.0,822.3C128.7,822.3 132.0,823.0 134.0,823.5C136.0,824.0 126.2,824.8 138.0,825.0C149.8,825.2 193.3,825.1 205.0,825.0C216.7,824.9 206.4,825.5 208.4,824.5C210.4,823.5 214.0,820.1 216.8,818.7C219.6,817.3 222.4,817.5 225.2,816.1C228.0,814.7 231.1,812.8 233.6,810.3C236.1,807.8 238.1,804.2 240.3,801.0C242.6,797.8 245.4,791.8 247.1,791.0C248.8,790.2 249.3,795.5 250.4,796.0C251.5,796.5 252.5,799.6 253.8,794.3C255.1,789.0 256.8,772.4 258.0,764.0C259.2,755.6 260.5,752.3 261.3,743.9C262.1,735.5 262.4,724.2 263.0,713.6C263.6,703.0 263.9,695.6 264.7,680.0C265.4,664.4 266.5,638.3 267.5,620.0C268.5,601.7 269.5,584.2 270.5,570.0C271.5,555.8 272.5,543.2 273.5,535.0C274.5,526.8 275.7,520.4 276.7,520.7C277.7,521.0 278.8,525.2 279.7,536.8C280.6,548.3 281.4,572.0 282.2,590.0C283.0,608.0 283.9,628.3 284.6,645.0C285.3,661.7 285.9,675.8 286.5,690.0C287.1,704.2 287.9,718.1 288.5,730.4C289.1,742.7 289.5,756.1 290.2,764.0C290.9,771.9 291.4,774.7 292.7,777.5C293.9,780.3 296.3,779.1 297.7,780.8C299.1,782.5 300.1,784.0 301.1,787.6C302.1,791.2 302.8,797.4 303.6,802.7C304.4,808.0 305.4,816.0 306.1,819.5C306.8,823.0 306.8,823.1 307.8,823.7C308.8,824.3 310.0,823.3 312.0,823.0C314.0,822.7 317.0,822.1 320.0,822.0C323.0,821.9 325.8,822.2 330.0,822.3C334.2,822.4 340.0,822.6 345.0,822.8C350.0,823.0 354.2,823.1 360.0,823.3C365.8,823.5 373.3,823.7 380.0,823.8C386.7,823.9 393.3,823.9 400.0,824.0C406.7,824.1 400.7,824.1 420.0,824.2C439.3,824.3 500.0,824.5 516.0,824.5" fill="none" stroke="#e04450" stroke-width="1.7" stroke-linejoin="round"/>
<path d="M84.4,825.0C88.8,825.0 106.2,825.1 111.0,825.0C115.8,824.9 112.0,827.0 113.5,824.2C115.0,821.5 118.4,814.9 120.2,808.5C122.0,802.1 122.8,794.0 124.1,786.0C125.4,778.0 127.1,764.9 128.0,760.3C128.9,755.7 128.8,757.7 129.4,758.6C130.0,759.5 130.7,760.2 131.4,765.9C132.1,771.6 132.8,784.6 133.6,792.8C134.3,801.0 135.3,810.0 135.9,815.2C136.5,820.4 136.5,822.6 137.0,824.2C137.5,825.8 127.7,824.9 139.0,825.0C150.3,825.1 193.7,825.1 205.0,825.0C216.3,824.9 205.4,829.6 206.7,824.5C208.0,819.4 210.8,801.8 212.6,794.3C214.4,786.8 216.1,780.1 217.6,779.2C219.1,778.4 220.4,785.9 221.8,789.2C223.2,792.6 224.6,799.6 226.0,799.3C227.4,799.0 228.8,791.5 230.3,787.6C231.8,783.7 233.4,776.7 234.8,776.1C236.2,775.5 237.5,781.9 238.7,784.2C239.8,786.5 240.6,790.4 241.7,790.1C242.8,789.8 243.8,781.8 245.0,782.5C246.2,783.2 247.5,789.0 248.7,794.3C249.9,799.6 251.0,810.2 252.1,814.5C253.2,818.8 253.8,819.6 255.5,820.3C257.2,821.0 260.0,819.2 262.2,818.7C264.4,818.2 266.9,818.0 268.9,817.0C270.8,816.0 272.2,813.4 273.9,812.8C275.6,812.2 277.5,813.8 279.0,813.6C280.5,813.4 281.8,811.9 283.0,811.5C284.2,811.1 284.8,810.8 286.0,811.1C287.2,811.5 288.7,814.3 290.2,813.6C291.7,812.9 293.5,808.4 295.2,806.9C296.9,805.4 298.9,803.4 300.3,804.4C301.7,805.4 302.5,809.7 303.6,812.8C304.7,815.9 305.9,821.8 307.0,822.9C308.1,824.0 309.1,820.9 310.3,819.5C311.6,818.1 313.1,817.6 314.5,814.5C315.9,811.4 317.6,804.1 318.7,801.0C319.8,797.9 320.4,796.0 321.3,796.0C322.2,796.0 323.0,802.1 323.8,801.0C324.6,799.9 325.3,792.6 326.3,789.2C327.3,785.8 328.7,781.1 329.7,780.8C330.7,780.5 331.4,788.7 332.5,787.6C333.6,786.5 335.2,775.2 336.4,774.1C337.6,773.0 338.6,777.9 339.7,780.8C340.8,783.7 341.9,792.5 342.9,791.4C343.9,790.3 344.6,781.0 345.7,774.3C346.8,767.6 348.1,756.8 349.5,751.4C350.9,746.0 353.0,747.6 354.3,741.9C355.6,736.2 356.2,725.2 357.1,717.1C358.1,709.0 359.0,693.3 360.0,693.3C361.0,693.3 361.9,706.8 362.9,717.1C363.8,727.4 364.8,748.2 365.7,755.2C366.6,762.2 367.5,760.6 368.6,759.0C369.7,757.4 370.8,751.2 372.4,745.7C374.0,740.2 376.5,727.6 378.1,725.7C379.7,723.8 380.7,730.0 381.9,734.3C383.1,738.6 384.2,751.1 385.1,751.4C386.1,751.7 386.8,742.1 387.6,736.2C388.4,730.3 389.1,716.2 389.9,716.2C390.7,716.2 391.5,726.8 392.4,736.2C393.3,745.6 394.1,764.8 395.2,772.4C396.3,780.0 397.6,779.4 399.0,781.9C400.4,784.4 402.2,787.0 403.8,787.6C405.4,788.2 406.7,785.4 408.6,785.7C410.5,786.0 413.3,791.4 415.2,789.5C417.1,787.6 418.4,781.0 420.0,774.3C421.6,767.6 423.4,750.8 424.8,749.5C426.2,748.2 427.5,761.3 428.6,766.7C429.7,772.1 430.3,780.6 431.4,781.9C432.4,783.2 433.9,774.3 434.9,774.3C435.9,774.3 436.5,778.4 437.4,781.7C438.3,785.0 439.4,792.0 440.5,794.0C441.6,796.0 442.9,793.1 444.2,793.4C445.5,793.7 446.9,795.6 448.5,795.8C450.1,796.0 452.4,793.4 454.0,794.6C455.6,795.8 457.0,801.7 458.4,803.2C459.8,804.7 460.8,804.0 462.1,803.8C463.4,803.6 464.5,802.3 466.4,802.0C468.2,801.7 471.4,801.3 473.2,802.0C474.9,802.7 475.7,804.8 476.9,806.3C478.1,807.8 479.6,810.3 480.6,811.2C481.6,812.1 481.9,812.9 483.0,811.9C484.1,810.9 485.7,806.9 487.3,805.1C488.9,803.4 491.2,801.4 492.9,801.4C494.5,801.4 495.7,804.7 497.2,805.1C498.7,805.5 500.6,802.8 502.1,803.8C503.6,804.8 504.8,808.9 506.4,811.2C507.9,813.5 509.8,815.1 511.4,817.4C513.0,819.7 515.5,823.6 516.3,824.8" fill="none" stroke="#3f7cc4" stroke-width="1.8" stroke-linejoin="round"/>
<rect x="85.0" y="476.90000000000003" width="432.1" height="348.1" fill="none" stroke="#111" stroke-width="1.7"/>
<line x1="337" y1="493.6" x2="378" y2="493.6" stroke="#444" stroke-width="1.6"/>
<line x1="337" y1="520.1" x2="378" y2="520.1" stroke="#e0505a" stroke-width="1.6"/>
<line x1="337" y1="547.6" x2="378" y2="547.6" stroke="#3a78c0" stroke-width="1.6"/>
<text x="384" y="502" font-size="19.3" font-weight="bold" font-family="'Liberation Serif','Times New Roman',serif">NiSe/Ni<tspan font-size="12.5" dy="4">3</tspan><tspan dy="-4">Se</tspan><tspan font-size="12" dy="4">2</tspan></text>
<text x="384" y="528.5" font-size="19.3" font-weight="bold" font-family="'Liberation Serif','Times New Roman',serif">Ni<tspan font-size="12.5" dy="4">3</tspan><tspan dy="-4">Se</tspan><tspan font-size="12" dy="4">2</tspan></text>
<text x="384" y="556" font-size="19.3" font-weight="bold" font-family="'Liberation Serif','Times New Roman',serif">NiSe</text>
<text x="565.5" y="483.6" font-size="53.5" font-weight="bold" font-family="'Liberation Serif','Times New Roman',serif" text-anchor="start" >d</text>
<defs><filter id="soft" x="-5%" y="-5%" width="110%" height="110%"><feGaussianBlur stdDeviation="0.45"/></filter></defs>
<text x="627.8" y="511.9" font-size="22.6" font-family="'Liberation Sans',Arial,sans-serif" text-anchor="end">0.0</text>
<line x1="633" y1="505.0" x2="640" y2="505.0" stroke="#111" stroke-width="2"/>
<text x="627.8" y="610.4" font-size="22.6" font-family="'Liberation Sans',Arial,sans-serif" text-anchor="end">-0.2</text>
<line x1="633" y1="603.5" x2="640" y2="603.5" stroke="#111" stroke-width="2"/>
<text x="627.8" y="708.9" font-size="22.6" font-family="'Liberation Sans',Arial,sans-serif" text-anchor="end">-0.4</text>
<line x1="633" y1="702.0" x2="640" y2="702.0" stroke="#111" stroke-width="2"/>
<text x="627.8" y="807.4" font-size="22.6" font-family="'Liberation Sans',Arial,sans-serif" text-anchor="end">-0.6</text>
<line x1="633" y1="800.5" x2="640" y2="800.5" stroke="#111" stroke-width="2"/>
<line x1="636" y1="554.2" x2="640" y2="554.2" stroke="#111" stroke-width="2"/>
<line x1="636" y1="652.8" x2="640" y2="652.8" stroke="#111" stroke-width="2"/>
<line x1="636" y1="751.2" x2="640" y2="751.2" stroke="#111" stroke-width="2"/>
<text transform="translate(564.6,704.3) rotate(-90)" font-size="29.5" font-family="'Liberation Sans',Arial,sans-serif">Δ<tspan font-style="italic">G</tspan><tspan font-size="19" dy="6">H*</tspan><tspan dy="-6" dx="4">(eV)</tspan></text>
<text x="854" y="861.3" font-size="29.5" font-family="'Liberation Sans',Arial,sans-serif" text-anchor="middle">Reaction Coordination</text>
<line x1="672" y1="505" x2="772" y2="505" stroke="#000" stroke-width="3"/>
<line x1="935" y1="505" x2="1035" y2="505" stroke="#000" stroke-width="3"/>
<line x1="772" y1="505" x2="935" y2="505" stroke="#333" stroke-width="1.3" stroke-dasharray="6,3,1.5,3"/>
<line x1="803" y1="594.5" x2="828" y2="594.5" stroke="#e8434a" stroke-width="3"/>
<line x1="891.5" y1="594.5" x2="903" y2="594.5" stroke="#e8434a" stroke-width="3"/>
<polyline points="772,506 803,594.5" fill="none" stroke="#e8434a" stroke-width="2" stroke-dasharray="6,4"/>
<polyline points="903,594.5 935,506" fill="none" stroke="#e8434a" stroke-width="2" stroke-dasharray="6,4"/>
<line x1="804" y1="700.2" x2="903" y2="700.2" stroke="#2a8a5a" stroke-width="3"/>
<polyline points="772,506 804,700" fill="none" stroke="#2a8a5a" stroke-width="2" stroke-dasharray="6,4"/>
<polyline points="903,700 935,506" fill="none" stroke="#2a8a5a" stroke-width="2" stroke-dasharray="6,4"/>
<line x1="803" y1="788" x2="903.6" y2="788" stroke="#3a55b0" stroke-width="3"/>
<polyline points="771,506 803,788" fill="none" stroke="#3a55b0" stroke-width="2" stroke-dasharray="6,4"/>
<polyline points="903.6,788 935,506" fill="none" stroke="#3a55b0" stroke-width="2" stroke-dasharray="6,4"/>
<line x1="761" y1="578" x2="799.5" y2="578" stroke="#4a80b8" stroke-width="2.2"/>
<line x1="932" y1="578" x2="970" y2="578" stroke="#4a80b8" stroke-width="2.2"/>
<line x1="764.5" y1="665.7" x2="804.5" y2="665.7" stroke="#4a80b8" stroke-width="2.2"/>
<line x1="929" y1="665.7" x2="969" y2="665.7" stroke="#4a80b8" stroke-width="2.2"/>
<line x1="762" y1="757" x2="803" y2="757" stroke="#4a80b8" stroke-width="2.2"/>
<line x1="930" y1="757" x2="970" y2="757" stroke="#4a80b8" stroke-width="2.2"/>
<text x="685.5" y="532.5" font-size="21.5" font-family="'Liberation Sans',Arial,sans-serif">H<tspan font-size="14" dy="-8.5">+</tspan><tspan dy="8.5"> + e</tspan><tspan font-size="14" dy="-8.5">-</tspan></text>
<text x="966" y="534.3" font-size="21.5" font-family="'Liberation Sans',Arial,sans-serif">1/2H<tspan font-size="15.5" dy="6">2</tspan></text>
<text x="795" y="543.3" font-size="22" font-family="'Liberation Sans',Arial,sans-serif">NiSe/Ni<tspan font-size="15.5" dy="6.3">3</tspan><tspan dy="-6.3">Se</tspan><tspan font-size="15.5" dy="6.3">2</tspan></text>
<text x="858.9" y="686.4" font-size="22" font-family="'Liberation Sans',Arial,sans-serif" text-anchor="middle">NiSe</text>
<text x="823.6" y="774" font-size="22" font-family="'Liberation Sans',Arial,sans-serif">Ni<tspan font-size="15.5" dy="6.3">3</tspan><tspan dy="-6.3">Se</tspan><tspan font-size="15.5" dy="6.3">2</tspan></text>
<text x="860.8" y="813.8" font-size="22" font-family="'Liberation Sans',Arial,sans-serif" text-anchor="middle">H*</text>
<circle cx="669.1" cy="697.2" r="4" fill="#f4f4f4" stroke="#8a8a8a" stroke-width="2.2"/>
<circle cx="667.6" cy="719.8" r="4" fill="#a6dc70" stroke="#5c9e34" stroke-width="2"/>
<circle cx="667.5" cy="741.1" r="2.4" fill="#c8c8c8"/>
<text x="685.9" y="704.1" font-size="14.4" font-weight="bold" font-family="'Liberation Serif','Times New Roman',serif">Ni</text>
<text x="685.9" y="725.4" font-size="14.4" font-weight="bold" font-family="'Liberation Serif','Times New Roman',serif">Se</text>
<text x="687.5" y="745.6" font-size="14.4" font-weight="bold" font-family="'Liberation Serif','Times New Roman',serif">H</text>
<g filter="url(#soft)">
<polyline points="686.5,553.6 691.8,558.4 697.0,554.6 702.3,557.4 707.5,554.2 712.8,557.7 718.0,554.4 723.3,558.3 728.6,553.6 733.8,557.0 739.1,554.7 744.3,557.7 749.6,554.6" fill="none" stroke="#9fd065" stroke-width="2.6" stroke-linejoin="round" opacity="0.9"/>
<polyline points="686.5,567.7 691.8,572.0 697.0,568.8 702.3,571.6 707.5,569.2 712.8,572.7 718.0,567.7 723.3,571.3 728.6,568.5 733.8,572.8 739.1,568.3 744.3,571.6 749.6,568.3" fill="none" stroke="#9fd065" stroke-width="2.6" stroke-linejoin="round" opacity="0.9"/>
<polyline points="686.5,581.9 691.8,585.9 697.0,582.6 702.3,586.3 707.5,582.3 712.8,585.9 718.0,582.3 723.3,586.2 728.6,582.4 733.8,585.5 739.1,583.2 744.3,586.4 749.6,582.9" fill="none" stroke="#9fd065" stroke-width="2.6" stroke-linejoin="round" opacity="0.9"/>
<polyline points="686.5,596.4 691.8,601.3 697.0,597.5 702.3,599.9 707.5,596.7 712.8,600.9 718.0,597.3 723.3,601.2 728.6,596.8 733.8,601.1 739.1,597.2 744.3,600.2 749.6,597.1" fill="none" stroke="#9fd065" stroke-width="2.6" stroke-linejoin="round" opacity="0.9"/>
<polyline points="686.5,611.8 691.8,615.4 697.0,611.2 702.3,614.9 707.5,610.5 712.8,614.4 718.0,611.7 723.3,614.7 728.6,610.7 733.8,614.9 739.1,611.5 744.3,615.1 749.6,611.0" fill="none" stroke="#9fd065" stroke-width="2.6" stroke-linejoin="round" opacity="0.9"/>
<line x1="688.3" y1="556.0" x2="688.4" y2="570.2" stroke="#a8d67a" stroke-width="1.4" opacity="0.85"/>
<line x1="695.9" y1="556.0" x2="696.2" y2="570.2" stroke="#a8d67a" stroke-width="1.4" opacity="0.85"/>
<line x1="701.3" y1="556.0" x2="701.2" y2="570.2" stroke="#a8d67a" stroke-width="1.4" opacity="0.85"/>
<line x1="706.8" y1="556.0" x2="701.3" y2="570.2" stroke="#a8d67a" stroke-width="1.4" opacity="0.85"/>
<line x1="715.4" y1="556.0" x2="721.2" y2="570.2" stroke="#a8d67a" stroke-width="1.4" opacity="0.85"/>
<line x1="721.6" y1="556.0" x2="720.3" y2="570.2" stroke="#a8d67a" stroke-width="1.4" opacity="0.85"/>
<line x1="726.9" y1="556.0" x2="726.9" y2="570.2" stroke="#a8d67a" stroke-width="1.4" opacity="0.85"/>
<line x1="735.9" y1="556.0" x2="739.2" y2="570.2" stroke="#a8d67a" stroke-width="1.4" opacity="0.85"/>
<line x1="741.2" y1="556.0" x2="745.5" y2="570.2" stroke="#a8d67a" stroke-width="1.4" opacity="0.85"/>
<line x1="746.8" y1="556.0" x2="747.0" y2="570.2" stroke="#a8d67a" stroke-width="1.4" opacity="0.85"/>
<line x1="689.9" y1="570.2" x2="690.8" y2="584.5" stroke="#a8d67a" stroke-width="1.4" opacity="0.85"/>
<line x1="694.9" y1="570.2" x2="692.2" y2="584.5" stroke="#a8d67a" stroke-width="1.4" opacity="0.85"/>
<line x1="701.8" y1="570.2" x2="707.3" y2="584.5" stroke="#a8d67a" stroke-width="1.4" opacity="0.85"/>
<line x1="706.7" y1="570.2" x2="710.1" y2="584.5" stroke="#a8d67a" stroke-width="1.4" opacity="0.85"/>
<line x1="715.7" y1="570.2" x2="720.4" y2="584.5" stroke="#a8d67a" stroke-width="1.4" opacity="0.85"/>
<line x1="722.1" y1="570.2" x2="725.8" y2="584.5" stroke="#a8d67a" stroke-width="1.4" opacity="0.85"/>
<line x1="728.0" y1="570.2" x2="728.7" y2="584.5" stroke="#a8d67a" stroke-width="1.4" opacity="0.85"/>
<line x1="734.2" y1="570.2" x2="728.9" y2="584.5" stroke="#a8d67a" stroke-width="1.4" opacity="0.85"/>
<line x1="742.1" y1="570.2" x2="743.0" y2="584.5" stroke="#a8d67a" stroke-width="1.4" opacity="0.85"/>
<line x1="746.7" y1="570.2" x2="746.8" y2="584.5" stroke="#a8d67a" stroke-width="1.4" opacity="0.85"/>
<line x1="688.5" y1="584.5" x2="686.7" y2="598.8" stroke="#a8d67a" stroke-width="1.4" opacity="0.85"/>
<line x1="694.6" y1="584.5" x2="695.1" y2="598.8" stroke="#a8d67a" stroke-width="1.4" opacity="0.85"/>
<line x1="702.0" y1="584.5" x2="703.4" y2="598.8" stroke="#a8d67a" stroke-width="1.4" opacity="0.85"/>
<line x1="708.1" y1="584.5" x2="702.4" y2="598.8" stroke="#a8d67a" stroke-width="1.4" opacity="0.85"/>
<line x1="714.0" y1="584.5" x2="710.1" y2="598.8" stroke="#a8d67a" stroke-width="1.4" opacity="0.85"/>
<line x1="721.6" y1="584.5" x2="725.9" y2="598.8" stroke="#a8d67a" stroke-width="1.4" opacity="0.85"/>
<line x1="728.8" y1="584.5" x2="732.4" y2="598.8" stroke="#a8d67a" stroke-width="1.4" opacity="0.85"/>
<line x1="735.4" y1="584.5" x2="732.5" y2="598.8" stroke="#a8d67a" stroke-width="1.4" opacity="0.85"/>
<line x1="742.1" y1="584.5" x2="744.1" y2="598.8" stroke="#a8d67a" stroke-width="1.4" opacity="0.85"/>
<line x1="746.3" y1="584.5" x2="740.5" y2="598.8" stroke="#a8d67a" stroke-width="1.4" opacity="0.85"/>
<line x1="687.0" y1="598.8" x2="690.1" y2="613.0" stroke="#a8d67a" stroke-width="1.4" opacity="0.85"/>
<line x1="694.3" y1="598.8" x2="689.6" y2="613.0" stroke="#a8d67a" stroke-width="1.4" opacity="0.85"/>
<line x1="702.0" y1="598.8" x2="700.1" y2="613.0" stroke="#a8d67a" stroke-width="1.4" opacity="0.85"/>
<line x1="706.9" y1="598.8" x2="702.8" y2="613.0" stroke="#a8d67a" stroke-width="1.4" opacity="0.85"/>
<line x1="714.8" y1="598.8" x2="710.9" y2="613.0" stroke="#a8d67a" stroke-width="1.4" opacity="0.85"/>
<line x1="720.7" y1="598.8" x2="723.2" y2="613.0" stroke="#a8d67a" stroke-width="1.4" opacity="0.85"/>
<line x1="727.8" y1="598.8" x2="725.6" y2="613.0" stroke="#a8d67a" stroke-width="1.4" opacity="0.85"/>
<line x1="734.4" y1="598.8" x2="728.7" y2="613.0" stroke="#a8d67a" stroke-width="1.4" opacity="0.85"/>
<line x1="740.7" y1="598.8" x2="739.7" y2="613.0" stroke="#a8d67a" stroke-width="1.4" opacity="0.85"/>
<line x1="746.7" y1="598.8" x2="742.0" y2="613.0" stroke="#a8d67a" stroke-width="1.4" opacity="0.85"/>
<circle cx="689.5" cy="554.5" r="2.4" fill="#d4d4e2" stroke="#8c8ca4" stroke-width="1"/>
<circle cx="699.8" cy="553.6" r="2.4" fill="#d4d4e2" stroke="#8c8ca4" stroke-width="1"/>
<circle cx="726.8" cy="557.0" r="2.4" fill="#d4d4e2" stroke="#8c8ca4" stroke-width="1"/>
<circle cx="737.2" cy="554.6" r="2.4" fill="#d4d4e2" stroke="#8c8ca4" stroke-width="1"/>
<circle cx="747.3" cy="556.1" r="2.4" fill="#d4d4e2" stroke="#8c8ca4" stroke-width="1"/>
<circle cx="689.9" cy="569.7" r="2.4" fill="#d4d4e2" stroke="#8c8ca4" stroke-width="1"/>
<circle cx="698.6" cy="570.9" r="2.4" fill="#d4d4e2" stroke="#8c8ca4" stroke-width="1"/>
<circle cx="719.2" cy="572.1" r="2.4" fill="#d4d4e2" stroke="#8c8ca4" stroke-width="1"/>
<circle cx="728.4" cy="569.3" r="2.4" fill="#d4d4e2" stroke="#8c8ca4" stroke-width="1"/>
<circle cx="737.7" cy="569.8" r="2.4" fill="#d4d4e2" stroke="#8c8ca4" stroke-width="1"/>
<circle cx="745.4" cy="572.1" r="2.4" fill="#d4d4e2" stroke="#8c8ca4" stroke-width="1"/>
<circle cx="700.1" cy="584.9" r="2.4" fill="#d4d4e2" stroke="#8c8ca4" stroke-width="1"/>
<circle cx="719.2" cy="585.5" r="2.4" fill="#d4d4e2" stroke="#8c8ca4" stroke-width="1"/>
<circle cx="727.3" cy="583.7" r="2.4" fill="#d4d4e2" stroke="#8c8ca4" stroke-width="1"/>
<circle cx="737.5" cy="584.2" r="2.4" fill="#d4d4e2" stroke="#8c8ca4" stroke-width="1"/>
<circle cx="698.5" cy="598.7" r="2.4" fill="#d4d4e2" stroke="#8c8ca4" stroke-width="1"/>
<circle cx="709.4" cy="600.7" r="2.4" fill="#d4d4e2" stroke="#8c8ca4" stroke-width="1"/>
<circle cx="727.2" cy="601.2" r="2.4" fill="#d4d4e2" stroke="#8c8ca4" stroke-width="1"/>
<circle cx="736.7" cy="597.3" r="2.4" fill="#d4d4e2" stroke="#8c8ca4" stroke-width="1"/>
<circle cx="747.4" cy="600.9" r="2.4" fill="#d4d4e2" stroke="#8c8ca4" stroke-width="1"/>
<circle cx="690.4" cy="613.9" r="2.4" fill="#d4d4e2" stroke="#8c8ca4" stroke-width="1"/>
<circle cx="700.2" cy="611.7" r="2.4" fill="#d4d4e2" stroke="#8c8ca4" stroke-width="1"/>
<circle cx="707.5" cy="611.3" r="2.4" fill="#d4d4e2" stroke="#8c8ca4" stroke-width="1"/>
<circle cx="717.4" cy="614.3" r="2.4" fill="#d4d4e2" stroke="#8c8ca4" stroke-width="1"/>
<circle cx="728.4" cy="612.3" r="2.4" fill="#d4d4e2" stroke="#8c8ca4" stroke-width="1"/>
<circle cx="736.6" cy="614.8" r="2.4" fill="#d4d4e2" stroke="#8c8ca4" stroke-width="1"/>
<circle cx="747.7" cy="614.9" r="2.4" fill="#d4d4e2" stroke="#8c8ca4" stroke-width="1"/>
</g>
<g filter="url(#soft)">
<polyline points="971.4,553.9 976.5,557.5 981.6,552.5 986.6,556.1 991.7,553.7 996.8,557.2 1001.9,553.5 1006.9,556.5 1012.0,553.4 1017.1,557.0 1022.2,553.3 1027.2,556.3 1032.3,553.1 1037.4,556.6" fill="none" stroke="#9fd065" stroke-width="2.6" stroke-linejoin="round" opacity="0.9"/>
<polyline points="971.4,568.3 976.5,572.3 981.6,568.7 986.6,571.6 991.7,567.9 996.8,571.2 1001.9,567.2 1006.9,570.8 1012.0,567.9 1017.1,571.3 1022.2,567.8 1027.2,572.2 1032.3,568.0 1037.4,571.6" fill="none" stroke="#9fd065" stroke-width="2.6" stroke-linejoin="round" opacity="0.9"/>
<polyline points="971.4,582.3 976.5,585.5 981.6,582.4 986.6,585.7 991.7,582.7 996.8,587.1 1001.9,583.0 1006.9,585.8 1012.0,583.3 1017.1,586.8 1022.2,583.1 1027.2,587.0 1032.3,583.1 1037.4,586.8" fill="none" stroke="#9fd065" stroke-width="2.6" stroke-linejoin="round" opacity="0.9"/>
<polyline points="971.4,597.2 976.5,601.8 981.6,598.2 986.6,600.5 991.7,597.9 996.8,601.4 1001.9,597.4 1006.9,601.1 1012.0,597.4 1017.1,601.7 1022.2,597.5 1027.2,601.6 1032.3,597.2 1037.4,601.7" fill="none" stroke="#9fd065" stroke-width="2.6" stroke-linejoin="round" opacity="0.9"/>
<polyline points="971.4,612.8 976.5,615.7 981.6,612.3 986.6,616.5 991.7,612.6 996.8,615.8 1001.9,611.8 1006.9,615.5 1012.0,612.5 1017.1,615.3 1022.2,612.9 1027.2,615.4 1032.3,612.9 1037.4,615.5" fill="none" stroke="#9fd065" stroke-width="2.6" stroke-linejoin="round" opacity="0.9"/>
<line x1="974.8" y1="555.0" x2="977.2" y2="569.8" stroke="#a8d67a" stroke-width="1.4" opacity="0.85"/>
<line x1="979.6" y1="555.0" x2="979.8" y2="569.8" stroke="#a8d67a" stroke-width="1.4" opacity="0.85"/>
<line x1="986.3" y1="555.0" x2="987.3" y2="569.8" stroke="#a8d67a" stroke-width="1.4" opacity="0.85"/>
<line x1="991.4" y1="555.0" x2="987.9" y2="569.8" stroke="#a8d67a" stroke-width="1.4" opacity="0.85"/>
<line x1="998.2" y1="555.0" x2="1003.4" y2="569.8" stroke="#a8d67a" stroke-width="1.4" opacity="0.85"/>
<line x1="1004.8" y1="555.0" x2="999.7" y2="569.8" stroke="#a8d67a" stroke-width="1.4" opacity="0.85"/>
<line x1="1011.6" y1="555.0" x2="1014.3" y2="569.8" stroke="#a8d67a" stroke-width="1.4" opacity="0.85"/>
<line x1="1018.0" y1="555.0" x2="1014.3" y2="569.8" stroke="#a8d67a" stroke-width="1.4" opacity="0.85"/>
<line x1="1023.7" y1="555.0" x2="1018.4" y2="569.8" stroke="#a8d67a" stroke-width="1.4" opacity="0.85"/>
<line x1="1029.7" y1="555.0" x2="1026.9" y2="569.8" stroke="#a8d67a" stroke-width="1.4" opacity="0.85"/>
<line x1="1034.6" y1="555.0" x2="1039.1" y2="569.8" stroke="#a8d67a" stroke-width="1.4" opacity="0.85"/>
<line x1="972.2" y1="569.8" x2="972.5" y2="584.5" stroke="#a8d67a" stroke-width="1.4" opacity="0.85"/>
<line x1="980.7" y1="569.8" x2="977.6" y2="584.5" stroke="#a8d67a" stroke-width="1.4" opacity="0.85"/>
<line x1="984.9" y1="569.8" x2="989.5" y2="584.5" stroke="#a8d67a" stroke-width="1.4" opacity="0.85"/>
<line x1="991.8" y1="569.8" x2="994.4" y2="584.5" stroke="#a8d67a" stroke-width="1.4" opacity="0.85"/>
<line x1="996.8" y1="569.8" x2="995.1" y2="584.5" stroke="#a8d67a" stroke-width="1.4" opacity="0.85"/>
<line x1="1003.4" y1="569.8" x2="1005.5" y2="584.5" stroke="#a8d67a" stroke-width="1.4" opacity="0.85"/>
<line x1="1009.3" y1="569.8" x2="1014.8" y2="584.5" stroke="#a8d67a" stroke-width="1.4" opacity="0.85"/>
<line x1="1015.4" y1="569.8" x2="1018.1" y2="584.5" stroke="#a8d67a" stroke-width="1.4" opacity="0.85"/>
<line x1="1021.6" y1="569.8" x2="1018.6" y2="584.5" stroke="#a8d67a" stroke-width="1.4" opacity="0.85"/>
<line x1="1030.1" y1="569.8" x2="1026.0" y2="584.5" stroke="#a8d67a" stroke-width="1.4" opacity="0.85"/>
<line x1="1034.5" y1="569.8" x2="1036.7" y2="584.5" stroke="#a8d67a" stroke-width="1.4" opacity="0.85"/>
<line x1="973.1" y1="584.5" x2="967.6" y2="599.2" stroke="#a8d67a" stroke-width="1.4" opacity="0.85"/>
<line x1="981.1" y1="584.5" x2="976.9" y2="599.2" stroke="#a8d67a" stroke-width="1.4" opacity="0.85"/>
<line x1="984.4" y1="584.5" x2="982.5" y2="599.2" stroke="#a8d67a" stroke-width="1.4" opacity="0.85"/>
<line x1="992.3" y1="584.5" x2="995.3" y2="599.2" stroke="#a8d67a" stroke-width="1.4" opacity="0.85"/>
<line x1="997.0" y1="584.5" x2="995.1" y2="599.2" stroke="#a8d67a" stroke-width="1.4" opacity="0.85"/>
<line x1="1003.0" y1="584.5" x2="1002.4" y2="599.2" stroke="#a8d67a" stroke-width="1.4" opacity="0.85"/>
<line x1="1011.4" y1="584.5" x2="1014.3" y2="599.2" stroke="#a8d67a" stroke-width="1.4" opacity="0.85"/>
<line x1="1018.0" y1="584.5" x2="1021.1" y2="599.2" stroke="#a8d67a" stroke-width="1.4" opacity="0.85"/>
<line x1="1024.1" y1="584.5" x2="1026.6" y2="599.2" stroke="#a8d67a" stroke-width="1.4" opacity="0.85"/>
<line x1="1029.1" y1="584.5" x2="1025.8" y2="599.2" stroke="#a8d67a" stroke-width="1.4" opacity="0.85"/>
<line x1="1035.9" y1="584.5" x2="1033.7" y2="599.2" stroke="#a8d67a" stroke-width="1.4" opacity="0.85"/>
<line x1="972.2" y1="599.2" x2="971.6" y2="614.0" stroke="#a8d67a" stroke-width="1.4" opacity="0.85"/>
<line x1="980.7" y1="599.2" x2="976.3" y2="614.0" stroke="#a8d67a" stroke-width="1.4" opacity="0.85"/>
<line x1="986.1" y1="599.2" x2="984.8" y2="614.0" stroke="#a8d67a" stroke-width="1.4" opacity="0.85"/>
<line x1="992.0" y1="599.2" x2="987.8" y2="614.0" stroke="#a8d67a" stroke-width="1.4" opacity="0.85"/>
<line x1="999.6" y1="599.2" x2="996.7" y2="614.0" stroke="#a8d67a" stroke-width="1.4" opacity="0.85"/>
<line x1="1004.7" y1="599.2" x2="1003.8" y2="614.0" stroke="#a8d67a" stroke-width="1.4" opacity="0.85"/>
<line x1="1009.2" y1="599.2" x2="1009.8" y2="614.0" stroke="#a8d67a" stroke-width="1.4" opacity="0.85"/>
<line x1="1015.7" y1="599.2" x2="1010.4" y2="614.0" stroke="#a8d67a" stroke-width="1.4" opacity="0.85"/>
<line x1="1021.6" y1="599.2" x2="1017.5" y2="614.0" stroke="#a8d67a" stroke-width="1.4" opacity="0.85"/>
<line x1="1028.0" y1="599.2" x2="1029.6" y2="614.0" stroke="#a8d67a" stroke-width="1.4" opacity="0.85"/>
<line x1="1035.4" y1="599.2" x2="1041.2" y2="614.0" stroke="#a8d67a" stroke-width="1.4" opacity="0.85"/>
<circle cx="975.6" cy="553.7" r="2.4" fill="#d4d4e2" stroke="#8c8ca4" stroke-width="1"/>
<circle cx="983.8" cy="555.5" r="2.4" fill="#d4d4e2" stroke="#8c8ca4" stroke-width="1"/>
<circle cx="995.1" cy="556.0" r="2.4" fill="#d4d4e2" stroke="#8c8ca4" stroke-width="1"/>
<circle cx="1004.2" cy="555.1" r="2.4" fill="#d4d4e2" stroke="#8c8ca4" stroke-width="1"/>
<circle cx="1033.5" cy="556.1" r="2.4" fill="#d4d4e2" stroke="#8c8ca4" stroke-width="1"/>
<circle cx="973.4" cy="568.2" r="2.4" fill="#d4d4e2" stroke="#8c8ca4" stroke-width="1"/>
<circle cx="983.7" cy="569.9" r="2.4" fill="#d4d4e2" stroke="#8c8ca4" stroke-width="1"/>
<circle cx="993.9" cy="570.5" r="2.4" fill="#d4d4e2" stroke="#8c8ca4" stroke-width="1"/>
<circle cx="1005.4" cy="572.1" r="2.4" fill="#d4d4e2" stroke="#8c8ca4" stroke-width="1"/>
<circle cx="1014.2" cy="569.8" r="2.4" fill="#d4d4e2" stroke="#8c8ca4" stroke-width="1"/>
<circle cx="1023.3" cy="569.3" r="2.4" fill="#d4d4e2" stroke="#8c8ca4" stroke-width="1"/>
<circle cx="1033.6" cy="567.7" r="2.4" fill="#d4d4e2" stroke="#8c8ca4" stroke-width="1"/>
<circle cx="974.1" cy="584.6" r="2.4" fill="#d4d4e2" stroke="#8c8ca4" stroke-width="1"/>
<circle cx="984.7" cy="583.4" r="2.4" fill="#d4d4e2" stroke="#8c8ca4" stroke-width="1"/>
<circle cx="994.1" cy="582.1" r="2.4" fill="#d4d4e2" stroke="#8c8ca4" stroke-width="1"/>
<circle cx="1003.4" cy="583.5" r="2.4" fill="#d4d4e2" stroke="#8c8ca4" stroke-width="1"/>
<circle cx="1014.8" cy="582.1" r="2.4" fill="#d4d4e2" stroke="#8c8ca4" stroke-width="1"/>
<circle cx="1024.2" cy="584.4" r="2.4" fill="#d4d4e2" stroke="#8c8ca4" stroke-width="1"/>
<circle cx="1034.6" cy="582.4" r="2.4" fill="#d4d4e2" stroke="#8c8ca4" stroke-width="1"/>
<circle cx="974.1" cy="601.4" r="2.4" fill="#d4d4e2" stroke="#8c8ca4" stroke-width="1"/>
<circle cx="993.7" cy="599.6" r="2.4" fill="#d4d4e2" stroke="#8c8ca4" stroke-width="1"/>
<circle cx="1004.3" cy="600.5" r="2.4" fill="#d4d4e2" stroke="#8c8ca4" stroke-width="1"/>
<circle cx="1013.5" cy="597.4" r="2.4" fill="#d4d4e2" stroke="#8c8ca4" stroke-width="1"/>
<circle cx="1034.7" cy="601.5" r="2.4" fill="#d4d4e2" stroke="#8c8ca4" stroke-width="1"/>
<circle cx="973.3" cy="614.8" r="2.4" fill="#d4d4e2" stroke="#8c8ca4" stroke-width="1"/>
<circle cx="984.9" cy="614.0" r="2.4" fill="#d4d4e2" stroke="#8c8ca4" stroke-width="1"/>
<circle cx="994.3" cy="615.5" r="2.4" fill="#d4d4e2" stroke="#8c8ca4" stroke-width="1"/>
<circle cx="1004.5" cy="613.9" r="2.4" fill="#d4d4e2" stroke="#8c8ca4" stroke-width="1"/>
<circle cx="1015.1" cy="616.2" r="2.4" fill="#d4d4e2" stroke="#8c8ca4" stroke-width="1"/>
<circle cx="1023.9" cy="612.7" r="2.4" fill="#d4d4e2" stroke="#8c8ca4" stroke-width="1"/>
<circle cx="1033.8" cy="613.6" r="2.4" fill="#d4d4e2" stroke="#8c8ca4" stroke-width="1"/>
</g>
<line x1="998" y1="546" x2="1006" y2="546" stroke="#d8a8b8" stroke-width="1.2"/>
<circle cx="998" cy="546" r="2.2" fill="#f4e4ea" stroke="#c89aaa" stroke-width="0.8"/>
<circle cx="1006" cy="546" r="2.2" fill="#f4e4ea" stroke="#c89aaa" stroke-width="0.8"/>
<g filter="url(#soft)">
<polyline points="831.5,560.8 836.5,564.9 841.6,561.0 846.6,565.0 851.7,561.4 856.7,564.1 861.8,560.4 866.8,565.3 871.9,560.8 876.9,564.4 882.0,562.0 887.0,564.8" fill="none" stroke="#9fd065" stroke-width="2.6" stroke-linejoin="round" opacity="0.9"/>
<polyline points="831.5,574.2 836.5,577.3 841.6,573.9 846.6,576.7 851.7,573.9 856.7,577.9 861.8,573.7 866.8,577.7 871.9,574.0 876.9,576.6 882.0,574.1 887.0,577.4" fill="none" stroke="#9fd065" stroke-width="2.6" stroke-linejoin="round" opacity="0.9"/>
<polyline points="831.5,585.9 836.5,589.0 841.6,586.8 846.6,589.8 851.7,586.6 856.7,590.4 861.8,586.5 866.8,590.5 871.9,586.0 876.9,590.3 882.0,586.1 887.0,590.5" fill="none" stroke="#9fd065" stroke-width="2.6" stroke-linejoin="round" opacity="0.9"/>
<polyline points="831.5,599.3 836.5,601.7 841.6,598.1 846.6,601.8 851.7,599.4 856.7,602.2 861.8,598.9 866.8,602.0 871.9,598.7 876.9,602.1 882.0,598.5 887.0,602.4" fill="none" stroke="#9fd065" stroke-width="2.6" stroke-linejoin="round" opacity="0.9"/>
<polyline points="831.5,611.3 836.5,615.4 841.6,611.5 846.6,615.5 851.7,611.8 856.7,615.6 861.8,611.5 866.8,614.3 871.9,611.8 876.9,615.5 882.0,611.8 887.0,614.9" fill="none" stroke="#9fd065" stroke-width="2.6" stroke-linejoin="round" opacity="0.9"/>
<line x1="834.1" y1="563.0" x2="830.7" y2="575.5" stroke="#a8d67a" stroke-width="1.4" opacity="0.85"/>
<line x1="840.9" y1="563.0" x2="841.8" y2="575.5" stroke="#a8d67a" stroke-width="1.4" opacity="0.85"/>
<line x1="845.7" y1="563.0" x2="840.5" y2="575.5" stroke="#a8d67a" stroke-width="1.4" opacity="0.85"/>
<line x1="853.9" y1="563.0" x2="859.8" y2="575.5" stroke="#a8d67a" stroke-width="1.4" opacity="0.85"/>
<line x1="858.0" y1="563.0" x2="861.6" y2="575.5" stroke="#a8d67a" stroke-width="1.4" opacity="0.85"/>
<line x1="865.4" y1="563.0" x2="861.2" y2="575.5" stroke="#a8d67a" stroke-width="1.4" opacity="0.85"/>
<line x1="871.5" y1="563.0" x2="874.7" y2="575.5" stroke="#a8d67a" stroke-width="1.4" opacity="0.85"/>
<line x1="879.7" y1="563.0" x2="874.2" y2="575.5" stroke="#a8d67a" stroke-width="1.4" opacity="0.85"/>
<line x1="885.3" y1="563.0" x2="879.9" y2="575.5" stroke="#a8d67a" stroke-width="1.4" opacity="0.85"/>
<line x1="834.2" y1="575.5" x2="832.1" y2="588.0" stroke="#a8d67a" stroke-width="1.4" opacity="0.85"/>
<line x1="841.1" y1="575.5" x2="846.8" y2="588.0" stroke="#a8d67a" stroke-width="1.4" opacity="0.85"/>
<line x1="846.4" y1="575.5" x2="852.4" y2="588.0" stroke="#a8d67a" stroke-width="1.4" opacity="0.85"/>
<line x1="852.2" y1="575.5" x2="847.2" y2="588.0" stroke="#a8d67a" stroke-width="1.4" opacity="0.85"/>
<line x1="859.5" y1="575.5" x2="853.9" y2="588.0" stroke="#a8d67a" stroke-width="1.4" opacity="0.85"/>
<line x1="864.8" y1="575.5" x2="863.7" y2="588.0" stroke="#a8d67a" stroke-width="1.4" opacity="0.85"/>
<line x1="872.5" y1="575.5" x2="868.3" y2="588.0" stroke="#a8d67a" stroke-width="1.4" opacity="0.85"/>
<line x1="877.2" y1="575.5" x2="881.6" y2="588.0" stroke="#a8d67a" stroke-width="1.4" opacity="0.85"/>
<line x1="884.4" y1="575.5" x2="889.9" y2="588.0" stroke="#a8d67a" stroke-width="1.4" opacity="0.85"/>
<line x1="834.7" y1="588.0" x2="833.2" y2="600.5" stroke="#a8d67a" stroke-width="1.4" opacity="0.85"/>
<line x1="839.8" y1="588.0" x2="840.1" y2="600.5" stroke="#a8d67a" stroke-width="1.4" opacity="0.85"/>
<line x1="846.8" y1="588.0" x2="848.0" y2="600.5" stroke="#a8d67a" stroke-width="1.4" opacity="0.85"/>
<line x1="853.0" y1="588.0" x2="854.4" y2="600.5" stroke="#a8d67a" stroke-width="1.4" opacity="0.85"/>
<line x1="860.6" y1="588.0" x2="860.7" y2="600.5" stroke="#a8d67a" stroke-width="1.4" opacity="0.85"/>
<line x1="865.5" y1="588.0" x2="868.1" y2="600.5" stroke="#a8d67a" stroke-width="1.4" opacity="0.85"/>
<line x1="871.3" y1="588.0" x2="869.0" y2="600.5" stroke="#a8d67a" stroke-width="1.4" opacity="0.85"/>
<line x1="880.0" y1="588.0" x2="880.2" y2="600.5" stroke="#a8d67a" stroke-width="1.4" opacity="0.85"/>
<line x1="885.1" y1="588.0" x2="879.3" y2="600.5" stroke="#a8d67a" stroke-width="1.4" opacity="0.85"/>
<line x1="833.2" y1="600.5" x2="834.2" y2="613.0" stroke="#a8d67a" stroke-width="1.4" opacity="0.85"/>
<line x1="838.5" y1="600.5" x2="839.9" y2="613.0" stroke="#a8d67a" stroke-width="1.4" opacity="0.85"/>
<line x1="846.8" y1="600.5" x2="841.5" y2="613.0" stroke="#a8d67a" stroke-width="1.4" opacity="0.85"/>
<line x1="853.2" y1="600.5" x2="852.8" y2="613.0" stroke="#a8d67a" stroke-width="1.4" opacity="0.85"/>
<line x1="859.8" y1="600.5" x2="858.0" y2="613.0" stroke="#a8d67a" stroke-width="1.4" opacity="0.85"/>
<line x1="866.3" y1="600.5" x2="869.2" y2="613.0" stroke="#a8d67a" stroke-width="1.4" opacity="0.85"/>
<line x1="870.7" y1="600.5" x2="865.4" y2="613.0" stroke="#a8d67a" stroke-width="1.4" opacity="0.85"/>
<line x1="879.1" y1="600.5" x2="884.7" y2="613.0" stroke="#a8d67a" stroke-width="1.4" opacity="0.85"/>
<line x1="884.3" y1="600.5" x2="883.7" y2="613.0" stroke="#a8d67a" stroke-width="1.4" opacity="0.85"/>
<circle cx="834.1" cy="574.8" r="2.4" fill="#d4d4e2" stroke="#8c8ca4" stroke-width="1"/>
<circle cx="844.1" cy="576.0" r="2.4" fill="#d4d4e2" stroke="#8c8ca4" stroke-width="1"/>
<circle cx="854.0" cy="576.9" r="2.4" fill="#d4d4e2" stroke="#8c8ca4" stroke-width="1"/>
<circle cx="874.7" cy="574.6" r="2.4" fill="#d4d4e2" stroke="#8c8ca4" stroke-width="1"/>
<circle cx="884.7" cy="574.2" r="2.4" fill="#d4d4e2" stroke="#8c8ca4" stroke-width="1"/>
<circle cx="844.9" cy="586.0" r="2.4" fill="#d4d4e2" stroke="#8c8ca4" stroke-width="1"/>
<circle cx="853.9" cy="589.7" r="2.4" fill="#d4d4e2" stroke="#8c8ca4" stroke-width="1"/>
<circle cx="865.1" cy="586.3" r="2.4" fill="#d4d4e2" stroke="#8c8ca4" stroke-width="1"/>
<circle cx="874.5" cy="589.9" r="2.4" fill="#d4d4e2" stroke="#8c8ca4" stroke-width="1"/>
<circle cx="883.3" cy="586.1" r="2.4" fill="#d4d4e2" stroke="#8c8ca4" stroke-width="1"/>
<circle cx="833.8" cy="602.0" r="2.4" fill="#d4d4e2" stroke="#8c8ca4" stroke-width="1"/>
<circle cx="843.6" cy="599.4" r="2.4" fill="#d4d4e2" stroke="#8c8ca4" stroke-width="1"/>
<circle cx="854.6" cy="602.0" r="2.4" fill="#d4d4e2" stroke="#8c8ca4" stroke-width="1"/>
<circle cx="863.3" cy="599.5" r="2.4" fill="#d4d4e2" stroke="#8c8ca4" stroke-width="1"/>
<circle cx="873.6" cy="599.7" r="2.4" fill="#d4d4e2" stroke="#8c8ca4" stroke-width="1"/>
<circle cx="883.8" cy="600.0" r="2.4" fill="#d4d4e2" stroke="#8c8ca4" stroke-width="1"/>
<circle cx="833.7" cy="610.5" r="2.4" fill="#d4d4e2" stroke="#8c8ca4" stroke-width="1"/>
<circle cx="845.3" cy="615.4" r="2.4" fill="#d4d4e2" stroke="#8c8ca4" stroke-width="1"/>
<circle cx="855.4" cy="615.1" r="2.4" fill="#d4d4e2" stroke="#8c8ca4" stroke-width="1"/>
<circle cx="864.8" cy="614.7" r="2.4" fill="#d4d4e2" stroke="#8c8ca4" stroke-width="1"/>
<circle cx="874.1" cy="611.9" r="2.4" fill="#d4d4e2" stroke="#8c8ca4" stroke-width="1"/>
<circle cx="883.3" cy="610.8" r="2.4" fill="#d4d4e2" stroke="#8c8ca4" stroke-width="1"/>
</g>
<g filter="url(#soft)">
<polyline points="699.8,648.8 705.3,652.2 710.7,649.0 716.2,652.2 721.6,648.5 727.1,652.6 732.6,649.9 738.0,653.3 743.5,649.6 748.9,652.4 754.4,649.3" fill="none" stroke="#9fd065" stroke-width="2.6" stroke-linejoin="round" opacity="0.9"/>
<polyline points="699.8,658.4 705.3,661.8 710.7,658.1 716.2,661.9 721.6,659.5 727.1,662.9 732.6,659.3 738.0,662.9 743.5,658.3 748.9,662.1 754.4,659.0" fill="none" stroke="#9fd065" stroke-width="2.6" stroke-linejoin="round" opacity="0.9"/>
<polyline points="699.8,668.7 705.3,672.5 710.7,668.9 716.2,671.3 721.6,668.5 727.1,672.2 732.6,668.3 738.0,671.4 743.5,668.3 748.9,671.3 754.4,669.0" fill="none" stroke="#9fd065" stroke-width="2.6" stroke-linejoin="round" opacity="0.9"/>
<polyline points="699.8,678.8 705.3,681.9 710.7,677.9 716.2,682.5 721.6,678.3 727.1,682.4 732.6,678.8 738.0,681.8 743.5,678.1 748.9,682.0 754.4,678.1" fill="none" stroke="#9fd065" stroke-width="2.6" stroke-linejoin="round" opacity="0.9"/>
<line x1="700.8" y1="651.0" x2="698.4" y2="660.6" stroke="#a8d67a" stroke-width="1.4" opacity="0.85"/>
<line x1="709.1" y1="651.0" x2="703.6" y2="660.6" stroke="#a8d67a" stroke-width="1.4" opacity="0.85"/>
<line x1="713.1" y1="651.0" x2="714.6" y2="660.6" stroke="#a8d67a" stroke-width="1.4" opacity="0.85"/>
<line x1="720.1" y1="651.0" x2="720.5" y2="660.6" stroke="#a8d67a" stroke-width="1.4" opacity="0.85"/>
<line x1="727.0" y1="651.0" x2="725.1" y2="660.6" stroke="#a8d67a" stroke-width="1.4" opacity="0.85"/>
<line x1="734.9" y1="651.0" x2="731.3" y2="660.6" stroke="#a8d67a" stroke-width="1.4" opacity="0.85"/>
<line x1="739.5" y1="651.0" x2="735.9" y2="660.6" stroke="#a8d67a" stroke-width="1.4" opacity="0.85"/>
<line x1="746.5" y1="651.0" x2="743.8" y2="660.6" stroke="#a8d67a" stroke-width="1.4" opacity="0.85"/>
<line x1="752.0" y1="651.0" x2="754.9" y2="660.6" stroke="#a8d67a" stroke-width="1.4" opacity="0.85"/>
<line x1="701.3" y1="660.6" x2="702.0" y2="670.1" stroke="#a8d67a" stroke-width="1.4" opacity="0.85"/>
<line x1="709.3" y1="660.6" x2="704.5" y2="670.1" stroke="#a8d67a" stroke-width="1.4" opacity="0.85"/>
<line x1="713.1" y1="660.6" x2="709.9" y2="670.1" stroke="#a8d67a" stroke-width="1.4" opacity="0.85"/>
<line x1="721.6" y1="660.6" x2="723.0" y2="670.1" stroke="#a8d67a" stroke-width="1.4" opacity="0.85"/>
<line x1="726.3" y1="660.6" x2="724.3" y2="670.1" stroke="#a8d67a" stroke-width="1.4" opacity="0.85"/>
<line x1="732.5" y1="660.6" x2="732.0" y2="670.1" stroke="#a8d67a" stroke-width="1.4" opacity="0.85"/>
<line x1="738.4" y1="660.6" x2="740.7" y2="670.1" stroke="#a8d67a" stroke-width="1.4" opacity="0.85"/>
<line x1="747.3" y1="660.6" x2="752.7" y2="670.1" stroke="#a8d67a" stroke-width="1.4" opacity="0.85"/>
<line x1="753.1" y1="660.6" x2="758.6" y2="670.1" stroke="#a8d67a" stroke-width="1.4" opacity="0.85"/>
<line x1="700.4" y1="670.1" x2="697.8" y2="680.0" stroke="#a8d67a" stroke-width="1.4" opacity="0.85"/>
<line x1="709.5" y1="670.1" x2="712.8" y2="680.0" stroke="#a8d67a" stroke-width="1.4" opacity="0.85"/>
<line x1="714.2" y1="670.1" x2="719.5" y2="680.0" stroke="#a8d67a" stroke-width="1.4" opacity="0.85"/>
<line x1="721.1" y1="670.1" x2="725.0" y2="680.0" stroke="#a8d67a" stroke-width="1.4" opacity="0.85"/>
<line x1="726.5" y1="670.1" x2="722.8" y2="680.0" stroke="#a8d67a" stroke-width="1.4" opacity="0.85"/>
<line x1="733.3" y1="670.1" x2="728.9" y2="680.0" stroke="#a8d67a" stroke-width="1.4" opacity="0.85"/>
<line x1="739.4" y1="670.1" x2="744.9" y2="680.0" stroke="#a8d67a" stroke-width="1.4" opacity="0.85"/>
<line x1="745.6" y1="670.1" x2="739.7" y2="680.0" stroke="#a8d67a" stroke-width="1.4" opacity="0.85"/>
<line x1="751.0" y1="670.1" x2="747.1" y2="680.0" stroke="#a8d67a" stroke-width="1.4" opacity="0.85"/>
<circle cx="702.5" cy="650.0" r="2.4" fill="#d4d4e2" stroke="#8c8ca4" stroke-width="1"/>
<circle cx="722.1" cy="649.5" r="2.4" fill="#d4d4e2" stroke="#8c8ca4" stroke-width="1"/>
<circle cx="702.0" cy="658.3" r="2.4" fill="#d4d4e2" stroke="#8c8ca4" stroke-width="1"/>
<circle cx="711.9" cy="663.1" r="2.4" fill="#d4d4e2" stroke="#8c8ca4" stroke-width="1"/>
<circle cx="732.6" cy="660.1" r="2.4" fill="#d4d4e2" stroke="#8c8ca4" stroke-width="1"/>
<circle cx="741.6" cy="659.3" r="2.4" fill="#d4d4e2" stroke="#8c8ca4" stroke-width="1"/>
<circle cx="750.3" cy="660.2" r="2.4" fill="#d4d4e2" stroke="#8c8ca4" stroke-width="1"/>
<circle cx="703.7" cy="671.8" r="2.4" fill="#d4d4e2" stroke="#8c8ca4" stroke-width="1"/>
<circle cx="711.4" cy="668.9" r="2.4" fill="#d4d4e2" stroke="#8c8ca4" stroke-width="1"/>
<circle cx="721.5" cy="668.8" r="2.4" fill="#d4d4e2" stroke="#8c8ca4" stroke-width="1"/>
<circle cx="731.1" cy="667.9" r="2.4" fill="#d4d4e2" stroke="#8c8ca4" stroke-width="1"/>
<circle cx="741.8" cy="672.6" r="2.4" fill="#d4d4e2" stroke="#8c8ca4" stroke-width="1"/>
<circle cx="752.4" cy="670.9" r="2.4" fill="#d4d4e2" stroke="#8c8ca4" stroke-width="1"/>
<circle cx="703.4" cy="680.0" r="2.4" fill="#d4d4e2" stroke="#8c8ca4" stroke-width="1"/>
<circle cx="723.1" cy="682.0" r="2.4" fill="#d4d4e2" stroke="#8c8ca4" stroke-width="1"/>
<circle cx="731.6" cy="680.8" r="2.4" fill="#d4d4e2" stroke="#8c8ca4" stroke-width="1"/>
<circle cx="742.0" cy="681.6" r="2.4" fill="#d4d4e2" stroke="#8c8ca4" stroke-width="1"/>
<circle cx="751.8" cy="680.9" r="2.4" fill="#d4d4e2" stroke="#8c8ca4" stroke-width="1"/>
</g>
<g filter="url(#soft)">
<polyline points="835.2,632.4 840.4,636.2 845.6,632.7 850.7,636.5 855.9,632.6 861.1,636.5 866.3,631.4 871.5,635.7 876.6,632.9 881.8,636.0 887.0,632.8" fill="none" stroke="#9fd065" stroke-width="2.6" stroke-linejoin="round" opacity="0.9"/>
<polyline points="835.2,640.2 840.4,644.3 845.6,640.4 850.7,644.5 855.9,640.9 861.1,643.6 866.3,640.3 871.5,644.0 876.6,641.4 881.8,644.8 887.0,640.2" fill="none" stroke="#9fd065" stroke-width="2.6" stroke-linejoin="round" opacity="0.9"/>
<polyline points="835.2,649.8 840.4,652.4 845.6,649.5 850.7,652.4 855.9,648.6 861.1,653.6 866.3,648.9 871.5,652.5 876.6,650.1 881.8,653.6 887.0,649.0" fill="none" stroke="#9fd065" stroke-width="2.6" stroke-linejoin="round" opacity="0.9"/>
<polyline points="835.2,658.9 840.4,661.9 845.6,658.5 850.7,661.3 855.9,658.9 861.1,662.1 866.3,658.9 871.5,662.4 876.6,657.9 881.8,661.6 887.0,657.7" fill="none" stroke="#9fd065" stroke-width="2.6" stroke-linejoin="round" opacity="0.9"/>
<line x1="836.1" y1="634.0" x2="830.9" y2="642.6" stroke="#a8d67a" stroke-width="1.4" opacity="0.85"/>
<line x1="843.4" y1="634.0" x2="844.7" y2="642.6" stroke="#a8d67a" stroke-width="1.4" opacity="0.85"/>
<line x1="849.4" y1="634.0" x2="851.5" y2="642.6" stroke="#a8d67a" stroke-width="1.4" opacity="0.85"/>
<line x1="857.2" y1="634.0" x2="854.9" y2="642.6" stroke="#a8d67a" stroke-width="1.4" opacity="0.85"/>
<line x1="865.5" y1="634.0" x2="865.2" y2="642.6" stroke="#a8d67a" stroke-width="1.4" opacity="0.85"/>
<line x1="870.8" y1="634.0" x2="870.6" y2="642.6" stroke="#a8d67a" stroke-width="1.4" opacity="0.85"/>
<line x1="878.8" y1="634.0" x2="873.5" y2="642.6" stroke="#a8d67a" stroke-width="1.4" opacity="0.85"/>
<line x1="886.4" y1="634.0" x2="880.7" y2="642.6" stroke="#a8d67a" stroke-width="1.4" opacity="0.85"/>
<line x1="837.9" y1="642.6" x2="842.1" y2="651.2" stroke="#a8d67a" stroke-width="1.4" opacity="0.85"/>
<line x1="842.6" y1="642.6" x2="846.0" y2="651.2" stroke="#a8d67a" stroke-width="1.4" opacity="0.85"/>
<line x1="850.5" y1="642.6" x2="851.4" y2="651.2" stroke="#a8d67a" stroke-width="1.4" opacity="0.85"/>
<line x1="856.2" y1="642.6" x2="850.8" y2="651.2" stroke="#a8d67a" stroke-width="1.4" opacity="0.85"/>
<line x1="863.6" y1="642.6" x2="869.0" y2="651.2" stroke="#a8d67a" stroke-width="1.4" opacity="0.85"/>
<line x1="870.4" y1="642.6" x2="873.5" y2="651.2" stroke="#a8d67a" stroke-width="1.4" opacity="0.85"/>
<line x1="879.5" y1="642.6" x2="884.8" y2="651.2" stroke="#a8d67a" stroke-width="1.4" opacity="0.85"/>
<line x1="884.5" y1="642.6" x2="882.8" y2="651.2" stroke="#a8d67a" stroke-width="1.4" opacity="0.85"/>
<line x1="837.3" y1="651.2" x2="840.6" y2="660.0" stroke="#a8d67a" stroke-width="1.4" opacity="0.85"/>
<line x1="842.9" y1="651.2" x2="845.8" y2="660.0" stroke="#a8d67a" stroke-width="1.4" opacity="0.85"/>
<line x1="851.7" y1="651.2" x2="856.1" y2="660.0" stroke="#a8d67a" stroke-width="1.4" opacity="0.85"/>
<line x1="856.3" y1="651.2" x2="861.6" y2="660.0" stroke="#a8d67a" stroke-width="1.4" opacity="0.85"/>
<line x1="863.3" y1="651.2" x2="861.4" y2="660.0" stroke="#a8d67a" stroke-width="1.4" opacity="0.85"/>
<line x1="871.7" y1="651.2" x2="876.7" y2="660.0" stroke="#a8d67a" stroke-width="1.4" opacity="0.85"/>
<line x1="877.7" y1="651.2" x2="882.8" y2="660.0" stroke="#a8d67a" stroke-width="1.4" opacity="0.85"/>
<line x1="885.1" y1="651.2" x2="882.9" y2="660.0" stroke="#a8d67a" stroke-width="1.4" opacity="0.85"/>
<circle cx="837.4" cy="631.9" r="2.4" fill="#d4d4e2" stroke="#8c8ca4" stroke-width="1"/>
<circle cx="857.7" cy="632.3" r="2.4" fill="#d4d4e2" stroke="#8c8ca4" stroke-width="1"/>
<circle cx="874.9" cy="633.5" r="2.4" fill="#d4d4e2" stroke="#8c8ca4" stroke-width="1"/>
<circle cx="884.2" cy="635.6" r="2.4" fill="#d4d4e2" stroke="#8c8ca4" stroke-width="1"/>
<circle cx="838.0" cy="640.4" r="2.4" fill="#d4d4e2" stroke="#8c8ca4" stroke-width="1"/>
<circle cx="846.2" cy="642.5" r="2.4" fill="#d4d4e2" stroke="#8c8ca4" stroke-width="1"/>
<circle cx="855.6" cy="643.7" r="2.4" fill="#d4d4e2" stroke="#8c8ca4" stroke-width="1"/>
<circle cx="866.0" cy="644.0" r="2.4" fill="#d4d4e2" stroke="#8c8ca4" stroke-width="1"/>
<circle cx="883.2" cy="644.3" r="2.4" fill="#d4d4e2" stroke="#8c8ca4" stroke-width="1"/>
<circle cx="838.1" cy="653.7" r="2.4" fill="#d4d4e2" stroke="#8c8ca4" stroke-width="1"/>
<circle cx="848.5" cy="650.9" r="2.4" fill="#d4d4e2" stroke="#8c8ca4" stroke-width="1"/>
<circle cx="857.1" cy="651.1" r="2.4" fill="#d4d4e2" stroke="#8c8ca4" stroke-width="1"/>
<circle cx="865.4" cy="649.4" r="2.4" fill="#d4d4e2" stroke="#8c8ca4" stroke-width="1"/>
<circle cx="876.0" cy="653.5" r="2.4" fill="#d4d4e2" stroke="#8c8ca4" stroke-width="1"/>
<circle cx="884.0" cy="650.4" r="2.4" fill="#d4d4e2" stroke="#8c8ca4" stroke-width="1"/>
<circle cx="848.0" cy="661.8" r="2.4" fill="#d4d4e2" stroke="#8c8ca4" stroke-width="1"/>
<circle cx="857.2" cy="661.4" r="2.4" fill="#d4d4e2" stroke="#8c8ca4" stroke-width="1"/>
<circle cx="866.1" cy="661.3" r="2.4" fill="#d4d4e2" stroke="#8c8ca4" stroke-width="1"/>
<circle cx="875.3" cy="658.9" r="2.4" fill="#d4d4e2" stroke="#8c8ca4" stroke-width="1"/>
<circle cx="884.6" cy="661.0" r="2.4" fill="#d4d4e2" stroke="#8c8ca4" stroke-width="1"/>
</g>
<g filter="url(#soft)">
<polyline points="980.0,654.7 985.4,658.3 990.9,654.2 996.3,657.4 1001.8,653.4 1007.2,658.1 1012.7,654.2 1018.1,658.2 1023.6,654.0 1029.0,658.2" fill="none" stroke="#9fd065" stroke-width="2.6" stroke-linejoin="round" opacity="0.9"/>
<polyline points="980.0,662.1 985.4,666.5 990.9,662.8 996.3,665.9 1001.8,662.5 1007.2,666.3 1012.7,662.0 1018.1,666.1 1023.6,662.9 1029.0,665.7" fill="none" stroke="#9fd065" stroke-width="2.6" stroke-linejoin="round" opacity="0.9"/>
<polyline points="980.0,671.2 985.4,674.6 990.9,671.3 996.3,674.0 1001.8,670.0 1007.2,674.8 1012.7,671.2 1018.1,674.2 1023.6,670.1 1029.0,673.8" fill="none" stroke="#9fd065" stroke-width="2.6" stroke-linejoin="round" opacity="0.9"/>
<polyline points="980.0,679.4 985.4,682.5 990.9,679.9 996.3,682.9 1001.8,678.7 1007.2,683.0 1012.7,679.0 1018.1,683.5 1023.6,679.9 1029.0,682.8" fill="none" stroke="#9fd065" stroke-width="2.6" stroke-linejoin="round" opacity="0.9"/>
<line x1="982.4" y1="656.0" x2="984.8" y2="664.2" stroke="#a8d67a" stroke-width="1.4" opacity="0.85"/>
<line x1="989.3" y1="656.0" x2="995.1" y2="664.2" stroke="#a8d67a" stroke-width="1.4" opacity="0.85"/>
<line x1="993.4" y1="656.0" x2="991.8" y2="664.2" stroke="#a8d67a" stroke-width="1.4" opacity="0.85"/>
<line x1="1001.6" y1="656.0" x2="999.2" y2="664.2" stroke="#a8d67a" stroke-width="1.4" opacity="0.85"/>
<line x1="1008.0" y1="656.0" x2="1003.1" y2="664.2" stroke="#a8d67a" stroke-width="1.4" opacity="0.85"/>
<line x1="1015.3" y1="656.0" x2="1015.6" y2="664.2" stroke="#a8d67a" stroke-width="1.4" opacity="0.85"/>
<line x1="1019.4" y1="656.0" x2="1021.4" y2="664.2" stroke="#a8d67a" stroke-width="1.4" opacity="0.85"/>
<line x1="1026.4" y1="656.0" x2="1022.8" y2="664.2" stroke="#a8d67a" stroke-width="1.4" opacity="0.85"/>
<line x1="982.0" y1="664.2" x2="977.6" y2="672.5" stroke="#a8d67a" stroke-width="1.4" opacity="0.85"/>
<line x1="987.6" y1="664.2" x2="991.9" y2="672.5" stroke="#a8d67a" stroke-width="1.4" opacity="0.85"/>
<line x1="995.5" y1="664.2" x2="989.6" y2="672.5" stroke="#a8d67a" stroke-width="1.4" opacity="0.85"/>
<line x1="1002.1" y1="664.2" x2="996.3" y2="672.5" stroke="#a8d67a" stroke-width="1.4" opacity="0.85"/>
<line x1="1007.2" y1="664.2" x2="1012.1" y2="672.5" stroke="#a8d67a" stroke-width="1.4" opacity="0.85"/>
<line x1="1014.5" y1="664.2" x2="1012.2" y2="672.5" stroke="#a8d67a" stroke-width="1.4" opacity="0.85"/>
<line x1="1020.2" y1="664.2" x2="1018.9" y2="672.5" stroke="#a8d67a" stroke-width="1.4" opacity="0.85"/>
<line x1="1025.9" y1="664.2" x2="1031.9" y2="672.5" stroke="#a8d67a" stroke-width="1.4" opacity="0.85"/>
<line x1="980.7" y1="672.5" x2="979.7" y2="681.0" stroke="#a8d67a" stroke-width="1.4" opacity="0.85"/>
<line x1="989.2" y1="672.5" x2="987.9" y2="681.0" stroke="#a8d67a" stroke-width="1.4" opacity="0.85"/>
<line x1="996.3" y1="672.5" x2="993.2" y2="681.0" stroke="#a8d67a" stroke-width="1.4" opacity="0.85"/>
<line x1="1002.7" y1="672.5" x2="1007.4" y2="681.0" stroke="#a8d67a" stroke-width="1.4" opacity="0.85"/>
<line x1="1008.2" y1="672.5" x2="1012.9" y2="681.0" stroke="#a8d67a" stroke-width="1.4" opacity="0.85"/>
<line x1="1014.0" y1="672.5" x2="1018.0" y2="681.0" stroke="#a8d67a" stroke-width="1.4" opacity="0.85"/>
<line x1="1021.5" y1="672.5" x2="1021.7" y2="681.0" stroke="#a8d67a" stroke-width="1.4" opacity="0.85"/>
<line x1="1026.9" y1="672.5" x2="1029.4" y2="681.0" stroke="#a8d67a" stroke-width="1.4" opacity="0.85"/>
<circle cx="982.0" cy="657.2" r="2.4" fill="#d4d4e2" stroke="#8c8ca4" stroke-width="1"/>
<circle cx="993.7" cy="657.4" r="2.4" fill="#d4d4e2" stroke="#8c8ca4" stroke-width="1"/>
<circle cx="982.7" cy="663.0" r="2.4" fill="#d4d4e2" stroke="#8c8ca4" stroke-width="1"/>
<circle cx="994.8" cy="663.0" r="2.4" fill="#d4d4e2" stroke="#8c8ca4" stroke-width="1"/>
<circle cx="1005.4" cy="664.8" r="2.4" fill="#d4d4e2" stroke="#8c8ca4" stroke-width="1"/>
<circle cx="1015.2" cy="664.1" r="2.4" fill="#d4d4e2" stroke="#8c8ca4" stroke-width="1"/>
<circle cx="982.5" cy="674.0" r="2.4" fill="#d4d4e2" stroke="#8c8ca4" stroke-width="1"/>
<circle cx="994.1" cy="674.9" r="2.4" fill="#d4d4e2" stroke="#8c8ca4" stroke-width="1"/>
<circle cx="1004.2" cy="673.0" r="2.4" fill="#d4d4e2" stroke="#8c8ca4" stroke-width="1"/>
<circle cx="1015.0" cy="672.4" r="2.4" fill="#d4d4e2" stroke="#8c8ca4" stroke-width="1"/>
<circle cx="1027.0" cy="671.5" r="2.4" fill="#d4d4e2" stroke="#8c8ca4" stroke-width="1"/>
<circle cx="992.7" cy="678.7" r="2.4" fill="#d4d4e2" stroke="#8c8ca4" stroke-width="1"/>
<circle cx="1003.6" cy="682.1" r="2.4" fill="#d4d4e2" stroke="#8c8ca4" stroke-width="1"/>
<circle cx="1016.3" cy="682.8" r="2.4" fill="#d4d4e2" stroke="#8c8ca4" stroke-width="1"/>
</g>
<line x1="1000" y1="645" x2="1008" y2="645" stroke="#d8a8b8" stroke-width="1.2"/>
<circle cx="1000" cy="645" r="2.2" fill="#f4e4ea" stroke="#c89aaa" stroke-width="0.8"/>
<circle cx="1008" cy="645" r="2.2" fill="#f4e4ea" stroke="#c89aaa" stroke-width="0.8"/>
<g filter="url(#soft)">
<polyline points="704.0,749.9 709.4,753.2 714.9,750.4 720.3,753.1 725.8,750.3 731.2,753.6 736.7,749.5 742.1,753.8 747.6,749.5 753.0,753.7" fill="none" stroke="#9fd065" stroke-width="2.6" stroke-linejoin="round" opacity="0.9"/>
<polyline points="704.0,756.3 709.4,759.9 714.9,756.8 720.3,761.1 725.8,756.3 731.2,760.1 736.7,757.2 742.1,761.3 747.6,757.1 753.0,760.4" fill="none" stroke="#9fd065" stroke-width="2.6" stroke-linejoin="round" opacity="0.9"/>
<polyline points="704.0,764.5 709.4,766.6 714.9,764.3 720.3,767.0 725.8,763.1 731.2,766.7 736.7,763.4 742.1,767.8 747.6,763.2 753.0,767.4" fill="none" stroke="#9fd065" stroke-width="2.6" stroke-linejoin="round" opacity="0.9"/>
<line x1="706.4" y1="752.0" x2="704.9" y2="758.8" stroke="#a8d67a" stroke-width="1.4" opacity="0.85"/>
<line x1="712.6" y1="752.0" x2="707.3" y2="758.8" stroke="#a8d67a" stroke-width="1.4" opacity="0.85"/>
<line x1="717.5" y1="752.0" x2="714.0" y2="758.8" stroke="#a8d67a" stroke-width="1.4" opacity="0.85"/>
<line x1="725.8" y1="752.0" x2="725.0" y2="758.8" stroke="#a8d67a" stroke-width="1.4" opacity="0.85"/>
<line x1="731.2" y1="752.0" x2="732.2" y2="758.8" stroke="#a8d67a" stroke-width="1.4" opacity="0.85"/>
<line x1="738.0" y1="752.0" x2="735.6" y2="758.8" stroke="#a8d67a" stroke-width="1.4" opacity="0.85"/>
<line x1="745.5" y1="752.0" x2="747.8" y2="758.8" stroke="#a8d67a" stroke-width="1.4" opacity="0.85"/>
<line x1="750.2" y1="752.0" x2="751.1" y2="758.8" stroke="#a8d67a" stroke-width="1.4" opacity="0.85"/>
<line x1="706.1" y1="758.8" x2="710.6" y2="765.5" stroke="#a8d67a" stroke-width="1.4" opacity="0.85"/>
<line x1="713.1" y1="758.8" x2="710.6" y2="765.5" stroke="#a8d67a" stroke-width="1.4" opacity="0.85"/>
<line x1="720.3" y1="758.8" x2="715.7" y2="765.5" stroke="#a8d67a" stroke-width="1.4" opacity="0.85"/>
<line x1="725.0" y1="758.8" x2="728.1" y2="765.5" stroke="#a8d67a" stroke-width="1.4" opacity="0.85"/>
<line x1="730.7" y1="758.8" x2="730.5" y2="765.5" stroke="#a8d67a" stroke-width="1.4" opacity="0.85"/>
<line x1="736.8" y1="758.8" x2="738.8" y2="765.5" stroke="#a8d67a" stroke-width="1.4" opacity="0.85"/>
<line x1="745.4" y1="758.8" x2="746.2" y2="765.5" stroke="#a8d67a" stroke-width="1.4" opacity="0.85"/>
<line x1="752.1" y1="758.8" x2="749.9" y2="765.5" stroke="#a8d67a" stroke-width="1.4" opacity="0.85"/>
<circle cx="707.2" cy="752.4" r="2.4" fill="#d4d4e2" stroke="#8c8ca4" stroke-width="1"/>
<circle cx="718.6" cy="754.2" r="2.4" fill="#d4d4e2" stroke="#8c8ca4" stroke-width="1"/>
<circle cx="728.9" cy="749.8" r="2.4" fill="#d4d4e2" stroke="#8c8ca4" stroke-width="1"/>
<circle cx="739.6" cy="754.5" r="2.4" fill="#d4d4e2" stroke="#8c8ca4" stroke-width="1"/>
<circle cx="749.5" cy="751.4" r="2.4" fill="#d4d4e2" stroke="#8c8ca4" stroke-width="1"/>
<circle cx="705.9" cy="758.6" r="2.4" fill="#d4d4e2" stroke="#8c8ca4" stroke-width="1"/>
<circle cx="749.1" cy="757.5" r="2.4" fill="#d4d4e2" stroke="#8c8ca4" stroke-width="1"/>
<circle cx="707.9" cy="763.4" r="2.4" fill="#d4d4e2" stroke="#8c8ca4" stroke-width="1"/>
<circle cx="717.9" cy="767.4" r="2.4" fill="#d4d4e2" stroke="#8c8ca4" stroke-width="1"/>
<circle cx="729.4" cy="764.4" r="2.4" fill="#d4d4e2" stroke="#8c8ca4" stroke-width="1"/>
<circle cx="738.9" cy="767.4" r="2.4" fill="#d4d4e2" stroke="#8c8ca4" stroke-width="1"/>
<circle cx="749.2" cy="763.9" r="2.4" fill="#d4d4e2" stroke="#8c8ca4" stroke-width="1"/>
</g>
<g filter="url(#soft)">
<polyline points="826.0,722.8 831.2,727.5 836.3,722.6 841.5,727.1 846.6,722.5 851.8,726.4 856.9,724.0 862.1,726.3 867.2,723.4 872.4,726.7 877.5,723.1 882.7,726.8 887.8,722.7 893.0,727.3" fill="none" stroke="#9fd065" stroke-width="2.6" stroke-linejoin="round" opacity="0.9"/>
<polyline points="826.0,732.5 831.2,736.4 836.3,732.4 841.5,736.4 846.6,733.1 851.8,737.4 856.9,733.0 862.1,736.2 867.2,732.8 872.4,737.6 877.5,732.5 882.7,737.0 887.8,733.0 893.0,737.1" fill="none" stroke="#9fd065" stroke-width="2.6" stroke-linejoin="round" opacity="0.9"/>
<polyline points="826.0,742.9 831.2,747.1 836.3,743.2 841.5,747.0 846.6,743.8 851.8,746.9 856.9,742.6 862.1,746.1 867.2,743.9 872.4,746.8 877.5,742.7 882.7,747.5 887.8,743.3 893.0,747.2" fill="none" stroke="#9fd065" stroke-width="2.6" stroke-linejoin="round" opacity="0.9"/>
<line x1="829.1" y1="725.0" x2="826.6" y2="735.0" stroke="#a8d67a" stroke-width="1.4" opacity="0.85"/>
<line x1="833.9" y1="725.0" x2="838.4" y2="735.0" stroke="#a8d67a" stroke-width="1.4" opacity="0.85"/>
<line x1="839.5" y1="725.0" x2="842.7" y2="735.0" stroke="#a8d67a" stroke-width="1.4" opacity="0.85"/>
<line x1="845.7" y1="725.0" x2="848.0" y2="735.0" stroke="#a8d67a" stroke-width="1.4" opacity="0.85"/>
<line x1="853.8" y1="725.0" x2="859.2" y2="735.0" stroke="#a8d67a" stroke-width="1.4" opacity="0.85"/>
<line x1="860.5" y1="725.0" x2="860.6" y2="735.0" stroke="#a8d67a" stroke-width="1.4" opacity="0.85"/>
<line x1="864.9" y1="725.0" x2="860.7" y2="735.0" stroke="#a8d67a" stroke-width="1.4" opacity="0.85"/>
<line x1="872.2" y1="725.0" x2="872.3" y2="735.0" stroke="#a8d67a" stroke-width="1.4" opacity="0.85"/>
<line x1="877.1" y1="725.0" x2="882.0" y2="735.0" stroke="#a8d67a" stroke-width="1.4" opacity="0.85"/>
<line x1="884.7" y1="725.0" x2="887.1" y2="735.0" stroke="#a8d67a" stroke-width="1.4" opacity="0.85"/>
<line x1="890.2" y1="725.0" x2="887.1" y2="735.0" stroke="#a8d67a" stroke-width="1.4" opacity="0.85"/>
<line x1="826.5" y1="735.0" x2="824.7" y2="745.0" stroke="#a8d67a" stroke-width="1.4" opacity="0.85"/>
<line x1="833.6" y1="735.0" x2="832.7" y2="745.0" stroke="#a8d67a" stroke-width="1.4" opacity="0.85"/>
<line x1="840.2" y1="735.0" x2="844.2" y2="745.0" stroke="#a8d67a" stroke-width="1.4" opacity="0.85"/>
<line x1="848.1" y1="735.0" x2="844.2" y2="745.0" stroke="#a8d67a" stroke-width="1.4" opacity="0.85"/>
<line x1="852.9" y1="735.0" x2="848.9" y2="745.0" stroke="#a8d67a" stroke-width="1.4" opacity="0.85"/>
<line x1="860.0" y1="735.0" x2="865.7" y2="745.0" stroke="#a8d67a" stroke-width="1.4" opacity="0.85"/>
<line x1="864.9" y1="735.0" x2="868.1" y2="745.0" stroke="#a8d67a" stroke-width="1.4" opacity="0.85"/>
<line x1="871.5" y1="735.0" x2="865.7" y2="745.0" stroke="#a8d67a" stroke-width="1.4" opacity="0.85"/>
<line x1="879.2" y1="735.0" x2="877.3" y2="745.0" stroke="#a8d67a" stroke-width="1.4" opacity="0.85"/>
<line x1="883.7" y1="735.0" x2="882.9" y2="745.0" stroke="#a8d67a" stroke-width="1.4" opacity="0.85"/>
<line x1="890.2" y1="735.0" x2="889.1" y2="745.0" stroke="#a8d67a" stroke-width="1.4" opacity="0.85"/>
<circle cx="828.8" cy="725.4" r="2.4" fill="#d4d4e2" stroke="#8c8ca4" stroke-width="1"/>
<circle cx="838.2" cy="722.9" r="2.4" fill="#d4d4e2" stroke="#8c8ca4" stroke-width="1"/>
<circle cx="859.2" cy="726.5" r="2.4" fill="#d4d4e2" stroke="#8c8ca4" stroke-width="1"/>
<circle cx="870.2" cy="727.4" r="2.4" fill="#d4d4e2" stroke="#8c8ca4" stroke-width="1"/>
<circle cx="839.3" cy="736.2" r="2.4" fill="#d4d4e2" stroke="#8c8ca4" stroke-width="1"/>
<circle cx="850.4" cy="732.5" r="2.4" fill="#d4d4e2" stroke="#8c8ca4" stroke-width="1"/>
<circle cx="858.8" cy="736.9" r="2.4" fill="#d4d4e2" stroke="#8c8ca4" stroke-width="1"/>
<circle cx="880.5" cy="737.5" r="2.4" fill="#d4d4e2" stroke="#8c8ca4" stroke-width="1"/>
<circle cx="889.2" cy="737.3" r="2.4" fill="#d4d4e2" stroke="#8c8ca4" stroke-width="1"/>
<circle cx="828.0" cy="745.5" r="2.4" fill="#d4d4e2" stroke="#8c8ca4" stroke-width="1"/>
<circle cx="839.1" cy="743.3" r="2.4" fill="#d4d4e2" stroke="#8c8ca4" stroke-width="1"/>
<circle cx="859.4" cy="743.1" r="2.4" fill="#d4d4e2" stroke="#8c8ca4" stroke-width="1"/>
<circle cx="870.2" cy="746.1" r="2.4" fill="#d4d4e2" stroke="#8c8ca4" stroke-width="1"/>
<circle cx="879.6" cy="744.3" r="2.4" fill="#d4d4e2" stroke="#8c8ca4" stroke-width="1"/>
<circle cx="889.3" cy="744.7" r="2.4" fill="#d4d4e2" stroke="#8c8ca4" stroke-width="1"/>
</g>
<g filter="url(#soft)">
<polyline points="982.0,748.1 987.1,751.6 992.2,747.6 997.3,752.4 1002.4,747.4 1007.5,751.8 1012.6,748.8 1017.7,751.1 1022.8,748.3 1027.9,752.0 1033.0,747.5" fill="none" stroke="#9fd065" stroke-width="2.6" stroke-linejoin="round" opacity="0.9"/>
<polyline points="982.0,755.5 987.1,759.6 992.2,755.6 997.3,759.7 1002.4,755.2 1007.5,758.9 1012.6,755.1 1017.7,759.3 1022.8,756.4 1027.9,759.4 1033.0,756.1" fill="none" stroke="#9fd065" stroke-width="2.6" stroke-linejoin="round" opacity="0.9"/>
<polyline points="982.0,763.0 987.1,767.2 992.2,762.6 997.3,766.5 1002.4,763.5 1007.5,767.2 1012.6,763.1 1017.7,766.1 1022.8,762.8 1027.9,766.3 1033.0,762.8" fill="none" stroke="#9fd065" stroke-width="2.6" stroke-linejoin="round" opacity="0.9"/>
<line x1="984.9" y1="750.0" x2="981.3" y2="757.5" stroke="#a8d67a" stroke-width="1.4" opacity="0.85"/>
<line x1="991.9" y1="750.0" x2="996.4" y2="757.5" stroke="#a8d67a" stroke-width="1.4" opacity="0.85"/>
<line x1="996.1" y1="750.0" x2="994.6" y2="757.5" stroke="#a8d67a" stroke-width="1.4" opacity="0.85"/>
<line x1="1004.1" y1="750.0" x2="998.4" y2="757.5" stroke="#a8d67a" stroke-width="1.4" opacity="0.85"/>
<line x1="1010.6" y1="750.0" x2="1015.5" y2="757.5" stroke="#a8d67a" stroke-width="1.4" opacity="0.85"/>
<line x1="1016.4" y1="750.0" x2="1017.6" y2="757.5" stroke="#a8d67a" stroke-width="1.4" opacity="0.85"/>
<line x1="1023.1" y1="750.0" x2="1024.1" y2="757.5" stroke="#a8d67a" stroke-width="1.4" opacity="0.85"/>
<line x1="1032.2" y1="750.0" x2="1028.6" y2="757.5" stroke="#a8d67a" stroke-width="1.4" opacity="0.85"/>
<line x1="982.5" y1="757.5" x2="977.5" y2="765.0" stroke="#a8d67a" stroke-width="1.4" opacity="0.85"/>
<line x1="990.8" y1="757.5" x2="985.0" y2="765.0" stroke="#a8d67a" stroke-width="1.4" opacity="0.85"/>
<line x1="996.2" y1="757.5" x2="996.1" y2="765.0" stroke="#a8d67a" stroke-width="1.4" opacity="0.85"/>
<line x1="1005.4" y1="757.5" x2="1004.4" y2="765.0" stroke="#a8d67a" stroke-width="1.4" opacity="0.85"/>
<line x1="1010.6" y1="757.5" x2="1012.2" y2="765.0" stroke="#a8d67a" stroke-width="1.4" opacity="0.85"/>
<line x1="1016.4" y1="757.5" x2="1017.3" y2="765.0" stroke="#a8d67a" stroke-width="1.4" opacity="0.85"/>
<line x1="1023.3" y1="757.5" x2="1024.6" y2="765.0" stroke="#a8d67a" stroke-width="1.4" opacity="0.85"/>
<line x1="1032.4" y1="757.5" x2="1027.0" y2="765.0" stroke="#a8d67a" stroke-width="1.4" opacity="0.85"/>
<circle cx="985.3" cy="748.2" r="2.4" fill="#d4d4e2" stroke="#8c8ca4" stroke-width="1"/>
<circle cx="995.2" cy="752.5" r="2.4" fill="#d4d4e2" stroke="#8c8ca4" stroke-width="1"/>
<circle cx="1013.1" cy="748.7" r="2.4" fill="#d4d4e2" stroke="#8c8ca4" stroke-width="1"/>
<circle cx="1019.9" cy="749.3" r="2.4" fill="#d4d4e2" stroke="#8c8ca4" stroke-width="1"/>
<circle cx="1030.2" cy="751.4" r="2.4" fill="#d4d4e2" stroke="#8c8ca4" stroke-width="1"/>
<circle cx="994.9" cy="757.9" r="2.4" fill="#d4d4e2" stroke="#8c8ca4" stroke-width="1"/>
<circle cx="1002.8" cy="759.9" r="2.4" fill="#d4d4e2" stroke="#8c8ca4" stroke-width="1"/>
<circle cx="1010.8" cy="759.0" r="2.4" fill="#d4d4e2" stroke="#8c8ca4" stroke-width="1"/>
<circle cx="1020.8" cy="756.1" r="2.4" fill="#d4d4e2" stroke="#8c8ca4" stroke-width="1"/>
<circle cx="1029.6" cy="755.4" r="2.4" fill="#d4d4e2" stroke="#8c8ca4" stroke-width="1"/>
<circle cx="984.0" cy="766.4" r="2.4" fill="#d4d4e2" stroke="#8c8ca4" stroke-width="1"/>
<circle cx="1003.7" cy="765.0" r="2.4" fill="#d4d4e2" stroke="#8c8ca4" stroke-width="1"/>
<circle cx="1011.4" cy="766.2" r="2.4" fill="#d4d4e2" stroke="#8c8ca4" stroke-width="1"/>
<circle cx="1020.4" cy="767.3" r="2.4" fill="#d4d4e2" stroke="#8c8ca4" stroke-width="1"/>
<circle cx="1029.7" cy="766.8" r="2.4" fill="#d4d4e2" stroke="#8c8ca4" stroke-width="1"/>
</g>
<line x1="1000" y1="741" x2="1008" y2="741" stroke="#d8a8b8" stroke-width="1.2"/>
<circle cx="1000" cy="741" r="2.2" fill="#f4e4ea" stroke="#c89aaa" stroke-width="0.8"/>
<circle cx="1008" cy="741" r="2.2" fill="#f4e4ea" stroke="#c89aaa" stroke-width="0.8"/>
<rect x="640" y="481" width="427" height="342" fill="none" stroke="#111" stroke-width="2.2"/>
</svg>
</body></html>
